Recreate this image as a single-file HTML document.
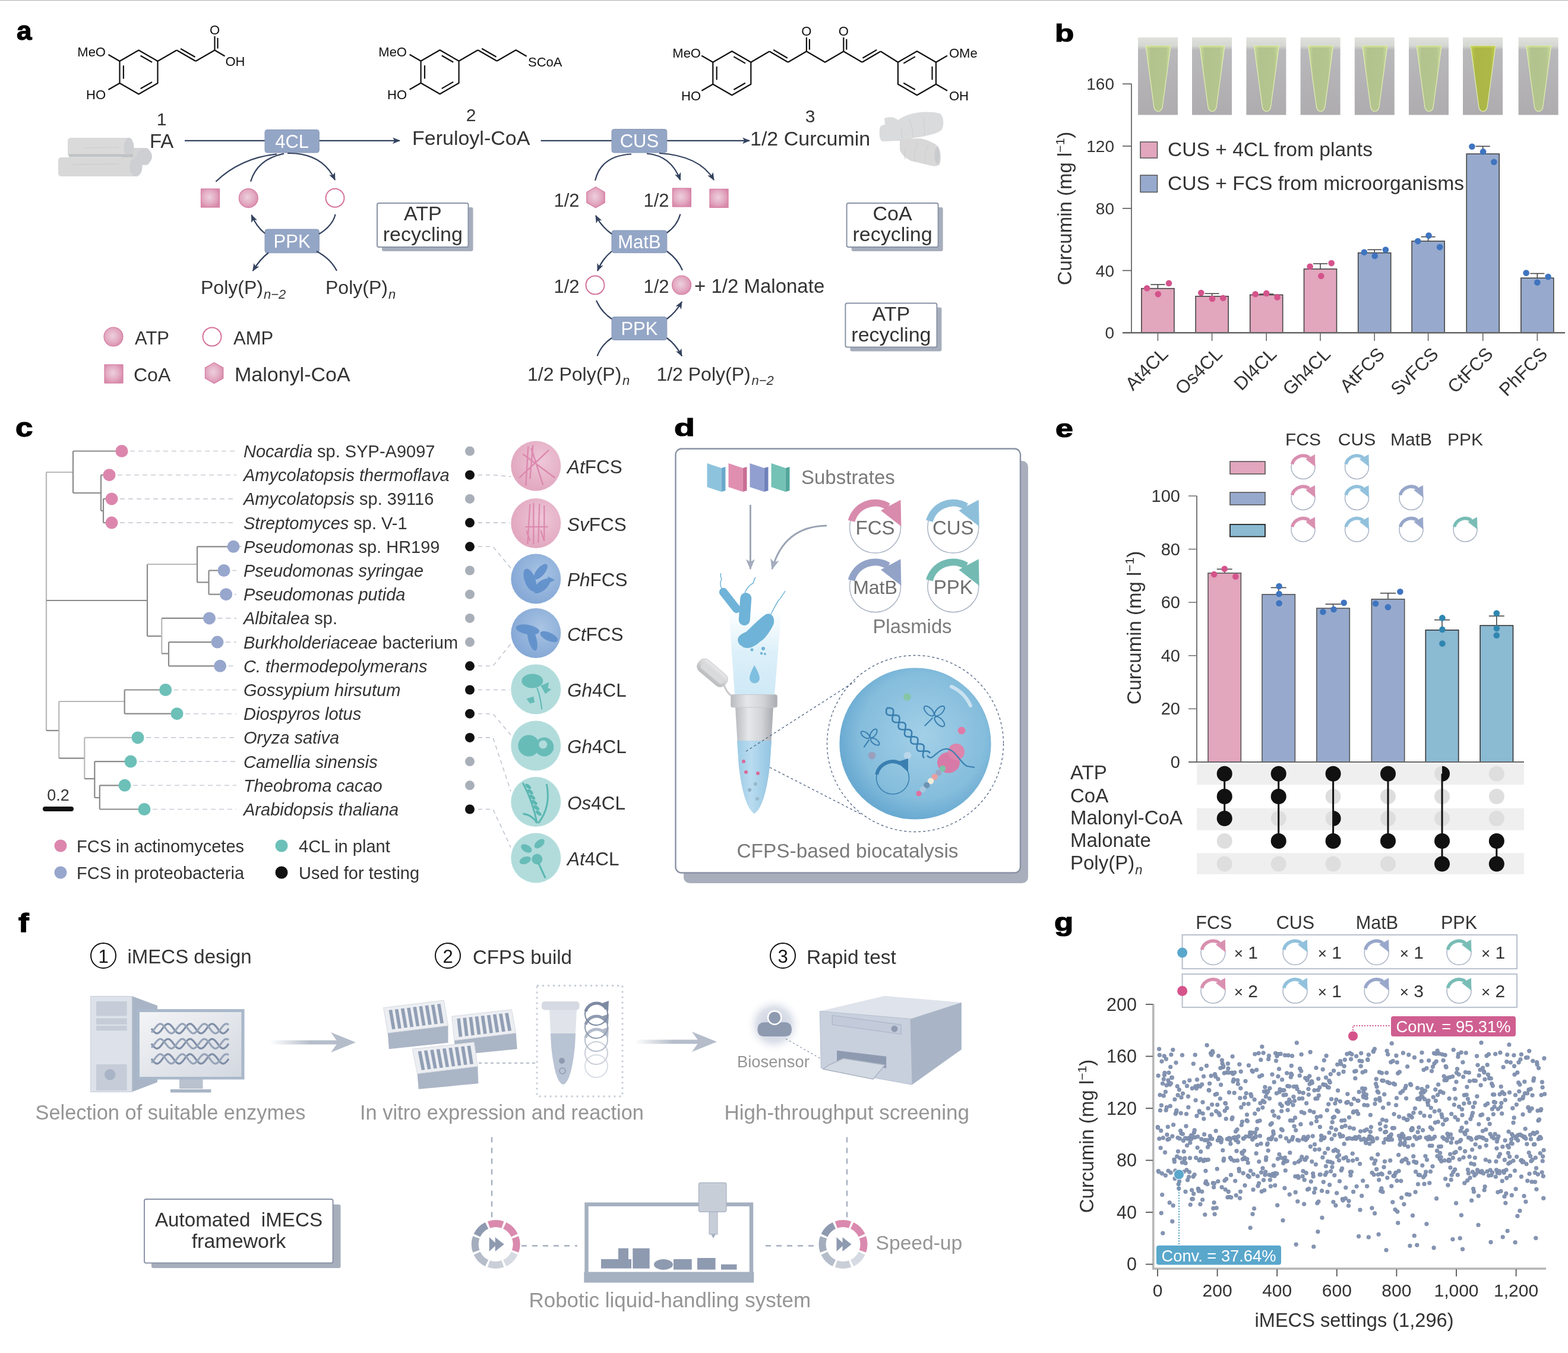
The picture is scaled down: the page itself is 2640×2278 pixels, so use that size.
<!DOCTYPE html>
<html><head><meta charset="utf-8"><title>iMECS curcumin figure</title>
<style>html,body{margin:0;padding:0;background:#fff;overflow:hidden;}svg{display:block;}
text{font-family:"Liberation Sans",Arial,sans-serif;}</style></head>
<body><svg width="2640" height="2278" viewBox="0 0 2640 2278">
<defs>
<marker id="ah" viewBox="0 0 12 10" refX="11" refY="5" markerWidth="13" markerHeight="11" orient="auto" markerUnits="userSpaceOnUse"><path d="M0,0 L12,5 L0,10 L3,5 z" fill="#33425e"/></marker>
<marker id="ahg" viewBox="0 0 12 10" refX="11" refY="5" markerWidth="18" markerHeight="16" orient="auto" markerUnits="userSpaceOnUse"><path d="M0,0 L12,5 L0,10 L3,5 z" fill="#a4acbd"/></marker>
<radialGradient id="pinkg" cx="0.45" cy="0.45" r="0.6"><stop offset="0" stop-color="#ecd0dc"/><stop offset="0.6" stop-color="#e3aac2"/><stop offset="1" stop-color="#d88aab"/></radialGradient>
<linearGradient id="tubebg" x1="0" y1="0" x2="0" y2="1"><stop offset="0" stop-color="#e0e1dc"/><stop offset="0.11" stop-color="#d5d7d2"/><stop offset="0.16" stop-color="#b9b8bb"/><stop offset="1" stop-color="#aeacae"/></linearGradient>
<linearGradient id="tubeliq" x1="0" y1="0" x2="1" y2="0"><stop offset="0" stop-color="#cadc9c"/><stop offset="0.2" stop-color="#b3c38e"/><stop offset="0.8" stop-color="#b5c58f"/><stop offset="1" stop-color="#cadc9c"/></linearGradient>
<linearGradient id="tubeliq2" x1="0" y1="0" x2="1" y2="0"><stop offset="0" stop-color="#c0cc52"/><stop offset="0.2" stop-color="#abb646"/><stop offset="0.8" stop-color="#adb848"/><stop offset="1" stop-color="#c0cc52"/></linearGradient>
<radialGradient id="cpink" cx="0.6" cy="0.4" r="0.6"><stop offset="0" stop-color="#eec7d8"/><stop offset="1" stop-color="#e2a8c0"/></radialGradient>
<radialGradient id="cblue" cx="0.6" cy="0.4" r="0.6"><stop offset="0" stop-color="#a9c4e4"/><stop offset="1" stop-color="#86a9d6"/></radialGradient>
<linearGradient id="beam" x1="0" y1="0" x2="0" y2="1"><stop offset="0" stop-color="#e4f3fa" stop-opacity="0"/><stop offset="0.5" stop-color="#dcf0f9"/><stop offset="1" stop-color="#cfe9f6"/></linearGradient>
<linearGradient id="tubebody" x1="0" y1="0" x2="1" y2="0"><stop offset="0" stop-color="#b9bbc0"/><stop offset="0.35" stop-color="#e6e7ea"/><stop offset="0.7" stop-color="#d2d3d7"/><stop offset="1" stop-color="#a9abb1"/></linearGradient>
<linearGradient id="tubeliqd" x1="0" y1="0" x2="1" y2="0"><stop offset="0" stop-color="#9ccbe6"/><stop offset="0.4" stop-color="#b9dcf0"/><stop offset="1" stop-color="#92c4e2"/></linearGradient>
<radialGradient id="cell" cx="0.55" cy="0.45" r="0.55"><stop offset="0" stop-color="#a3d0e8"/><stop offset="0.75" stop-color="#85bddc"/><stop offset="1" stop-color="#6aaad2"/></radialGradient>
<linearGradient id="capg" x1="0" y1="0" x2="0" y2="1"><stop offset="0" stop-color="#e9e9ea"/><stop offset="1" stop-color="#b9babd"/></linearGradient>
<linearGradient id="garr" x1="0" y1="0" x2="1" y2="0"><stop offset="0" stop-color="#b5bdcb" stop-opacity="0"/><stop offset="0.6" stop-color="#b5bdcb"/><stop offset="1" stop-color="#b5bdcb"/></linearGradient>
<linearGradient id="screen" x1="0" y1="0" x2="1" y2="1"><stop offset="0" stop-color="#f3f4f6"/><stop offset="1" stop-color="#d3d8e0"/></linearGradient>
<radialGradient id="glow" cx="0.5" cy="0.5" r="0.5"><stop offset="0" stop-color="#c3c9da"/><stop offset="0.6" stop-color="#dde1ea"/><stop offset="1" stop-color="#ffffff" stop-opacity="0"/></radialGradient>

</defs>
<rect width="2640" height="2278" fill="#fff"/>
<line x1="0" y1="0.5" x2="2640" y2="0.5" stroke="#bdbdbd" stroke-width="1.5"/>
<g fill="#333">
<text transform="translate(28,66.5) scale(1.04,1.0)" font-size="44" font-weight="bold" fill="#000" stroke="#000" stroke-width="1.3">a</text>
<path d="M233.5,84.5 L265.5,103.0 L265.5,140.0 L233.5,158.5 L201.5,140.0 L201.5,103.0 Z" stroke="#111" stroke-width="2.2" fill="none" stroke-linejoin="round"/>
<line x1="236.6" y1="93.7" x2="256.1" y2="104.9" stroke="#111" stroke-width="2.2"/>
<line x1="256.1" y1="138.1" x2="236.6" y2="149.3" stroke="#111" stroke-width="2.2"/>
<line x1="207.9" y1="132.7" x2="207.9" y2="110.3" stroke="#111" stroke-width="2.2"/>
<line x1="201.5" y1="103.0" x2="182.5" y2="92.0" stroke="#111" stroke-width="2.2"/>
<text x="178.0" y="95.0" font-size="22" text-anchor="end" fill="#111">MeO</text>
<line x1="201.5" y1="140.0" x2="182.5" y2="151.0" stroke="#111" stroke-width="2.2"/>
<text x="178.0" y="167.0" font-size="22" text-anchor="end" fill="#111">HO</text>
<path d="M265.5,103.0 L297.5,84.5" stroke="#111" stroke-width="2.2" fill="none" stroke-linejoin="round"/>
<line x1="297.5" y1="84.5" x2="329.5" y2="103.0" stroke="#111" stroke-width="2.2"/>
<line x1="304.1" y1="82.0" x2="328.5" y2="96.0" stroke="#111" stroke-width="2.2"/>
<path d="M329.5,103.0 L361.5,84.5" stroke="#111" stroke-width="2.2" fill="none" stroke-linejoin="round"/>
<line x1="361.5" y1="84.5" x2="361.5" y2="61.0" stroke="#111" stroke-width="2.2"/>
<line x1="366.5" y1="81.7" x2="366.5" y2="63.8" stroke="#111" stroke-width="2.2"/>
<text x="361.5" y="58.0" font-size="22" text-anchor="middle" fill="#111">O</text>
<path d="M361.5,84.5 L378.5,94.5" stroke="#111" stroke-width="2.2" fill="none" stroke-linejoin="round"/>
<text x="379.5" y="110.5" font-size="22" fill="#111">OH</text>
<path d="M740.6,84.3 L772.6,102.8 L772.6,139.8 L740.6,158.3 L708.6,139.8 L708.6,102.8 Z" stroke="#111" stroke-width="2.2" fill="none" stroke-linejoin="round"/>
<line x1="743.7" y1="93.5" x2="763.2" y2="104.7" stroke="#111" stroke-width="2.2"/>
<line x1="763.2" y1="137.9" x2="743.7" y2="149.1" stroke="#111" stroke-width="2.2"/>
<line x1="715.0" y1="132.5" x2="715.0" y2="110.1" stroke="#111" stroke-width="2.2"/>
<line x1="708.6" y1="102.8" x2="689.6" y2="91.8" stroke="#111" stroke-width="2.2"/>
<text x="685.0" y="95.0" font-size="22" text-anchor="end" fill="#111">MeO</text>
<line x1="708.6" y1="139.8" x2="689.6" y2="150.8" stroke="#111" stroke-width="2.2"/>
<text x="685.0" y="167.0" font-size="22" text-anchor="end" fill="#111">HO</text>
<path d="M772.6,102.8 L804.6,84.3" stroke="#111" stroke-width="2.2" fill="none" stroke-linejoin="round"/>
<line x1="804.6" y1="84.3" x2="836.6" y2="102.8" stroke="#111" stroke-width="2.2"/>
<line x1="811.2" y1="81.8" x2="835.6" y2="95.8" stroke="#111" stroke-width="2.2"/>
<path d="M836.6,102.8 L868.6,84.3 L886.6,94.8" stroke="#111" stroke-width="2.2" fill="none" stroke-linejoin="round"/>
<text x="889.0" y="112.0" font-size="22" fill="#111">SCoA</text>
<path d="M1232.3,86.2 L1264.3,104.7 L1264.3,141.7 L1232.3,160.2 L1200.3,141.7 L1200.3,104.7 Z" stroke="#111" stroke-width="2.2" fill="none" stroke-linejoin="round"/>
<line x1="1235.4" y1="95.4" x2="1254.9" y2="106.6" stroke="#111" stroke-width="2.2"/>
<line x1="1254.9" y1="139.8" x2="1235.4" y2="151.0" stroke="#111" stroke-width="2.2"/>
<line x1="1206.7" y1="134.4" x2="1206.7" y2="112.0" stroke="#111" stroke-width="2.2"/>
<line x1="1200.3" y1="104.7" x2="1181.3" y2="93.7" stroke="#111" stroke-width="2.2"/>
<text x="1180.0" y="97.0" font-size="22" text-anchor="end" fill="#111">MeO</text>
<line x1="1200.3" y1="141.7" x2="1181.3" y2="152.7" stroke="#111" stroke-width="2.2"/>
<text x="1180.0" y="169.0" font-size="22" text-anchor="end" fill="#111">HO</text>
<path d="M1543.9,86.2 L1575.9,104.7 L1575.9,141.7 L1543.9,160.2 L1511.9,141.7 L1511.9,104.7 Z" stroke="#111" stroke-width="2.2" fill="none" stroke-linejoin="round"/>
<line x1="1521.3" y1="106.6" x2="1540.8" y2="95.4" stroke="#111" stroke-width="2.2"/>
<line x1="1569.5" y1="112.0" x2="1569.5" y2="134.4" stroke="#111" stroke-width="2.2"/>
<line x1="1540.8" y1="151.0" x2="1521.3" y2="139.8" stroke="#111" stroke-width="2.2"/>
<path d="M1264.3,104.7 L1295.5,86.5" stroke="#111" stroke-width="2.2" fill="none" stroke-linejoin="round"/>
<line x1="1295.5" y1="86.5" x2="1326.7" y2="104.7" stroke="#111" stroke-width="2.2"/>
<line x1="1302.1" y1="83.9" x2="1325.8" y2="97.8" stroke="#111" stroke-width="2.2"/>
<path d="M1326.7,104.7 L1357.9,86.5 L1389.1,104.7 L1420.3,86.5 L1451.5,104.7" stroke="#111" stroke-width="2.2" fill="none" stroke-linejoin="round"/>
<line x1="1451.5" y1="104.7" x2="1482.7" y2="86.5" stroke="#111" stroke-width="2.2"/>
<line x1="1452.5" y1="97.8" x2="1476.2" y2="83.9" stroke="#111" stroke-width="2.2"/>
<path d="M1482.7,86.5 L1511.9,104.7" stroke="#111" stroke-width="2.2" fill="none" stroke-linejoin="round"/>
<line x1="1357.9" y1="86.5" x2="1357.9" y2="63.0" stroke="#111" stroke-width="2.2"/>
<line x1="1362.9" y1="83.7" x2="1362.9" y2="65.8" stroke="#111" stroke-width="2.2"/>
<text x="1357.9" y="60.0" font-size="22" text-anchor="middle" fill="#111">O</text>
<line x1="1420.3" y1="86.5" x2="1420.3" y2="63.0" stroke="#111" stroke-width="2.2"/>
<line x1="1425.3" y1="83.7" x2="1425.3" y2="65.8" stroke="#111" stroke-width="2.2"/>
<text x="1420.3" y="60.0" font-size="22" text-anchor="middle" fill="#111">O</text>
<line x1="1575.9" y1="104.7" x2="1594.9" y2="93.7" stroke="#111" stroke-width="2.2"/>
<text x="1598.0" y="97.0" font-size="22" fill="#111">OMe</text>
<line x1="1575.9" y1="141.7" x2="1594.9" y2="152.7" stroke="#111" stroke-width="2.2"/>
<text x="1598.0" y="169.0" font-size="22" fill="#111">OH</text>
<text x="272.0" y="211.0" font-size="30" text-anchor="middle">1</text>
<text x="793.0" y="204.0" font-size="30" text-anchor="middle">2</text>
<text x="1364.0" y="206.0" font-size="30" text-anchor="middle">3</text>
<text x="252.0" y="248.6" font-size="33">FA</text>
<text x="694.0" y="243.5" font-size="34">Feruloyl-CoA</text>
<text x="1263.0" y="245.0" font-size="34">1/2 Curcumin</text>
<g opacity="0.95">
<rect x="205.0" y="249.0" width="47.0" height="29.0" rx="6" fill="#d2d2d2"/>
<circle cx="243.0" cy="263.5" r="13.0" fill="#cbcdd0"/>
<rect x="114.0" y="232.0" width="108.0" height="32.0" rx="5" fill="#d9d9d9"/>
<ellipse cx="217" cy="248" rx="8.5" ry="16" fill="#cbcdd0"/>
<rect x="98.0" y="265.0" width="136.0" height="32.0" rx="5" fill="#d6d6d6"/>
<ellipse cx="229" cy="281" rx="10.5" ry="16" fill="#cbcdd0"/>
<rect x="116.0" y="259.5" width="108.0" height="5.0" fill="#bcc0c3"/>
<line x1="120.0" y1="277.0" x2="200.0" y2="276.0" stroke="#c8c8c8" stroke-width="1"/>
<line x1="140.0" y1="249.0" x2="200.0" y2="248.0" stroke="#cacaca" stroke-width="1"/>
</g>
<g fill="#dadbdc">
<path d="M1481,218 C1481,212 1486,210 1490,210 L1489,200 C1489,197 1505,196 1507,199 L1512,202 C1520,197 1528,193 1534,192 C1545,188 1570,187 1582,191 C1590,195 1590,215 1584,220 C1575,226 1555,230 1540,232 L1518,237 L1486,238 C1481,237 1480,226 1481,218 Z"/>
<path d="M1515,234 L1550,233 C1562,236 1574,241 1579,246 C1584,252 1585,270 1582,277 C1578,281 1570,280 1560,277 L1534,271 C1525,266 1517,260 1515,252 Z" fill="#d8d8d9"/>
</g>
<ellipse cx="1578" cy="262" rx="4.5" ry="14" fill="#cacbce"/>
<path d="M1525,248 Q1522,258 1524,268 M1546,240 Q1538,255 1540,272 M1563,244 Q1556,258 1558,276 M1530,201 Q1537,214 1537,230 M1555,197 L1557,228 M1517,215 L1519,232" stroke="#cdd0d3" stroke-width="1.2" fill="none"/>
<path d="M311,236.8 L446,236.8" stroke="#33425e" stroke-width="2.2" fill="none"/>
<path d="M537,236.8 L673,236.8" stroke="#33425e" stroke-width="2.2" fill="none" marker-end="url(#ah)"/>
<path d="M910.6,236.8 L1030,236.8" stroke="#33425e" stroke-width="2.2" fill="none"/>
<path d="M1122.8,236.8 L1262,236.8" stroke="#33425e" stroke-width="2.2" fill="none" marker-end="url(#ah)"/>
<rect x="446.0" y="218.5" width="91.3" height="38.5" rx="4" fill="#94a6c6" stroke="#8797b6" stroke-width="1"/>
<text x="491.6" y="248.9" font-size="31" text-anchor="middle" fill="#fff">4CL</text>
<rect x="1030.0" y="217.5" width="92.8" height="39.5" rx="4" fill="#94a6c6" stroke="#8797b6" stroke-width="1"/>
<text x="1076.4" y="248.4" font-size="31" text-anchor="middle" fill="#fff">CUS</text>
<rect x="338.5" y="318.0" width="31.0" height="31.0" fill="url(#pinkg)" stroke="#d47ca0" stroke-width="1.2"/>
<circle cx="418.3" cy="333.6" r="16.0" fill="url(#pinkg)" stroke="#d47ca0" stroke-width="1.2"/>
<circle cx="564.0" cy="333.3" r="15.5" fill="#fff" stroke="#d4729a" stroke-width="2"/>
<path d="M363.4,305.7 Q405,266 466,259.4" stroke="#33425e" stroke-width="2.2" fill="none"/>
<path d="M422,305.7 Q433,268 478,258.6" stroke="#33425e" stroke-width="2.2" fill="none"/>
<path d="M484,258 Q543,257 564,303" stroke="#33425e" stroke-width="2.2" fill="none" marker-end="url(#ah)"/>
<rect x="446.0" y="386.0" width="91.3" height="39.8" rx="4" fill="#94a6c6" stroke="#8797b6" stroke-width="1"/>
<text x="491.6" y="417.1" font-size="31" text-anchor="middle" fill="#fff">PPK</text>
<path d="M446,393 Q432,382 423.5,362" stroke="#33425e" stroke-width="2.2" fill="none" marker-end="url(#ah)"/>
<path d="M564.7,360.7 Q560,380 537.2,394" stroke="#33425e" stroke-width="2.2" fill="none"/>
<path d="M452,425.5 Q438,436 425.7,456" stroke="#33425e" stroke-width="2.2" fill="none" marker-end="url(#ah)"/>
<path d="M567,456 Q557,436 533,423" stroke="#33425e" stroke-width="2.2" fill="none"/>
<text x="338.0" y="495.0" font-size="32">Poly(P)</text>
<text x="443.9" y="503.0" font-size="22" font-style="italic">n−2</text>
<text x="548.0" y="495.0" font-size="32">Poly(P)</text>
<text x="653.9" y="503.0" font-size="22" font-style="italic">n</text>
<rect x="643.0" y="349.0" width="153.5" height="74.0" rx="3" fill="#a6aebc"/>
<rect x="635.0" y="342.0" width="153.5" height="74.0" rx="3" fill="#fff" stroke="#8a94a7" stroke-width="2"/>
<text x="711.8" y="371.0" font-size="34" text-anchor="middle">ATP</text>
<text x="711.8" y="406.0" font-size="34" text-anchor="middle">recycling</text>
<circle cx="191.0" cy="567.0" r="16.0" fill="url(#pinkg)" stroke="#d47ca0" stroke-width="1.2"/>
<text x="227.0" y="580.0" font-size="31">ATP</text>
<circle cx="357.0" cy="567.0" r="15.5" fill="#fff" stroke="#d4729a" stroke-width="2"/>
<text x="393.0" y="580.0" font-size="31">AMP</text>
<rect x="176.0" y="614.0" width="31.0" height="31.0" fill="url(#pinkg)" stroke="#d47ca0" stroke-width="1.2"/>
<text x="225.0" y="642.0" font-size="32">CoA</text>
<polygon points="360.6,610.5 375.8,619.2 375.8,636.8 360.6,645.5 345.4,636.8 345.4,619.2" fill="url(#pinkg)" stroke="#d47ca0" stroke-width="1.2"/>
<text x="395.0" y="642.0" font-size="34">Malonyl-CoA</text>
<text x="932.5" y="347.5" font-size="31">1/2</text>
<polygon points="1003.0,314.8 1018.2,323.6 1018.2,341.1 1003.0,349.8 987.8,341.1 987.8,323.6" fill="url(#pinkg)" stroke="#d47ca0" stroke-width="1.2"/>
<text x="1083.5" y="347.5" font-size="31">1/2</text>
<rect x="1132.4" y="317.0" width="31.0" height="31.0" fill="url(#pinkg)" stroke="#d47ca0" stroke-width="1.2"/>
<rect x="1195.0" y="318.4" width="31.0" height="31.0" fill="url(#pinkg)" stroke="#d47ca0" stroke-width="1.2"/>
<path d="M1002,304 Q1012,262 1063,259.5" stroke="#33425e" stroke-width="2.2" fill="none"/>
<path d="M1089,258.5 Q1130,262 1145.4,303" stroke="#33425e" stroke-width="2.2" fill="none" marker-end="url(#ah)"/>
<path d="M1110,258 Q1178,262 1202,303" stroke="#33425e" stroke-width="2.2" fill="none" marker-end="url(#ah)"/>
<rect x="1030.0" y="388.0" width="92.8" height="37.7" rx="4" fill="#94a6c6" stroke="#8797b6" stroke-width="1"/>
<text x="1076.4" y="418.0" font-size="31" text-anchor="middle" fill="#fff">MatB</text>
<path d="M1030,394 Q1013,382 1003,363" stroke="#33425e" stroke-width="2.2" fill="none" marker-end="url(#ah)"/>
<path d="M1145.4,360.5 Q1140,380 1122.8,392" stroke="#33425e" stroke-width="2.2" fill="none"/>
<path d="M1030,423 Q1014,436 1006,456" stroke="#33425e" stroke-width="2.2" fill="none" marker-end="url(#ah)"/>
<path d="M1149,455 Q1141,436 1122.8,423" stroke="#33425e" stroke-width="2.2" fill="none"/>
<text x="932.5" y="493.0" font-size="31">1/2</text>
<circle cx="1002.0" cy="480.0" r="15.5" fill="#fff" stroke="#d4729a" stroke-width="2"/>
<text x="1083.5" y="493.0" font-size="31">1/2</text>
<circle cx="1147.6" cy="480.0" r="16.0" fill="url(#pinkg)" stroke="#d47ca0" stroke-width="1.2"/>
<text x="1169.0" y="493.0" font-size="33">+ 1/2 Malonate</text>
<rect x="1030.0" y="533.5" width="92.8" height="39.0" rx="4" fill="#94a6c6" stroke="#8797b6" stroke-width="1"/>
<text x="1076.4" y="564.2" font-size="31" text-anchor="middle" fill="#fff">PPK</text>
<path d="M1004,506 Q1013,526 1030,537" stroke="#33425e" stroke-width="2.2" fill="none"/>
<path d="M1122.8,537 Q1138,526 1148,508" stroke="#33425e" stroke-width="2.2" fill="none" marker-end="url(#ah)"/>
<path d="M1005.5,599.5 Q1013,580 1030,569" stroke="#33425e" stroke-width="2.2" fill="none"/>
<path d="M1122.8,569 Q1138,580 1148,599.5" stroke="#33425e" stroke-width="2.2" fill="none" marker-end="url(#ah)"/>
<text x="888.0" y="640.7" font-size="32">1/2 Poly(P)</text>
<text x="1048.0" y="648.0" font-size="22" font-style="italic">n</text>
<text x="1105.4" y="640.7" font-size="32">1/2 Poly(P)</text>
<text x="1265.5" y="648.0" font-size="22" font-style="italic">n−2</text>
<rect x="1433.6" y="349.0" width="154.0" height="74.0" rx="3" fill="#a6aebc"/>
<rect x="1425.6" y="342.0" width="154.0" height="74.0" rx="3" fill="#fff" stroke="#8a94a7" stroke-width="2"/>
<text x="1502.6" y="371.0" font-size="34" text-anchor="middle">CoA</text>
<text x="1502.6" y="406.0" font-size="34" text-anchor="middle">recycling</text>
<rect x="1431.4" y="517.5" width="154.0" height="74.0" rx="3" fill="#a6aebc"/>
<rect x="1423.4" y="510.5" width="154.0" height="74.0" rx="3" fill="#fff" stroke="#8a94a7" stroke-width="2"/>
<text x="1500.4" y="539.5" font-size="34" text-anchor="middle">ATP</text>
<text x="1500.4" y="574.5" font-size="34" text-anchor="middle">recycling</text>
<text transform="translate(1776,69.5) scale(1.2,0.93)" font-size="44" font-weight="bold" fill="#000" stroke="#000" stroke-width="1.3">b</text>
<rect x="1916.0" y="63.0" width="67.0" height="130.5" fill="url(#tubebg)"/>
<path d="M1929,77 L1971,77 L1957,181 Q1955,187.5 1950,187.5 Q1945,187.5 1943,181 Z" fill="url(#tubeliq)" stroke="#e2f0b0" stroke-width="1.2"/>
<line x1="1929.0" y1="79.0" x2="1971.0" y2="79.0" stroke="#d0e090" stroke-width="1.5"/>
<rect x="2007.0" y="63.0" width="67.0" height="130.5" fill="url(#tubebg)"/>
<path d="M2020,77 L2062,77 L2048,181 Q2046,187.5 2041,187.5 Q2036,187.5 2034,181 Z" fill="url(#tubeliq)" stroke="#e2f0b0" stroke-width="1.2"/>
<line x1="2020.0" y1="79.0" x2="2062.0" y2="79.0" stroke="#d0e090" stroke-width="1.5"/>
<rect x="2098.4" y="63.0" width="67.0" height="130.5" fill="url(#tubebg)"/>
<path d="M2111.4,77 L2153.4,77 L2139.4,181 Q2137.4,187.5 2132.4,187.5 Q2127.4,187.5 2125.4,181 Z" fill="url(#tubeliq)" stroke="#e2f0b0" stroke-width="1.2"/>
<line x1="2111.4" y1="79.0" x2="2153.4" y2="79.0" stroke="#d0e090" stroke-width="1.5"/>
<rect x="2189.6" y="63.0" width="67.0" height="130.5" fill="url(#tubebg)"/>
<path d="M2202.6,77 L2244.6,77 L2230.6,181 Q2228.6,187.5 2223.6,187.5 Q2218.6,187.5 2216.6,181 Z" fill="url(#tubeliq)" stroke="#e2f0b0" stroke-width="1.2"/>
<line x1="2202.6" y1="79.0" x2="2244.6" y2="79.0" stroke="#d0e090" stroke-width="1.5"/>
<rect x="2280.8" y="63.0" width="67.0" height="130.5" fill="url(#tubebg)"/>
<path d="M2293.8,77 L2335.8,77 L2321.8,181 Q2319.8,187.5 2314.8,187.5 Q2309.8,187.5 2307.8,181 Z" fill="url(#tubeliq)" stroke="#e2f0b0" stroke-width="1.2"/>
<line x1="2293.8" y1="79.0" x2="2335.8" y2="79.0" stroke="#d0e090" stroke-width="1.5"/>
<rect x="2372.0" y="63.0" width="67.0" height="130.5" fill="url(#tubebg)"/>
<path d="M2385,77 L2427,77 L2413,181 Q2411,187.5 2406,187.5 Q2401,187.5 2399,181 Z" fill="url(#tubeliq)" stroke="#e2f0b0" stroke-width="1.2"/>
<line x1="2385.0" y1="79.0" x2="2427.0" y2="79.0" stroke="#d0e090" stroke-width="1.5"/>
<rect x="2463.0" y="63.0" width="67.0" height="130.5" fill="url(#tubebg)"/>
<path d="M2476,77 L2518,77 L2504,181 Q2502,187.5 2497,187.5 Q2492,187.5 2490,181 Z" fill="url(#tubeliq2)" stroke="#e2f0b0" stroke-width="1.2"/>
<line x1="2476.0" y1="79.0" x2="2518.0" y2="79.0" stroke="#c8d450" stroke-width="1.5"/>
<rect x="2556.6" y="63.0" width="67.0" height="130.5" fill="url(#tubebg)"/>
<path d="M2569.6,77 L2611.6,77 L2597.6,181 Q2595.6,187.5 2590.6,187.5 Q2585.6,187.5 2583.6,181 Z" fill="url(#tubeliq)" stroke="#e2f0b0" stroke-width="1.2"/>
<line x1="2569.6" y1="79.0" x2="2611.6" y2="79.0" stroke="#d0e090" stroke-width="1.5"/>
<line x1="1905.0" y1="141.0" x2="1905.0" y2="560.3" stroke="#555" stroke-width="1.6"/>
<line x1="1890.0" y1="560.3" x2="1905.0" y2="560.3" stroke="#555" stroke-width="1.6"/>
<text x="1876.0" y="570.3" font-size="28" text-anchor="end">0</text>
<line x1="1890.0" y1="455.5" x2="1905.0" y2="455.5" stroke="#555" stroke-width="1.6"/>
<text x="1876.0" y="465.5" font-size="28" text-anchor="end">40</text>
<line x1="1890.0" y1="350.8" x2="1905.0" y2="350.8" stroke="#555" stroke-width="1.6"/>
<text x="1876.0" y="360.8" font-size="28" text-anchor="end">80</text>
<line x1="1890.0" y1="246.0" x2="1905.0" y2="246.0" stroke="#555" stroke-width="1.6"/>
<text x="1876.0" y="256.0" font-size="28" text-anchor="end">120</text>
<line x1="1890.0" y1="141.3" x2="1905.0" y2="141.3" stroke="#555" stroke-width="1.6"/>
<text x="1876.0" y="151.3" font-size="28" text-anchor="end">160</text>
<rect x="1920.0" y="239.0" width="28.5" height="27.0" fill="#e2a6bd" stroke="#555" stroke-width="1.5"/>
<rect x="1920.0" y="295.0" width="28.5" height="28.5" fill="#97aacd" stroke="#555" stroke-width="1.5"/>
<text x="1966.0" y="263.0" font-size="33.6">CUS + 4CL from plants</text>
<text x="1966.0" y="320.0" font-size="33.6">CUS + FCS from microorganisms</text>
<line x1="1949.4" y1="485.7" x2="1949.4" y2="479.1" stroke="#444" stroke-width="1.6"/>
<line x1="1937.4" y1="479.1" x2="1961.4" y2="479.1" stroke="#444" stroke-width="1.6"/>
<rect x="1921.9" y="485.7" width="55.0" height="74.6" fill="#e2a6bd" stroke="#444" stroke-width="1.6"/>
<circle cx="1931.1" cy="485.2" r="5.3" fill="#d4538b"/>
<circle cx="1949.8" cy="495.2" r="5.3" fill="#d4538b"/>
<circle cx="1968.0" cy="476.9" r="5.3" fill="#d4538b"/>
<line x1="1949.4" y1="560.3" x2="1949.4" y2="574.0" stroke="#666" stroke-width="1.6"/>
<text x="0" y="0" font-size="31" text-anchor="end" transform="translate(1968.4,598.0) rotate(-45)">At4CL</text>
<line x1="2040.6" y1="498.8" x2="2040.6" y2="494.3" stroke="#444" stroke-width="1.6"/>
<line x1="2028.6" y1="494.3" x2="2052.6" y2="494.3" stroke="#444" stroke-width="1.6"/>
<rect x="2013.1" y="498.8" width="55.0" height="61.5" fill="#e2a6bd" stroke="#444" stroke-width="1.6"/>
<circle cx="2022.3" cy="493.0" r="5.3" fill="#d4538b"/>
<circle cx="2041.0" cy="503.0" r="5.3" fill="#d4538b"/>
<circle cx="2059.3" cy="501.7" r="5.3" fill="#d4538b"/>
<line x1="2040.6" y1="560.3" x2="2040.6" y2="574.0" stroke="#666" stroke-width="1.6"/>
<text x="0" y="0" font-size="31" text-anchor="end" transform="translate(2059.6,598.0) rotate(-45)">Os4CL</text>
<line x1="2132.2" y1="496.4" x2="2132.2" y2="495.1" stroke="#444" stroke-width="1.6"/>
<line x1="2120.2" y1="495.1" x2="2144.2" y2="495.1" stroke="#444" stroke-width="1.6"/>
<rect x="2104.7" y="496.4" width="55.0" height="63.9" fill="#e2a6bd" stroke="#444" stroke-width="1.6"/>
<circle cx="2113.6" cy="495.2" r="5.3" fill="#d4538b"/>
<circle cx="2132.2" cy="493.9" r="5.3" fill="#d4538b"/>
<circle cx="2150.5" cy="500.4" r="5.3" fill="#d4538b"/>
<line x1="2132.2" y1="560.3" x2="2132.2" y2="574.0" stroke="#666" stroke-width="1.6"/>
<text x="0" y="0" font-size="31" text-anchor="end" transform="translate(2151.2,598.0) rotate(-45)">Dl4CL</text>
<line x1="2223.0" y1="452.9" x2="2223.0" y2="444.0" stroke="#444" stroke-width="1.6"/>
<line x1="2211.0" y1="444.0" x2="2235.0" y2="444.0" stroke="#444" stroke-width="1.6"/>
<rect x="2195.5" y="452.9" width="55.0" height="107.4" fill="#e2a6bd" stroke="#444" stroke-width="1.6"/>
<circle cx="2205.6" cy="448.7" r="5.3" fill="#d4538b"/>
<circle cx="2224.3" cy="464.8" r="5.3" fill="#d4538b"/>
<circle cx="2241.7" cy="443.1" r="5.3" fill="#d4538b"/>
<line x1="2223.0" y1="560.3" x2="2223.0" y2="574.0" stroke="#666" stroke-width="1.6"/>
<text x="0" y="0" font-size="31" text-anchor="end" transform="translate(2242.0,598.0) rotate(-45)">Gh4CL</text>
<line x1="2314.2" y1="425.7" x2="2314.2" y2="420.4" stroke="#444" stroke-width="1.6"/>
<line x1="2302.2" y1="420.4" x2="2326.2" y2="420.4" stroke="#444" stroke-width="1.6"/>
<rect x="2286.7" y="425.7" width="55.0" height="134.6" fill="#97aacd" stroke="#444" stroke-width="1.6"/>
<circle cx="2296.9" cy="424.8" r="5.3" fill="#3f74bf"/>
<circle cx="2314.7" cy="430.9" r="5.3" fill="#3f74bf"/>
<circle cx="2332.9" cy="420.5" r="5.3" fill="#3f74bf"/>
<line x1="2314.2" y1="560.3" x2="2314.2" y2="574.0" stroke="#666" stroke-width="1.6"/>
<text x="0" y="0" font-size="31" text-anchor="end" transform="translate(2333.2,598.0) rotate(-45)">AtFCS</text>
<line x1="2404.6" y1="406.0" x2="2404.6" y2="398.7" stroke="#444" stroke-width="1.6"/>
<line x1="2392.6" y1="398.7" x2="2416.6" y2="398.7" stroke="#444" stroke-width="1.6"/>
<rect x="2377.1" y="406.0" width="55.0" height="154.3" fill="#97aacd" stroke="#444" stroke-width="1.6"/>
<circle cx="2387.2" cy="406.1" r="5.3" fill="#3f74bf"/>
<circle cx="2405.5" cy="396.6" r="5.3" fill="#3f74bf"/>
<circle cx="2424.1" cy="416.1" r="5.3" fill="#3f74bf"/>
<line x1="2404.6" y1="560.3" x2="2404.6" y2="574.0" stroke="#666" stroke-width="1.6"/>
<text x="0" y="0" font-size="31" text-anchor="end" transform="translate(2423.6,598.0) rotate(-45)">SvFCS</text>
<line x1="2496.7" y1="259.1" x2="2496.7" y2="246.3" stroke="#444" stroke-width="1.6"/>
<line x1="2484.7" y1="246.3" x2="2508.7" y2="246.3" stroke="#444" stroke-width="1.6"/>
<rect x="2469.2" y="259.1" width="55.0" height="301.2" fill="#97aacd" stroke="#444" stroke-width="1.6"/>
<circle cx="2478.4" cy="246.7" r="5.3" fill="#3f74bf"/>
<circle cx="2497.1" cy="255.4" r="5.3" fill="#3f74bf"/>
<circle cx="2515.3" cy="272.8" r="5.3" fill="#3f74bf"/>
<line x1="2496.7" y1="560.3" x2="2496.7" y2="574.0" stroke="#666" stroke-width="1.6"/>
<text x="0" y="0" font-size="31" text-anchor="end" transform="translate(2515.7,598.0) rotate(-45)">CtFCS</text>
<line x1="2588.3" y1="468.1" x2="2588.3" y2="460.5" stroke="#444" stroke-width="1.6"/>
<line x1="2576.3" y1="460.5" x2="2600.3" y2="460.5" stroke="#444" stroke-width="1.6"/>
<rect x="2560.8" y="468.1" width="55.0" height="92.2" fill="#97aacd" stroke="#444" stroke-width="1.6"/>
<circle cx="2569.6" cy="459.6" r="5.3" fill="#3f74bf"/>
<circle cx="2588.3" cy="475.6" r="5.3" fill="#3f74bf"/>
<circle cx="2606.6" cy="466.1" r="5.3" fill="#3f74bf"/>
<line x1="2588.3" y1="560.3" x2="2588.3" y2="574.0" stroke="#666" stroke-width="1.6"/>
<text x="0" y="0" font-size="31" text-anchor="end" transform="translate(2607.3,598.0) rotate(-45)">PhFCS</text>
<line x1="1890.0" y1="560.3" x2="2635.0" y2="560.3" stroke="#666" stroke-width="2.4"/>
<text x="0" y="0" font-size="33" text-anchor="middle" transform="translate(1804,351) rotate(-90)">Curcumin (mg l<tspan font-size="21" dy="-12">−1</tspan><tspan dy="12">)</tspan></text>
<text transform="translate(26,735) scale(1.2,1.0)" font-size="44" font-weight="bold" fill="#000" stroke="#000" stroke-width="1.3">c</text>
<line x1="78.0" y1="795.0" x2="78.0" y2="1230.0" stroke="#b8b8b8" stroke-width="2.2"/>
<line x1="78.0" y1="795.0" x2="123.0" y2="795.0" stroke="#b8b8b8" stroke-width="2.2"/>
<line x1="123.0" y1="759.5" x2="123.0" y2="830.0" stroke="#8a8a8a" stroke-width="2.2"/>
<line x1="123.0" y1="759.5" x2="205.0" y2="759.5" stroke="#8a8a8a" stroke-width="2.2"/>
<line x1="123.0" y1="830.0" x2="170.0" y2="830.0" stroke="#8a8a8a" stroke-width="2.2"/>
<line x1="170.0" y1="799.7" x2="170.0" y2="860.0" stroke="#8a8a8a" stroke-width="2.2"/>
<line x1="170.0" y1="799.7" x2="184.0" y2="799.7" stroke="#8a8a8a" stroke-width="2.2"/>
<line x1="170.0" y1="860.0" x2="174.0" y2="860.0" stroke="#8a8a8a" stroke-width="2.2"/>
<line x1="174.0" y1="839.9" x2="174.0" y2="880.1" stroke="#8a8a8a" stroke-width="2.2"/>
<line x1="174.0" y1="839.9" x2="188.0" y2="839.9" stroke="#8a8a8a" stroke-width="2.2"/>
<line x1="174.0" y1="880.1" x2="188.0" y2="880.1" stroke="#8a8a8a" stroke-width="2.2"/>
<line x1="78.0" y1="1011.0" x2="248.0" y2="1011.0" stroke="#8a8a8a" stroke-width="2.2"/>
<line x1="248.0" y1="950.0" x2="248.0" y2="1071.0" stroke="#8a8a8a" stroke-width="2.2"/>
<line x1="248.0" y1="950.0" x2="332.0" y2="950.0" stroke="#b8b8b8" stroke-width="2.2"/>
<line x1="332.0" y1="920.3" x2="332.0" y2="980.4" stroke="#8a8a8a" stroke-width="2.2"/>
<line x1="332.0" y1="920.3" x2="393.0" y2="920.3" stroke="#8a8a8a" stroke-width="2.2"/>
<line x1="332.0" y1="980.4" x2="351.5" y2="980.4" stroke="#8a8a8a" stroke-width="2.2"/>
<line x1="351.5" y1="960.5" x2="351.5" y2="1000.7" stroke="#8a8a8a" stroke-width="2.2"/>
<line x1="351.5" y1="960.5" x2="377.0" y2="960.5" stroke="#8a8a8a" stroke-width="2.2"/>
<line x1="351.5" y1="1000.7" x2="380.6" y2="1000.7" stroke="#8a8a8a" stroke-width="2.2"/>
<line x1="248.0" y1="1071.0" x2="272.3" y2="1071.0" stroke="#8a8a8a" stroke-width="2.2"/>
<line x1="272.3" y1="1040.9" x2="272.3" y2="1100.4" stroke="#b8b8b8" stroke-width="2.2"/>
<line x1="272.3" y1="1040.9" x2="352.5" y2="1040.9" stroke="#8a8a8a" stroke-width="2.2"/>
<line x1="272.3" y1="1100.4" x2="284.0" y2="1100.4" stroke="#8a8a8a" stroke-width="2.2"/>
<line x1="284.0" y1="1081.1" x2="284.0" y2="1121.3" stroke="#8a8a8a" stroke-width="2.2"/>
<line x1="284.0" y1="1081.1" x2="366.0" y2="1081.1" stroke="#8a8a8a" stroke-width="2.2"/>
<line x1="284.0" y1="1121.3" x2="370.6" y2="1121.3" stroke="#8a8a8a" stroke-width="2.2"/>
<line x1="78.0" y1="1230.0" x2="99.3" y2="1230.0" stroke="#8a8a8a" stroke-width="2.2"/>
<line x1="99.3" y1="1181.0" x2="99.3" y2="1276.6" stroke="#b8b8b8" stroke-width="2.2"/>
<line x1="99.3" y1="1181.0" x2="209.7" y2="1181.0" stroke="#b8b8b8" stroke-width="2.2"/>
<line x1="209.7" y1="1161.5" x2="209.7" y2="1201.7" stroke="#8a8a8a" stroke-width="2.2"/>
<line x1="209.7" y1="1161.5" x2="278.7" y2="1161.5" stroke="#8a8a8a" stroke-width="2.2"/>
<line x1="209.7" y1="1201.7" x2="298.0" y2="1201.7" stroke="#8a8a8a" stroke-width="2.2"/>
<line x1="99.3" y1="1276.6" x2="142.3" y2="1276.6" stroke="#8a8a8a" stroke-width="2.2"/>
<line x1="142.3" y1="1241.9" x2="142.3" y2="1311.1" stroke="#b8b8b8" stroke-width="2.2"/>
<line x1="142.3" y1="1241.9" x2="232.0" y2="1241.9" stroke="#b8b8b8" stroke-width="2.2"/>
<line x1="142.3" y1="1311.1" x2="159.3" y2="1311.1" stroke="#8a8a8a" stroke-width="2.2"/>
<line x1="159.3" y1="1282.1" x2="159.3" y2="1343.0" stroke="#8a8a8a" stroke-width="2.2"/>
<line x1="159.3" y1="1282.1" x2="220.0" y2="1282.1" stroke="#8a8a8a" stroke-width="2.2"/>
<line x1="159.3" y1="1343.0" x2="167.8" y2="1343.0" stroke="#8a8a8a" stroke-width="2.2"/>
<line x1="167.8" y1="1322.3" x2="167.8" y2="1362.5" stroke="#8a8a8a" stroke-width="2.2"/>
<line x1="167.8" y1="1322.3" x2="210.0" y2="1322.3" stroke="#8a8a8a" stroke-width="2.2"/>
<line x1="167.8" y1="1362.5" x2="243.0" y2="1362.5" stroke="#8a8a8a" stroke-width="2.2"/>
<line x1="219.0" y1="759.5" x2="398.0" y2="759.5" stroke="#c9ced6" stroke-width="1.6" stroke-dasharray="8 6"/>
<circle cx="205.0" cy="759.5" r="10.5" fill="#dc86ad"/>
<text x="410" y="770.0" font-size="29"><tspan font-style="italic">Nocardia</tspan> sp. SYP-A9097</text>
<circle cx="791.0" cy="759.5" r="8.0" fill="#a9afb8"/>
<line x1="198.0" y1="799.7" x2="398.0" y2="799.7" stroke="#c9ced6" stroke-width="1.6" stroke-dasharray="8 6"/>
<circle cx="184.0" cy="799.7" r="10.5" fill="#dc86ad"/>
<text x="410" y="810.2" font-size="29"><tspan font-style="italic">Amycolatopsis thermoflava</tspan></text>
<circle cx="791.0" cy="799.7" r="8.0" fill="#111"/>
<line x1="202.0" y1="839.9" x2="398.0" y2="839.9" stroke="#c9ced6" stroke-width="1.6" stroke-dasharray="8 6"/>
<circle cx="188.0" cy="839.9" r="10.5" fill="#dc86ad"/>
<text x="410" y="850.4" font-size="29"><tspan font-style="italic">Amycolatopsis</tspan> sp. 39116</text>
<circle cx="791.0" cy="839.9" r="8.0" fill="#a9afb8"/>
<line x1="202.0" y1="880.1" x2="398.0" y2="880.1" stroke="#c9ced6" stroke-width="1.6" stroke-dasharray="8 6"/>
<circle cx="188.0" cy="880.1" r="10.5" fill="#dc86ad"/>
<text x="410" y="890.6" font-size="29"><tspan font-style="italic">Streptomyces</tspan> sp. V-1</text>
<circle cx="791.0" cy="880.1" r="8.0" fill="#111"/>
<line x1="407.0" y1="920.3" x2="398.0" y2="920.3" stroke="#c9ced6" stroke-width="1.6" stroke-dasharray="8 6"/>
<circle cx="393.0" cy="920.3" r="10.5" fill="#97a6cc"/>
<text x="410" y="930.8" font-size="29"><tspan font-style="italic">Pseudomonas</tspan> sp. HR199</text>
<circle cx="791.0" cy="920.3" r="8.0" fill="#111"/>
<line x1="391.0" y1="960.5" x2="398.0" y2="960.5" stroke="#c9ced6" stroke-width="1.6" stroke-dasharray="8 6"/>
<circle cx="377.0" cy="960.5" r="10.5" fill="#97a6cc"/>
<text x="410" y="971.0" font-size="29"><tspan font-style="italic">Pseudomonas syringae</tspan></text>
<circle cx="791.0" cy="960.5" r="8.0" fill="#a9afb8"/>
<line x1="394.6" y1="1000.7" x2="398.0" y2="1000.7" stroke="#c9ced6" stroke-width="1.6" stroke-dasharray="8 6"/>
<circle cx="380.6" cy="1000.7" r="10.5" fill="#97a6cc"/>
<text x="410" y="1011.2" font-size="29"><tspan font-style="italic">Pseudomonas putida</tspan></text>
<circle cx="791.0" cy="1000.7" r="8.0" fill="#a9afb8"/>
<line x1="366.5" y1="1040.9" x2="398.0" y2="1040.9" stroke="#c9ced6" stroke-width="1.6" stroke-dasharray="8 6"/>
<circle cx="352.5" cy="1040.9" r="10.5" fill="#97a6cc"/>
<text x="410" y="1051.4" font-size="29"><tspan font-style="italic">Albitalea</tspan> sp.</text>
<circle cx="791.0" cy="1040.9" r="8.0" fill="#a9afb8"/>
<line x1="380.0" y1="1081.1" x2="398.0" y2="1081.1" stroke="#c9ced6" stroke-width="1.6" stroke-dasharray="8 6"/>
<circle cx="366.0" cy="1081.1" r="10.5" fill="#97a6cc"/>
<text x="410" y="1091.6" font-size="29"><tspan font-style="italic">Burkholderiaceae</tspan> bacterium</text>
<circle cx="791.0" cy="1081.1" r="8.0" fill="#a9afb8"/>
<line x1="384.6" y1="1121.3" x2="398.0" y2="1121.3" stroke="#c9ced6" stroke-width="1.6" stroke-dasharray="8 6"/>
<circle cx="370.6" cy="1121.3" r="10.5" fill="#97a6cc"/>
<text x="410" y="1131.8" font-size="29"><tspan font-style="italic">C. thermodepolymerans</tspan></text>
<circle cx="791.0" cy="1121.3" r="8.0" fill="#111"/>
<line x1="292.7" y1="1161.5" x2="398.0" y2="1161.5" stroke="#c9ced6" stroke-width="1.6" stroke-dasharray="8 6"/>
<circle cx="278.7" cy="1161.5" r="10.5" fill="#6cc0b8"/>
<text x="410" y="1172.0" font-size="29"><tspan font-style="italic">Gossypium hirsutum</tspan></text>
<circle cx="791.0" cy="1161.5" r="8.0" fill="#111"/>
<line x1="312.0" y1="1201.7" x2="398.0" y2="1201.7" stroke="#c9ced6" stroke-width="1.6" stroke-dasharray="8 6"/>
<circle cx="298.0" cy="1201.7" r="10.5" fill="#6cc0b8"/>
<text x="410" y="1212.2" font-size="29"><tspan font-style="italic">Diospyros lotus</tspan></text>
<circle cx="791.0" cy="1201.7" r="8.0" fill="#111"/>
<line x1="246.0" y1="1241.9" x2="398.0" y2="1241.9" stroke="#c9ced6" stroke-width="1.6" stroke-dasharray="8 6"/>
<circle cx="232.0" cy="1241.9" r="10.5" fill="#6cc0b8"/>
<text x="410" y="1252.4" font-size="29"><tspan font-style="italic">Oryza sativa</tspan></text>
<circle cx="791.0" cy="1241.9" r="8.0" fill="#111"/>
<line x1="234.0" y1="1282.1" x2="398.0" y2="1282.1" stroke="#c9ced6" stroke-width="1.6" stroke-dasharray="8 6"/>
<circle cx="220.0" cy="1282.1" r="10.5" fill="#6cc0b8"/>
<text x="410" y="1292.6" font-size="29"><tspan font-style="italic">Camellia sinensis</tspan></text>
<circle cx="791.0" cy="1282.1" r="8.0" fill="#a9afb8"/>
<line x1="224.0" y1="1322.3" x2="398.0" y2="1322.3" stroke="#c9ced6" stroke-width="1.6" stroke-dasharray="8 6"/>
<circle cx="210.0" cy="1322.3" r="10.5" fill="#6cc0b8"/>
<text x="410" y="1332.8" font-size="29"><tspan font-style="italic">Theobroma cacao</tspan></text>
<circle cx="791.0" cy="1322.3" r="8.0" fill="#a9afb8"/>
<line x1="257.0" y1="1362.5" x2="398.0" y2="1362.5" stroke="#c9ced6" stroke-width="1.6" stroke-dasharray="8 6"/>
<circle cx="243.0" cy="1362.5" r="10.5" fill="#6cc0b8"/>
<text x="410" y="1373.0" font-size="29"><tspan font-style="italic">Arabidopsis thaliana</tspan></text>
<circle cx="791.0" cy="1362.5" r="8.0" fill="#111"/>
<path d="M805,799.7 L830,799.7 L860,802.5" stroke="#c0c6d0" stroke-width="1.6" fill="none" stroke-dasharray="7 6"/>
<line x1="805.0" y1="880.1" x2="858.0" y2="880.1" stroke="#c0c6d0" stroke-width="1.6" stroke-dasharray="7 6"/>
<path d="M805,920.3 L830,920.3 L860,956.5" stroke="#c0c6d0" stroke-width="1.6" fill="none" stroke-dasharray="7 6"/>
<path d="M805,1121.3 L830,1121.3 L860,1084.0" stroke="#c0c6d0" stroke-width="1.6" fill="none" stroke-dasharray="7 6"/>
<line x1="805.0" y1="1161.5" x2="858.0" y2="1161.5" stroke="#c0c6d0" stroke-width="1.6" stroke-dasharray="7 6"/>
<path d="M805,1201.7 L830,1201.7 L860,1237.5" stroke="#c0c6d0" stroke-width="1.6" fill="none" stroke-dasharray="7 6"/>
<path d="M805,1241.9 L830,1241.9 L860,1332.0" stroke="#c0c6d0" stroke-width="1.6" fill="none" stroke-dasharray="7 6"/>
<path d="M805,1362.5 L830,1362.5 L860,1426.5" stroke="#c0c6d0" stroke-width="1.6" fill="none" stroke-dasharray="7 6"/>
<circle cx="902.3" cy="784.5" r="42.0" fill="url(#cpink)"/>
<text x="955" y="797.0" font-size="31.5"><tspan font-style="italic">At</tspan>FCS</text>
<circle cx="902.3" cy="881.0" r="42.0" fill="url(#cpink)"/>
<text x="955" y="893.5" font-size="31.5"><tspan font-style="italic">Sv</tspan>FCS</text>
<circle cx="902.3" cy="974.5" r="42.0" fill="url(#cblue)"/>
<text x="955" y="987.0" font-size="31.5"><tspan font-style="italic">Ph</tspan>FCS</text>
<circle cx="902.3" cy="1066.0" r="42.0" fill="url(#cblue)"/>
<text x="955" y="1078.5" font-size="31.5"><tspan font-style="italic">Ct</tspan>FCS</text>
<circle cx="902.3" cy="1160.4" r="42.0" fill="#b2dcdc"/>
<text x="955" y="1172.9" font-size="31.5"><tspan font-style="italic">Gh</tspan>4CL</text>
<circle cx="902.3" cy="1255.5" r="42.0" fill="#b2dcdc"/>
<text x="955" y="1268.0" font-size="31.5"><tspan font-style="italic">Gh</tspan>4CL</text>
<circle cx="902.3" cy="1350.0" r="42.0" fill="#b2dcdc"/>
<text x="955" y="1362.5" font-size="31.5"><tspan font-style="italic">Os</tspan>4CL</text>
<circle cx="902.3" cy="1444.5" r="42.0" fill="#b2dcdc"/>
<text x="955" y="1457.0" font-size="31.5"><tspan font-style="italic">At</tspan>4CL</text>
<path d="M889.3,751.5 L885.3,817.5 M897.3,749.5 L892.3,806.5 M924.3,757.5 L874.3,804.5 M880.3,764.5 L934.3,804.5 M894.3,754.5 L914.3,816.5" stroke="#dc88ae" stroke-width="2.4" fill="none"/>
<path d="M892.3,849 L888.3,916 M898.3,847 L898.3,916 M908.3,848 L906.3,914 M916.3,851 L916.3,911 M884.3,887 L922.3,887 M886.3,893 L892.3,911 M910.3,893 L916.3,911" stroke="#dc88ae" stroke-width="2.2" fill="none"/>
<g fill="#5f8fcb" opacity="0.9"><ellipse cx="892.3" cy="976.5" rx="9" ry="20" transform="rotate(-20 892.3 976.5)"/><ellipse cx="910.3" cy="962.5" rx="7" ry="16" transform="rotate(40 910.3 962.5)"/><ellipse cx="912.3" cy="986.5" rx="8" ry="17" transform="rotate(50 912.3 986.5)"/><path d="M922.3,970.5 L934.3,976.5 L922.3,982.5 z"/></g>
<g fill="#5f8fcb" opacity="0.9"><ellipse cx="888.3" cy="1060" rx="20" ry="8" transform="rotate(10 888.3 1060)"/><ellipse cx="896.3" cy="1076" rx="7" ry="20" transform="rotate(-15 896.3 1076)"/><ellipse cx="924.3" cy="1072" rx="16" ry="7" transform="rotate(25 924.3 1072)"/></g>
<g fill="#5cb7b2" opacity="0.85"><ellipse cx="896.3" cy="1146.4" rx="18" ry="12"/><path d="M910.3,1154.4 l14,-6 l-2,10 l6,2 l-10,8 z"/><path d="M886.3,1176.4 l12,-4 l2,10 l-8,2 z"/></g>
<path d="M904.3,1158.4 Q910.3,1174.4 912.3,1194.4" stroke="#5cb7b2" stroke-width="2" fill="none"/>
<g fill="#5cb7b2" opacity="0.85"><circle cx="890.3" cy="1255.5" r="18"/><circle cx="916.3" cy="1257.5" r="16"/></g><circle cx="914.3" cy="1253.5" r="7" fill="#b2dcdc"/>
<path d="M880.3,1318 Q897.3,1350 904.3,1386 M920.3,1320 Q928.3,1358 906.3,1386 M880.3,1370 Q896.3,1372 904.3,1386" stroke="#5cb7b2" stroke-width="3" fill="none"/>
<ellipse cx="889.3" cy="1324" rx="6" ry="3" fill="#5cb7b2" transform="rotate(40 889.3 1324)"/>
<ellipse cx="892.8" cy="1333" rx="6" ry="3" fill="#5cb7b2" transform="rotate(40 892.8 1333)"/>
<ellipse cx="896.3" cy="1342" rx="6" ry="3" fill="#5cb7b2" transform="rotate(40 896.3 1342)"/>
<ellipse cx="899.8" cy="1351" rx="6" ry="3" fill="#5cb7b2" transform="rotate(40 899.8 1351)"/>
<ellipse cx="903.3" cy="1360" rx="6" ry="3" fill="#5cb7b2" transform="rotate(40 903.3 1360)"/>
<ellipse cx="906.8" cy="1369" rx="6" ry="3" fill="#5cb7b2" transform="rotate(40 906.8 1369)"/>
<g fill="#5cb7b2" opacity="0.85"><ellipse cx="886.3" cy="1428.5" rx="10" ry="6" transform="rotate(30 886.3 1428.5)"/><ellipse cx="908.3" cy="1420.5" rx="10" ry="6" transform="rotate(-40 908.3 1420.5)"/><ellipse cx="884.3" cy="1448.5" rx="10" ry="6" transform="rotate(-20 884.3 1448.5)"/><circle cx="904.3" cy="1446.5" r="9"/></g>
<path d="M906.3,1452.5 L918.3,1478.5" stroke="#5cb7b2" stroke-width="3" fill="none"/>
<text x="98.0" y="1348.0" font-size="27" text-anchor="middle">0.2</text>
<line x1="76" y1="1362" x2="120" y2="1362" stroke="#111" stroke-width="8" stroke-linecap="round"/>
<circle cx="102.0" cy="1424.0" r="10.5" fill="#dc86ad"/>
<text x="129.0" y="1434.5" font-size="29">FCS in actinomycetes</text>
<circle cx="102.0" cy="1469.0" r="10.5" fill="#97a6cc"/>
<text x="129.0" y="1479.5" font-size="29">FCS in proteobacteria</text>
<circle cx="474.0" cy="1424.0" r="10.5" fill="#6cc0b8"/>
<text x="503.0" y="1434.5" font-size="29">4CL in plant</text>
<circle cx="474.0" cy="1469.0" r="10.5" fill="#111"/>
<text x="503.0" y="1479.5" font-size="29">Used for testing</text>
<text transform="translate(1135,734) scale(1.3,0.92)" font-size="44" font-weight="bold" fill="#000" stroke="#000" stroke-width="1.3">d</text>
<rect x="1151.0" y="776.0" width="580.0" height="711.0" rx="10" fill="#a8aebb"/>
<rect x="1137.5" y="755.5" width="580.5" height="714.0" rx="10" fill="#fff" stroke="#8a93a5" stroke-width="2.4"/>
<path d="M1190.5,780 L1214.5,788 L1214.5,828 L1190.5,820 z" fill="#8ec3dd"/>
<path d="M1214.5,788 L1221.5,786 L1221.5,826 L1214.5,828 z" fill="#6ba9cc"/>
<path d="M1226.5,780 L1250.5,788 L1250.5,828 L1226.5,820 z" fill="#e08fb1"/>
<path d="M1250.5,788 L1257.5,786 L1257.5,826 L1250.5,828 z" fill="#c96f96"/>
<path d="M1262.5,780 L1286.5,788 L1286.5,828 L1262.5,820 z" fill="#919fd0"/>
<path d="M1286.5,788 L1293.5,786 L1293.5,826 L1286.5,828 z" fill="#6f80bb"/>
<path d="M1298.5,780 L1322.5,788 L1322.5,828 L1298.5,820 z" fill="#74c1b6"/>
<path d="M1322.5,788 L1329.5,786 L1329.5,826 L1322.5,828 z" fill="#52a79b"/>
<text x="1349.0" y="815.0" font-size="33" fill="#7a7a7a">Substrates</text>
<path d="M1263.4,850 L1263.4,958" stroke="#9aa3b5" stroke-width="2.8" fill="none" marker-end="url(#ahg)"/>
<path d="M1392,885 Q1320,886 1300,958" stroke="#9aa3b5" stroke-width="2.8" fill="none" marker-end="url(#ahg)"/>
<circle cx="1473.5" cy="888.0" r="43.0" fill="none" stroke="#aab4c4" stroke-width="1.5"/>
<path d="M1433.6,877.3 A41.3,41.3 0 0 1 1495.4,853.0" stroke="#d88bad" stroke-width="12.0" fill="none" opacity="1.0"/>
<polygon points="1483.0,859.6 1516.5,841.6 1517.4,886.3" fill="#d88bad" opacity="1.0"/>
<text x="1473.5" y="900.0" font-size="33" text-anchor="middle" fill="#6e6e6e">FCS</text>
<circle cx="1604.8" cy="888.0" r="43.0" fill="none" stroke="#aab4c4" stroke-width="1.5"/>
<path d="M1564.9,877.3 A41.3,41.3 0 0 1 1626.7,853.0" stroke="#8dbfdb" stroke-width="12.0" fill="none" opacity="1.0"/>
<polygon points="1614.3,859.6 1647.8,841.6 1648.7,886.3" fill="#8dbfdb" opacity="1.0"/>
<text x="1604.8" y="900.0" font-size="33" text-anchor="middle" fill="#6e6e6e">CUS</text>
<circle cx="1473.5" cy="987.7" r="43.0" fill="none" stroke="#aab4c4" stroke-width="1.5"/>
<path d="M1433.6,977.0 A41.3,41.3 0 0 1 1495.4,952.7" stroke="#93a3c8" stroke-width="12.0" fill="none" opacity="1.0"/>
<polygon points="1483.0,959.3 1516.5,941.3 1517.4,986.0" fill="#93a3c8" opacity="1.0"/>
<text x="1473.5" y="999.7" font-size="32" text-anchor="middle" fill="#6e6e6e">MatB</text>
<circle cx="1604.8" cy="987.7" r="43.0" fill="none" stroke="#aab4c4" stroke-width="1.5"/>
<path d="M1564.9,977.0 A41.3,41.3 0 0 1 1626.7,952.7" stroke="#73bab3" stroke-width="12.0" fill="none" opacity="1.0"/>
<polygon points="1614.3,959.3 1647.8,941.3 1648.7,986.0" fill="#73bab3" opacity="1.0"/>
<text x="1604.8" y="999.7" font-size="33" text-anchor="middle" fill="#6e6e6e">PPK</text>
<text x="1536.0" y="1066.0" font-size="32.8" text-anchor="middle" fill="#7a7a7a">Plasmids</text>
<path d="M1227,1025 L1316,1025 L1304,1170 L1237,1170 z" fill="url(#beam)"/>
<g fill="#6fb3d8">
<rect x="1204" y="1004" width="50" height="14" rx="7" transform="rotate(52 1229 1011)"/>
<rect x="1245" y="998" width="19" height="55" rx="9.5" transform="rotate(4 1254.5 1025.5)"/>
<path d="M1245,1085 C1238,1075 1245,1068 1256,1064 C1266,1055 1280,1040 1290,1034 C1300,1030 1306,1042 1302,1052 C1296,1064 1288,1076 1280,1080 C1272,1088 1262,1093 1252,1090 Z"/>
<circle cx="1266" cy="1094" r="2.5"/><circle cx="1285" cy="1092" r="3"/><circle cx="1288" cy="1101" r="2"/><circle cx="1282" cy="1100" r="2.2"/>
<path d="M1270,1120 Q1262,1135 1262,1142 A8.5,8.5 0 0 0 1279,1142 Q1279,1135 1270,1120 Z" fill="#7fbfe0"/>
</g>
<path d="M1217,993 Q1210,985 1215,975 Q1212,970 1214,965 M1254,998 Q1260,985 1268,982 Q1270,975 1272,972 M1298,1034 Q1305,1020 1310,1012 Q1318,1002 1322,995" stroke="#6fb3d8" stroke-width="1.5" fill="none"/>
<g transform="rotate(40 1198 1133)"><rect x="1170" y="1120" width="58" height="24" rx="10" fill="url(#capg)" stroke="#c5c6c9" stroke-width="1"/><rect x="1176" y="1128" width="48" height="10" rx="5" fill="#d9dadc"/></g>
<path d="M1218,1150 Q1222,1165 1232,1172" stroke="#c9cacd" stroke-width="3" fill="none"/>
<path d="M1238,1190 L1302,1190 L1296,1290 Q1288,1358 1270,1370 Q1252,1358 1244,1290 Z" fill="url(#tubebody)"/>
<path d="M1241,1247 L1299,1247 L1296,1290 Q1288,1358 1270,1370 Q1252,1358 1244,1290 Z" fill="url(#tubeliqd)"/>
<rect x="1230.6" y="1169.5" width="78" height="21.5" rx="3" fill="url(#tubebody)" stroke="#c6c7ca" stroke-width="1"/>
<circle cx="1252.0" cy="1282.0" r="3.0" fill="#d96b9a"/>
<circle cx="1276.0" cy="1302.0" r="3.0" fill="#d96b9a"/>
<circle cx="1256.0" cy="1300.0" r="3.0" fill="#d96b9a"/>
<circle cx="1272.0" cy="1320.0" r="3.0" fill="#9ab8c8"/>
<circle cx="1262.0" cy="1330.0" r="3.0" fill="#8fb0c8"/>
<circle cx="1275.0" cy="1345.0" r="3.0" fill="#9ab8c8"/>
<line x1="1256.0" y1="1265.0" x2="1440.0" y2="1147.0" stroke="#5a6c8a" stroke-width="1.4" stroke-dasharray="4 4"/>
<line x1="1296.0" y1="1292.0" x2="1452.0" y2="1372.0" stroke="#5a6c8a" stroke-width="1.4" stroke-dasharray="4 4"/>
<circle cx="1541.0" cy="1252.0" r="148.5" fill="none" stroke="#5a6c8a" stroke-width="1.4" stroke-dasharray="4 4"/>
<circle cx="1541.0" cy="1252.0" r="127.6" fill="url(#cell)"/>
<path d="M1602,1156 Q1624,1166 1634,1188" stroke="#c9e2f0" stroke-width="6" fill="none" stroke-linecap="round"/>
<circle cx="1527.3" cy="1173.3" r="6.3" fill="#86c6a6"/>
<circle cx="1619.0" cy="1230.0" r="6.3" fill="#e07aa6"/>
<circle cx="1468.0" cy="1272.0" r="6.3" fill="#9aa0bd"/>
<circle cx="1528.0" cy="1272.0" r="6.3" fill="#b9d6ea"/>
<g transform="translate(1573,1206) rotate(0) scale(1.25)" fill="none" stroke="#3a7fb0" stroke-width="1.60">
<ellipse cx="0" cy="-10" rx="4.2" ry="8.5" transform="rotate(-45)"/>
<ellipse cx="0" cy="-10" rx="4.2" ry="8.5" transform="rotate(45)"/>
<ellipse cx="0" cy="-10" rx="4.2" ry="8.5" transform="rotate(135)"/>
<path d="M-2,2 L-13,13"/>
</g>
<g transform="translate(1465,1243) rotate(-10) scale(1.0)" fill="none" stroke="#3a7fb0" stroke-width="2.00">
<ellipse cx="0" cy="-10" rx="4.2" ry="8.5" transform="rotate(-45)"/>
<ellipse cx="0" cy="-10" rx="4.2" ry="8.5" transform="rotate(45)"/>
<ellipse cx="0" cy="-10" rx="4.2" ry="8.5" transform="rotate(135)"/>
<path d="M-2,2 L-13,13"/>
</g>
<path d="M1493.0,1192.0 L1492.5,1194.8 L1492.1,1197.4 L1492.1,1199.6 L1492.7,1201.5 L1493.8,1202.8 L1495.5,1203.7 L1497.7,1204.1 L1500.2,1204.2 L1503.0,1204.1 L1505.9,1204.0 L1508.5,1204.1 L1510.8,1204.4 L1512.6,1205.2 L1513.8,1206.5 L1514.4,1208.2 L1514.5,1210.5 L1514.2,1213.0 L1513.7,1215.7 L1513.2,1218.5 L1512.8,1221.1 L1512.7,1223.5 L1513.1,1225.4 L1514.1,1226.9 L1515.7,1227.8 L1517.8,1228.3 L1520.4,1228.5 L1523.1,1228.4 L1526.0,1228.3 L1528.7,1228.3 L1531.0,1228.6 L1532.9,1229.3 L1534.2,1230.5 L1534.9,1232.1 L1535.1,1234.3 L1534.9,1236.8 L1534.4,1239.5 L1533.9,1242.3 L1533.4,1244.9 L1533.3,1247.3 L1533.6,1249.3 L1534.5,1250.9 L1536.0,1251.9 L1538.0,1252.5 L1540.5,1252.7 L1543.2,1252.7 L1546.1,1252.5 L1548.8,1252.5 L1551.2,1252.8 L1553.2,1253.4 L1554.6,1254.5 L1555.5,1256.0 L1555.7,1258.1 L1555.6,1260.5 L1555.1,1263.2 L1554.6,1266.0 L1554.1,1268.7 L1553.9,1271.2 L1554.1,1273.2 L1554.9,1274.9 L1556.3,1276.0" stroke="#3a7fb0" stroke-width="2.6" fill="none"/>
<path d="M1493.0,1192.0 L1495.8,1191.9 L1498.4,1192.0 L1500.7,1192.4 L1502.4,1193.2 L1503.6,1194.5 L1504.1,1196.3 L1504.2,1198.5 L1503.9,1201.1 L1503.4,1203.9 L1502.8,1206.6 L1502.4,1209.2 L1502.4,1211.6 L1502.9,1213.4 L1504.0,1214.8 L1505.6,1215.8 L1507.7,1216.2 L1510.3,1216.3 L1513.1,1216.3 L1515.9,1216.2 L1518.6,1216.2 L1520.9,1216.5 L1522.7,1217.3 L1524.0,1218.5 L1524.7,1220.2 L1524.8,1222.4 L1524.6,1224.9 L1524.1,1227.6 L1523.5,1230.4 L1523.1,1233.0 L1523.0,1235.4 L1523.4,1237.4 L1524.3,1238.9 L1525.9,1239.9 L1527.9,1240.4 L1530.4,1240.6 L1533.2,1240.5 L1536.0,1240.4 L1538.7,1240.4 L1541.1,1240.7 L1543.0,1241.3 L1544.4,1242.5 L1545.2,1244.1 L1545.4,1246.2 L1545.3,1248.6 L1544.8,1251.3 L1544.2,1254.1 L1543.7,1256.8 L1543.6,1259.2 L1543.9,1261.3 L1544.7,1262.9 L1546.1,1264.0 L1548.1,1264.6 L1550.5,1264.8 L1553.3,1264.8 L1556.1,1264.7 L1558.9,1264.6 L1561.3,1264.8 L1563.3,1265.4 L1564.8,1266.5 L1565.7,1268.0" stroke="#3a7fb0" stroke-width="2.6" fill="none"/>
<ellipse cx="1597" cy="1284" rx="19" ry="17.5" fill="#d87aa7"/>
<circle cx="1610.0" cy="1266.0" r="14.0" fill="#dc85ad"/>
<path d="M1561,1272 C1570,1284 1576,1262 1592,1261 C1608,1260 1616,1284 1628,1290 L1641,1292" stroke="#3a7fb0" stroke-width="2.2" fill="none"/>
<circle cx="1587.0" cy="1294.0" r="5.2" fill="#7cc4a8"/>
<circle cx="1580.3" cy="1301.0" r="5.2" fill="#9aa8c8"/>
<circle cx="1573.7" cy="1308.0" r="5.2" fill="#e8a0a0"/>
<circle cx="1567.0" cy="1315.0" r="5.2" fill="#f1ebd9"/>
<circle cx="1560.3" cy="1322.0" r="5.2" fill="#6f93b3"/>
<circle cx="1553.7" cy="1329.0" r="5.2" fill="#a9c8e0"/>
<circle cx="1547.0" cy="1336.0" r="4.5" fill="#e070a0"/>
<circle cx="1503.0" cy="1309.5" r="27.5" fill="none" stroke="#3a7fb0" stroke-width="1.6"/>
<path d="M1476,1304 A27.5,27.5 0 0 1 1517,1286" stroke="#3a7fb0" stroke-width="6" fill="none"/>
<polygon points="1510,1283 1529,1277 1529,1300" fill="#3a7fb0"/>
<text x="1427.0" y="1444.0" font-size="33.4" text-anchor="middle" fill="#7a7a7a">CFPS-based biocatalysis</text>
<text transform="translate(1777,736) scale(1.22,0.95)" font-size="44" font-weight="bold" fill="#000" stroke="#000" stroke-width="1.3">e</text>
<text x="2194.0" y="750.3" font-size="30" text-anchor="middle">FCS</text>
<text x="2284.5" y="750.3" font-size="30" text-anchor="middle">CUS</text>
<text x="2376.0" y="750.3" font-size="30" text-anchor="middle">MatB</text>
<text x="2467.0" y="750.3" font-size="30" text-anchor="middle">PPK</text>
<rect x="2071.0" y="777.0" width="59.0" height="21.0" fill="#e2a6bd" stroke="#555" stroke-width="1.6"/>
<rect x="2071.0" y="829.0" width="59.0" height="21.0" fill="#97aacd" stroke="#555" stroke-width="1.6"/>
<rect x="2071.0" y="883.0" width="59.0" height="20.5" fill="#8bbad3" stroke="#222" stroke-width="1.8"/>
<circle cx="2194.0" cy="786.5" r="20.0" fill="none" stroke="#aab4c4" stroke-width="1.5"/>
<path d="M2175.5,781.5 A19.2,19.2 0 0 1 2204.2,770.2" stroke="#d88bad" stroke-width="5.6" fill="none" opacity="0.95"/>
<polygon points="2198.4,773.3 2214.0,764.9 2214.4,785.7" fill="#d88bad" opacity="0.95"/>
<circle cx="2284.5" cy="786.5" r="20.0" fill="none" stroke="#aab4c4" stroke-width="1.5"/>
<path d="M2266.0,781.5 A19.2,19.2 0 0 1 2294.7,770.2" stroke="#8dbfdb" stroke-width="5.6" fill="none" opacity="0.95"/>
<polygon points="2288.9,773.3 2304.5,764.9 2304.9,785.7" fill="#8dbfdb" opacity="0.95"/>
<circle cx="2194.0" cy="838.5" r="20.0" fill="none" stroke="#aab4c4" stroke-width="1.5"/>
<path d="M2175.5,833.5 A19.2,19.2 0 0 1 2204.2,822.2" stroke="#d88bad" stroke-width="5.6" fill="none" opacity="0.95"/>
<polygon points="2198.4,825.3 2214.0,816.9 2214.4,837.7" fill="#d88bad" opacity="0.95"/>
<circle cx="2284.5" cy="838.5" r="20.0" fill="none" stroke="#aab4c4" stroke-width="1.5"/>
<path d="M2266.0,833.5 A19.2,19.2 0 0 1 2294.7,822.2" stroke="#8dbfdb" stroke-width="5.6" fill="none" opacity="0.95"/>
<polygon points="2288.9,825.3 2304.5,816.9 2304.9,837.7" fill="#8dbfdb" opacity="0.95"/>
<circle cx="2376.0" cy="838.5" r="20.0" fill="none" stroke="#aab4c4" stroke-width="1.5"/>
<path d="M2357.5,833.5 A19.2,19.2 0 0 1 2386.2,822.2" stroke="#93a3c8" stroke-width="5.6" fill="none" opacity="0.95"/>
<polygon points="2380.4,825.3 2396.0,816.9 2396.4,837.7" fill="#93a3c8" opacity="0.95"/>
<circle cx="2194.0" cy="892.0" r="20.0" fill="none" stroke="#aab4c4" stroke-width="1.5"/>
<path d="M2175.5,887.0 A19.2,19.2 0 0 1 2204.2,875.7" stroke="#d88bad" stroke-width="5.6" fill="none" opacity="0.95"/>
<polygon points="2198.4,878.8 2214.0,870.4 2214.4,891.2" fill="#d88bad" opacity="0.95"/>
<circle cx="2284.5" cy="892.0" r="20.0" fill="none" stroke="#aab4c4" stroke-width="1.5"/>
<path d="M2266.0,887.0 A19.2,19.2 0 0 1 2294.7,875.7" stroke="#8dbfdb" stroke-width="5.6" fill="none" opacity="0.95"/>
<polygon points="2288.9,878.8 2304.5,870.4 2304.9,891.2" fill="#8dbfdb" opacity="0.95"/>
<circle cx="2376.0" cy="892.0" r="20.0" fill="none" stroke="#aab4c4" stroke-width="1.5"/>
<path d="M2357.5,887.0 A19.2,19.2 0 0 1 2386.2,875.7" stroke="#93a3c8" stroke-width="5.6" fill="none" opacity="0.95"/>
<polygon points="2380.4,878.8 2396.0,870.4 2396.4,891.2" fill="#93a3c8" opacity="0.95"/>
<circle cx="2467.0" cy="892.0" r="20.0" fill="none" stroke="#aab4c4" stroke-width="1.5"/>
<path d="M2448.5,887.0 A19.2,19.2 0 0 1 2477.2,875.7" stroke="#73bab3" stroke-width="5.6" fill="none" opacity="0.95"/>
<polygon points="2471.4,878.8 2487.0,870.4 2487.4,891.2" fill="#73bab3" opacity="0.95"/>
<line x1="2015.0" y1="835.0" x2="2015.0" y2="1283.0" stroke="#555" stroke-width="1.6"/>
<line x1="2001.0" y1="1283.0" x2="2015.0" y2="1283.0" stroke="#777" stroke-width="1.6"/>
<text x="1987.0" y="1293.0" font-size="29" text-anchor="end">0</text>
<line x1="2001.0" y1="1193.4" x2="2015.0" y2="1193.4" stroke="#777" stroke-width="1.6"/>
<text x="1987.0" y="1203.4" font-size="29" text-anchor="end">20</text>
<line x1="2001.0" y1="1103.8" x2="2015.0" y2="1103.8" stroke="#777" stroke-width="1.6"/>
<text x="1987.0" y="1113.8" font-size="29" text-anchor="end">40</text>
<line x1="2001.0" y1="1014.2" x2="2015.0" y2="1014.2" stroke="#777" stroke-width="1.6"/>
<text x="1987.0" y="1024.2" font-size="29" text-anchor="end">60</text>
<line x1="2001.0" y1="924.6" x2="2015.0" y2="924.6" stroke="#777" stroke-width="1.6"/>
<text x="1987.0" y="934.6" font-size="29" text-anchor="end">80</text>
<line x1="2001.0" y1="835.0" x2="2015.0" y2="835.0" stroke="#777" stroke-width="1.6"/>
<text x="1987.0" y="845.0" font-size="29" text-anchor="end">100</text>
<text x="0" y="0" font-size="33" text-anchor="middle" transform="translate(1921,1057) rotate(-90)">Curcumin (mg l<tspan font-size="21" dy="-12">−1</tspan><tspan dy="12">)</tspan></text>
<rect x="2015.0" y="1286.4" width="551.0" height="34.8" fill="#efefef"/>
<rect x="2015.0" y="1360.7" width="551.0" height="37.1" fill="#efefef"/>
<rect x="2015.0" y="1436.3" width="551.0" height="35.7" fill="#efefef"/>
<line x1="2061.7" y1="964.9" x2="2061.7" y2="958.3" stroke="#444" stroke-width="1.6"/>
<line x1="2048.7" y1="958.3" x2="2074.7" y2="958.3" stroke="#444" stroke-width="1.6"/>
<rect x="2034.0" y="964.9" width="55.4" height="318.1" fill="#e2a6bd" stroke="#555" stroke-width="1.6"/>
<circle cx="2044.1" cy="967.1" r="5.3" fill="#d4538b"/>
<circle cx="2061.7" cy="957.8" r="5.3" fill="#d4538b"/>
<circle cx="2080.3" cy="970.8" r="5.3" fill="#d4538b"/>
<line x1="2152.7" y1="1000.8" x2="2152.7" y2="989.4" stroke="#444" stroke-width="1.6"/>
<line x1="2139.7" y1="989.4" x2="2165.7" y2="989.4" stroke="#444" stroke-width="1.6"/>
<rect x="2125.0" y="1000.8" width="55.4" height="282.2" fill="#97aacd" stroke="#555" stroke-width="1.6"/>
<circle cx="2153.6" cy="987.1" r="5.3" fill="#3f74bf"/>
<circle cx="2153.6" cy="1000.0" r="5.3" fill="#3f74bf"/>
<circle cx="2153.6" cy="1015.8" r="5.3" fill="#3f74bf"/>
<line x1="2244.6" y1="1024.1" x2="2244.6" y2="1017.2" stroke="#444" stroke-width="1.6"/>
<line x1="2231.6" y1="1017.2" x2="2257.6" y2="1017.2" stroke="#444" stroke-width="1.6"/>
<rect x="2216.9" y="1024.1" width="55.4" height="258.9" fill="#97aacd" stroke="#555" stroke-width="1.6"/>
<circle cx="2227.4" cy="1030.2" r="5.3" fill="#3f74bf"/>
<circle cx="2245.5" cy="1026.0" r="5.3" fill="#3f74bf"/>
<circle cx="2262.7" cy="1014.9" r="5.3" fill="#3f74bf"/>
<line x1="2337.0" y1="1008.8" x2="2337.0" y2="998.7" stroke="#444" stroke-width="1.6"/>
<line x1="2324.0" y1="998.7" x2="2350.0" y2="998.7" stroke="#444" stroke-width="1.6"/>
<rect x="2309.3" y="1008.8" width="55.4" height="274.2" fill="#97aacd" stroke="#555" stroke-width="1.6"/>
<circle cx="2316.0" cy="1016.3" r="5.3" fill="#3f74bf"/>
<circle cx="2336.9" cy="1022.3" r="5.3" fill="#3f74bf"/>
<circle cx="2357.4" cy="996.3" r="5.3" fill="#3f74bf"/>
<line x1="2428.0" y1="1060.8" x2="2428.0" y2="1043.7" stroke="#444" stroke-width="1.6"/>
<line x1="2415.0" y1="1043.7" x2="2441.0" y2="1043.7" stroke="#444" stroke-width="1.6"/>
<rect x="2400.3" y="1060.8" width="55.4" height="222.2" fill="#8bbad3" stroke="#333" stroke-width="1.6"/>
<circle cx="2428.4" cy="1040.4" r="5.3" fill="#2f86b0"/>
<circle cx="2428.4" cy="1059.9" r="5.3" fill="#2f86b0"/>
<circle cx="2428.4" cy="1083.6" r="5.3" fill="#2f86b0"/>
<line x1="2519.8" y1="1053.2" x2="2519.8" y2="1037.2" stroke="#444" stroke-width="1.6"/>
<line x1="2506.8" y1="1037.2" x2="2532.8" y2="1037.2" stroke="#444" stroke-width="1.6"/>
<rect x="2492.1" y="1053.2" width="55.4" height="229.8" fill="#8bbad3" stroke="#333" stroke-width="1.6"/>
<circle cx="2519.8" cy="1032.5" r="5.3" fill="#2f86b0"/>
<circle cx="2519.8" cy="1058.1" r="5.3" fill="#2f86b0"/>
<circle cx="2519.8" cy="1069.7" r="5.3" fill="#2f86b0"/>
<line x1="2001.0" y1="1283.0" x2="2566.0" y2="1283.0" stroke="#666" stroke-width="2.2"/>
<text x="1802.0" y="1312.2" font-size="33">ATP</text>
<text x="1802.0" y="1350.5" font-size="33">CoA</text>
<text x="1802.0" y="1387.5" font-size="33">Malonyl-CoA</text>
<text x="1802.0" y="1425.5" font-size="33">Malonate</text>
<text x="1802.0" y="1464.0" font-size="33">Poly(P)</text>
<text x="1911.2" y="1471.5" font-size="22" font-style="italic">n</text>
<circle cx="2061.7" cy="1302.7" r="13.0" fill="#dedede"/>
<circle cx="2061.7" cy="1341.0" r="13.0" fill="#dedede"/>
<circle cx="2061.7" cy="1378.0" r="13.0" fill="#dedede"/>
<circle cx="2061.7" cy="1416.0" r="13.0" fill="#dedede"/>
<circle cx="2061.7" cy="1454.5" r="13.0" fill="#dedede"/>
<line x1="2061.7" y1="1302.7" x2="2061.7" y2="1378.0" stroke="#111" stroke-width="3"/>
<circle cx="2061.7" cy="1302.7" r="13.0" fill="#111"/>
<circle cx="2061.7" cy="1341.0" r="13.0" fill="#111"/>
<circle cx="2061.7" cy="1378.0" r="13.0" fill="#111"/>
<circle cx="2152.7" cy="1302.7" r="13.0" fill="#dedede"/>
<circle cx="2152.7" cy="1341.0" r="13.0" fill="#dedede"/>
<circle cx="2152.7" cy="1378.0" r="13.0" fill="#dedede"/>
<circle cx="2152.7" cy="1416.0" r="13.0" fill="#dedede"/>
<circle cx="2152.7" cy="1454.5" r="13.0" fill="#dedede"/>
<line x1="2152.7" y1="1302.7" x2="2152.7" y2="1416.0" stroke="#111" stroke-width="3"/>
<circle cx="2152.7" cy="1302.7" r="13.0" fill="#111"/>
<circle cx="2152.7" cy="1341.0" r="13.0" fill="#111"/>
<circle cx="2152.7" cy="1416.0" r="13.0" fill="#111"/>
<circle cx="2244.6" cy="1302.7" r="13.0" fill="#dedede"/>
<circle cx="2244.6" cy="1341.0" r="13.0" fill="#dedede"/>
<circle cx="2244.6" cy="1378.0" r="13.0" fill="#dedede"/>
<circle cx="2244.6" cy="1416.0" r="13.0" fill="#dedede"/>
<circle cx="2244.6" cy="1454.5" r="13.0" fill="#dedede"/>
<line x1="2244.6" y1="1302.7" x2="2244.6" y2="1416.0" stroke="#111" stroke-width="3"/>
<circle cx="2244.6" cy="1302.7" r="13.0" fill="#111"/>
<path d="M2244.6,1365.0 A13,13 0 0 1 2244.6,1391.0 Z" fill="#111"/>
<circle cx="2244.6" cy="1416.0" r="13.0" fill="#111"/>
<circle cx="2337.0" cy="1302.7" r="13.0" fill="#dedede"/>
<circle cx="2337.0" cy="1341.0" r="13.0" fill="#dedede"/>
<circle cx="2337.0" cy="1378.0" r="13.0" fill="#dedede"/>
<circle cx="2337.0" cy="1416.0" r="13.0" fill="#dedede"/>
<circle cx="2337.0" cy="1454.5" r="13.0" fill="#dedede"/>
<line x1="2337.0" y1="1302.7" x2="2337.0" y2="1416.0" stroke="#111" stroke-width="3"/>
<circle cx="2337.0" cy="1302.7" r="13.0" fill="#111"/>
<circle cx="2337.0" cy="1416.0" r="13.0" fill="#111"/>
<circle cx="2428.0" cy="1302.7" r="13.0" fill="#dedede"/>
<circle cx="2428.0" cy="1341.0" r="13.0" fill="#dedede"/>
<circle cx="2428.0" cy="1378.0" r="13.0" fill="#dedede"/>
<circle cx="2428.0" cy="1416.0" r="13.0" fill="#dedede"/>
<circle cx="2428.0" cy="1454.5" r="13.0" fill="#dedede"/>
<line x1="2428.0" y1="1302.7" x2="2428.0" y2="1454.5" stroke="#111" stroke-width="3"/>
<path d="M2428.0,1289.7 A13,13 0 0 1 2428.0,1315.7 Z" fill="#111"/>
<circle cx="2428.0" cy="1416.0" r="13.0" fill="#111"/>
<circle cx="2428.0" cy="1454.5" r="13.0" fill="#111"/>
<circle cx="2519.8" cy="1302.7" r="13.0" fill="#dedede"/>
<circle cx="2519.8" cy="1341.0" r="13.0" fill="#dedede"/>
<circle cx="2519.8" cy="1378.0" r="13.0" fill="#dedede"/>
<circle cx="2519.8" cy="1416.0" r="13.0" fill="#dedede"/>
<circle cx="2519.8" cy="1454.5" r="13.0" fill="#dedede"/>
<line x1="2519.8" y1="1416.0" x2="2519.8" y2="1454.5" stroke="#111" stroke-width="3"/>
<circle cx="2519.8" cy="1416.0" r="13.0" fill="#111"/>
<circle cx="2519.8" cy="1454.5" r="13.0" fill="#111"/>
<text transform="translate(31,1569) scale(1.2,1.0)" font-size="44" font-weight="bold" fill="#000" stroke="#000" stroke-width="1.3">f</text>
<circle cx="174.0" cy="1609.0" r="21.0" fill="none" stroke="#111" stroke-width="2"/>
<text x="174.0" y="1620.5" font-size="31" text-anchor="middle" fill="#111">1</text>
<text x="214.5" y="1622.0" font-size="33">iMECS design</text>
<circle cx="754.0" cy="1609.0" r="21.0" fill="none" stroke="#111" stroke-width="2"/>
<text x="754.0" y="1620.5" font-size="31" text-anchor="middle" fill="#111">2</text>
<text x="796.0" y="1623.0" font-size="33">CFPS build</text>
<circle cx="1318.0" cy="1609.0" r="21.0" fill="none" stroke="#111" stroke-width="2"/>
<text x="1318.0" y="1620.5" font-size="31" text-anchor="middle" fill="#111">3</text>
<text x="1358.0" y="1623.0" font-size="33.5">Rapid test</text>
<polygon points="222,1677 265,1693 265,1822 222,1838.5" fill="#a9b5c6"/>
<rect x="152.7" y="1677.4" width="69.5" height="161.0" fill="#dde2ea" stroke="#c5ccd8" stroke-width="1"/>
<rect x="162.0" y="1686.0" width="51.7" height="24.5" fill="#c6cdd8"/>
<rect x="162.0" y="1714.4" width="51.7" height="10.5" fill="#c6cdd8"/>
<rect x="162.0" y="1727.0" width="51.7" height="8.3" fill="#c6cdd8"/>
<rect x="162.0" y="1792.0" width="51.7" height="44.0" fill="#c6cdd8"/>
<circle cx="185.2" cy="1809.4" r="9.3" fill="#a9b5c6"/>
<rect x="302.0" y="1816.0" width="39.5" height="17.0" fill="#b9c2ce"/>
<rect x="287.0" y="1834.0" width="68.4" height="5.5" fill="#a9b5c6"/>
<rect x="230.0" y="1699.0" width="181.5" height="118.5" fill="#a9b8ca"/>
<rect x="235.0" y="1704.0" width="171.4" height="109.0" fill="url(#screen)"/>
<path d="M255.0,1731.8 L256.1,1733.3 L257.2,1734.7 L258.2,1736.0 L259.3,1737.2 L260.4,1738.1 L261.5,1738.9 L262.6,1739.5 L263.7,1739.8 L264.8,1739.8 L265.8,1739.5 L266.9,1739.0 L268.0,1738.3 L269.1,1737.3 L270.2,1736.2 L271.2,1734.9 L272.3,1733.5 L273.4,1732.0 L274.5,1730.5 L275.6,1729.1 L276.7,1727.8 L277.8,1726.6 L278.8,1725.6 L279.9,1724.8 L281.0,1724.2 L282.1,1723.9 L283.2,1723.8 L284.2,1724.0 L285.3,1724.5 L286.4,1725.2 L287.5,1726.1 L288.6,1727.3 L289.7,1728.5 L290.8,1729.9 L291.8,1731.4 L292.9,1732.8 L294.0,1734.3 L295.1,1735.6 L296.2,1736.8 L297.2,1737.9 L298.3,1738.7 L299.4,1739.3 L300.5,1739.7 L301.6,1739.8 L302.7,1739.6 L303.8,1739.2 L304.8,1738.5 L305.9,1737.6 L307.0,1736.5 L308.1,1735.2 L309.2,1733.9 L310.2,1732.4 L311.3,1731.0 L312.4,1729.5 L313.5,1728.2 L314.6,1726.9 L315.7,1725.9 L316.8,1725.0 L317.8,1724.3 L318.9,1723.9 L320.0,1723.8 L321.1,1723.9 L322.2,1724.3 L323.2,1725.0 L324.3,1725.9 L325.4,1726.9 L326.5,1728.2 L327.6,1729.5 L328.7,1731.0 L329.8,1732.4 L330.8,1733.9 L331.9,1735.2 L333.0,1736.5 L334.1,1737.6 L335.2,1738.5 L336.2,1739.2 L337.3,1739.6 L338.4,1739.8 L339.5,1739.7 L340.6,1739.3 L341.7,1738.7 L342.8,1737.9 L343.8,1736.8 L344.9,1735.6 L346.0,1734.3 L347.1,1732.8 L348.2,1731.4 L349.2,1729.9 L350.3,1728.5 L351.4,1727.3 L352.5,1726.1 L353.6,1725.2 L354.7,1724.5 L355.8,1724.0 L356.8,1723.8 L357.9,1723.9 L359.0,1724.2 L360.1,1724.8 L361.2,1725.6 L362.2,1726.6 L363.3,1727.8 L364.4,1729.1 L365.5,1730.5 L366.6,1732.0 L367.7,1733.5 L368.8,1734.9 L369.8,1736.2 L370.9,1737.3 L372.0,1738.3 L373.1,1739.0 L374.2,1739.5 L375.2,1739.8 L376.3,1739.8 L377.4,1739.5 L378.5,1738.9 L379.6,1738.1 L380.7,1737.2 L381.8,1736.0 L382.8,1734.7 L383.9,1733.3 L385.0,1731.8" stroke="#7f8ea7" stroke-width="3.2" fill="none"/>
<path d="M255.0,1738.3 L256.1,1737.3 L257.2,1736.2 L258.2,1734.9 L259.3,1733.5 L260.4,1732.0 L261.5,1730.5 L262.6,1729.1 L263.7,1727.8 L264.8,1726.6 L265.8,1725.6 L266.9,1724.8 L268.0,1724.2 L269.1,1723.9 L270.2,1723.8 L271.2,1724.0 L272.3,1724.5 L273.4,1725.2 L274.5,1726.1 L275.6,1727.3 L276.7,1728.6 L277.8,1729.9 L278.8,1731.4 L279.9,1732.9 L281.0,1734.3 L282.1,1735.6 L283.2,1736.8 L284.2,1737.9 L285.3,1738.7 L286.4,1739.3 L287.5,1739.7 L288.6,1739.8 L289.7,1739.6 L290.8,1739.2 L291.8,1738.5 L292.9,1737.6 L294.0,1736.5 L295.1,1735.2 L296.2,1733.9 L297.2,1732.4 L298.3,1731.0 L299.4,1729.5 L300.5,1728.2 L301.6,1726.9 L302.7,1725.9 L303.8,1725.0 L304.8,1724.3 L305.9,1723.9 L307.0,1723.8 L308.1,1723.9 L309.2,1724.3 L310.2,1725.0 L311.3,1725.9 L312.4,1726.9 L313.5,1728.2 L314.6,1729.5 L315.7,1731.0 L316.8,1732.4 L317.8,1733.9 L318.9,1735.3 L320.0,1736.5 L321.1,1737.6 L322.2,1738.5 L323.2,1739.2 L324.3,1739.6 L325.4,1739.8 L326.5,1739.7 L327.6,1739.3 L328.7,1738.7 L329.8,1737.9 L330.8,1736.8 L331.9,1735.6 L333.0,1734.3 L334.1,1732.8 L335.2,1731.4 L336.2,1729.9 L337.3,1728.5 L338.4,1727.3 L339.5,1726.1 L340.6,1725.2 L341.7,1724.5 L342.8,1724.0 L343.8,1723.8 L344.9,1723.9 L346.0,1724.2 L347.1,1724.8 L348.2,1725.6 L349.2,1726.6 L350.3,1727.8 L351.4,1729.1 L352.5,1730.6 L353.6,1732.0 L354.7,1733.5 L355.8,1734.9 L356.8,1736.2 L357.9,1737.3 L359.0,1738.3 L360.1,1739.0 L361.2,1739.5 L362.2,1739.8 L363.3,1739.8 L364.4,1739.5 L365.5,1738.9 L366.6,1738.1 L367.7,1737.1 L368.8,1736.0 L369.8,1734.7 L370.9,1733.3 L372.0,1731.8 L373.1,1730.3 L374.2,1728.9 L375.2,1727.6 L376.3,1726.4 L377.4,1725.4 L378.5,1724.7 L379.6,1724.1 L380.7,1723.8 L381.8,1723.8 L382.8,1724.1 L383.9,1724.6 L385.0,1725.3" stroke="#96a3b8" stroke-width="3.2" fill="none"/>
<path d="M255.0,1757.3 L256.1,1758.8 L257.2,1760.2 L258.2,1761.5 L259.3,1762.7 L260.4,1763.6 L261.5,1764.4 L262.6,1765.0 L263.7,1765.3 L264.8,1765.3 L265.8,1765.0 L266.9,1764.5 L268.0,1763.8 L269.1,1762.8 L270.2,1761.7 L271.2,1760.4 L272.3,1759.0 L273.4,1757.5 L274.5,1756.0 L275.6,1754.6 L276.7,1753.3 L277.8,1752.1 L278.8,1751.1 L279.9,1750.3 L281.0,1749.7 L282.1,1749.4 L283.2,1749.3 L284.2,1749.5 L285.3,1750.0 L286.4,1750.7 L287.5,1751.6 L288.6,1752.8 L289.7,1754.0 L290.8,1755.4 L291.8,1756.9 L292.9,1758.3 L294.0,1759.8 L295.1,1761.1 L296.2,1762.3 L297.2,1763.4 L298.3,1764.2 L299.4,1764.8 L300.5,1765.2 L301.6,1765.3 L302.7,1765.1 L303.8,1764.7 L304.8,1764.0 L305.9,1763.1 L307.0,1762.0 L308.1,1760.7 L309.2,1759.4 L310.2,1757.9 L311.3,1756.5 L312.4,1755.0 L313.5,1753.7 L314.6,1752.4 L315.7,1751.4 L316.8,1750.5 L317.8,1749.8 L318.9,1749.4 L320.0,1749.3 L321.1,1749.4 L322.2,1749.8 L323.2,1750.5 L324.3,1751.4 L325.4,1752.4 L326.5,1753.7 L327.6,1755.0 L328.7,1756.5 L329.8,1757.9 L330.8,1759.4 L331.9,1760.7 L333.0,1762.0 L334.1,1763.1 L335.2,1764.0 L336.2,1764.7 L337.3,1765.1 L338.4,1765.3 L339.5,1765.2 L340.6,1764.8 L341.7,1764.2 L342.8,1763.4 L343.8,1762.3 L344.9,1761.1 L346.0,1759.8 L347.1,1758.3 L348.2,1756.9 L349.2,1755.4 L350.3,1754.0 L351.4,1752.8 L352.5,1751.6 L353.6,1750.7 L354.7,1750.0 L355.8,1749.5 L356.8,1749.3 L357.9,1749.4 L359.0,1749.7 L360.1,1750.3 L361.2,1751.1 L362.2,1752.1 L363.3,1753.3 L364.4,1754.6 L365.5,1756.0 L366.6,1757.5 L367.7,1759.0 L368.8,1760.4 L369.8,1761.7 L370.9,1762.8 L372.0,1763.8 L373.1,1764.5 L374.2,1765.0 L375.2,1765.3 L376.3,1765.3 L377.4,1765.0 L378.5,1764.4 L379.6,1763.6 L380.7,1762.7 L381.8,1761.5 L382.8,1760.2 L383.9,1758.8 L385.0,1757.3" stroke="#7f8ea7" stroke-width="3.2" fill="none"/>
<path d="M255.0,1763.8 L256.1,1762.8 L257.2,1761.7 L258.2,1760.4 L259.3,1759.0 L260.4,1757.5 L261.5,1756.0 L262.6,1754.6 L263.7,1753.3 L264.8,1752.1 L265.8,1751.1 L266.9,1750.3 L268.0,1749.7 L269.1,1749.4 L270.2,1749.3 L271.2,1749.5 L272.3,1750.0 L273.4,1750.7 L274.5,1751.6 L275.6,1752.8 L276.7,1754.1 L277.8,1755.4 L278.8,1756.9 L279.9,1758.4 L281.0,1759.8 L282.1,1761.1 L283.2,1762.3 L284.2,1763.4 L285.3,1764.2 L286.4,1764.8 L287.5,1765.2 L288.6,1765.3 L289.7,1765.1 L290.8,1764.7 L291.8,1764.0 L292.9,1763.1 L294.0,1762.0 L295.1,1760.7 L296.2,1759.4 L297.2,1757.9 L298.3,1756.5 L299.4,1755.0 L300.5,1753.7 L301.6,1752.4 L302.7,1751.4 L303.8,1750.5 L304.8,1749.8 L305.9,1749.4 L307.0,1749.3 L308.1,1749.4 L309.2,1749.8 L310.2,1750.5 L311.3,1751.4 L312.4,1752.4 L313.5,1753.7 L314.6,1755.0 L315.7,1756.5 L316.8,1757.9 L317.8,1759.4 L318.9,1760.8 L320.0,1762.0 L321.1,1763.1 L322.2,1764.0 L323.2,1764.7 L324.3,1765.1 L325.4,1765.3 L326.5,1765.2 L327.6,1764.8 L328.7,1764.2 L329.8,1763.4 L330.8,1762.3 L331.9,1761.1 L333.0,1759.8 L334.1,1758.3 L335.2,1756.9 L336.2,1755.4 L337.3,1754.0 L338.4,1752.8 L339.5,1751.6 L340.6,1750.7 L341.7,1750.0 L342.8,1749.5 L343.8,1749.3 L344.9,1749.4 L346.0,1749.7 L347.1,1750.3 L348.2,1751.1 L349.2,1752.1 L350.3,1753.3 L351.4,1754.6 L352.5,1756.1 L353.6,1757.5 L354.7,1759.0 L355.8,1760.4 L356.8,1761.7 L357.9,1762.8 L359.0,1763.8 L360.1,1764.5 L361.2,1765.0 L362.2,1765.3 L363.3,1765.3 L364.4,1765.0 L365.5,1764.4 L366.6,1763.6 L367.7,1762.6 L368.8,1761.5 L369.8,1760.2 L370.9,1758.8 L372.0,1757.3 L373.1,1755.8 L374.2,1754.4 L375.2,1753.1 L376.3,1751.9 L377.4,1750.9 L378.5,1750.2 L379.6,1749.6 L380.7,1749.3 L381.8,1749.3 L382.8,1749.6 L383.9,1750.1 L385.0,1750.8" stroke="#96a3b8" stroke-width="3.2" fill="none"/>
<path d="M255.0,1782.8 L256.1,1784.3 L257.2,1785.7 L258.2,1787.0 L259.3,1788.2 L260.4,1789.1 L261.5,1789.9 L262.6,1790.5 L263.7,1790.8 L264.8,1790.8 L265.8,1790.5 L266.9,1790.0 L268.0,1789.3 L269.1,1788.3 L270.2,1787.2 L271.2,1785.9 L272.3,1784.5 L273.4,1783.0 L274.5,1781.5 L275.6,1780.1 L276.7,1778.8 L277.8,1777.6 L278.8,1776.6 L279.9,1775.8 L281.0,1775.2 L282.1,1774.9 L283.2,1774.8 L284.2,1775.0 L285.3,1775.5 L286.4,1776.2 L287.5,1777.1 L288.6,1778.3 L289.7,1779.5 L290.8,1780.9 L291.8,1782.4 L292.9,1783.8 L294.0,1785.3 L295.1,1786.6 L296.2,1787.8 L297.2,1788.9 L298.3,1789.7 L299.4,1790.3 L300.5,1790.7 L301.6,1790.8 L302.7,1790.6 L303.8,1790.2 L304.8,1789.5 L305.9,1788.6 L307.0,1787.5 L308.1,1786.2 L309.2,1784.9 L310.2,1783.4 L311.3,1782.0 L312.4,1780.5 L313.5,1779.2 L314.6,1777.9 L315.7,1776.9 L316.8,1776.0 L317.8,1775.3 L318.9,1774.9 L320.0,1774.8 L321.1,1774.9 L322.2,1775.3 L323.2,1776.0 L324.3,1776.9 L325.4,1777.9 L326.5,1779.2 L327.6,1780.5 L328.7,1782.0 L329.8,1783.4 L330.8,1784.9 L331.9,1786.2 L333.0,1787.5 L334.1,1788.6 L335.2,1789.5 L336.2,1790.2 L337.3,1790.6 L338.4,1790.8 L339.5,1790.7 L340.6,1790.3 L341.7,1789.7 L342.8,1788.9 L343.8,1787.8 L344.9,1786.6 L346.0,1785.3 L347.1,1783.8 L348.2,1782.4 L349.2,1780.9 L350.3,1779.5 L351.4,1778.3 L352.5,1777.1 L353.6,1776.2 L354.7,1775.5 L355.8,1775.0 L356.8,1774.8 L357.9,1774.9 L359.0,1775.2 L360.1,1775.8 L361.2,1776.6 L362.2,1777.6 L363.3,1778.8 L364.4,1780.1 L365.5,1781.5 L366.6,1783.0 L367.7,1784.5 L368.8,1785.9 L369.8,1787.2 L370.9,1788.3 L372.0,1789.3 L373.1,1790.0 L374.2,1790.5 L375.2,1790.8 L376.3,1790.8 L377.4,1790.5 L378.5,1789.9 L379.6,1789.1 L380.7,1788.2 L381.8,1787.0 L382.8,1785.7 L383.9,1784.3 L385.0,1782.8" stroke="#7f8ea7" stroke-width="3.2" fill="none"/>
<path d="M255.0,1789.3 L256.1,1788.3 L257.2,1787.2 L258.2,1785.9 L259.3,1784.5 L260.4,1783.0 L261.5,1781.5 L262.6,1780.1 L263.7,1778.8 L264.8,1777.6 L265.8,1776.6 L266.9,1775.8 L268.0,1775.2 L269.1,1774.9 L270.2,1774.8 L271.2,1775.0 L272.3,1775.5 L273.4,1776.2 L274.5,1777.1 L275.6,1778.3 L276.7,1779.6 L277.8,1780.9 L278.8,1782.4 L279.9,1783.9 L281.0,1785.3 L282.1,1786.6 L283.2,1787.8 L284.2,1788.9 L285.3,1789.7 L286.4,1790.3 L287.5,1790.7 L288.6,1790.8 L289.7,1790.6 L290.8,1790.2 L291.8,1789.5 L292.9,1788.6 L294.0,1787.5 L295.1,1786.2 L296.2,1784.9 L297.2,1783.4 L298.3,1782.0 L299.4,1780.5 L300.5,1779.2 L301.6,1777.9 L302.7,1776.9 L303.8,1776.0 L304.8,1775.3 L305.9,1774.9 L307.0,1774.8 L308.1,1774.9 L309.2,1775.3 L310.2,1776.0 L311.3,1776.9 L312.4,1777.9 L313.5,1779.2 L314.6,1780.5 L315.7,1782.0 L316.8,1783.4 L317.8,1784.9 L318.9,1786.3 L320.0,1787.5 L321.1,1788.6 L322.2,1789.5 L323.2,1790.2 L324.3,1790.6 L325.4,1790.8 L326.5,1790.7 L327.6,1790.3 L328.7,1789.7 L329.8,1788.9 L330.8,1787.8 L331.9,1786.6 L333.0,1785.3 L334.1,1783.8 L335.2,1782.4 L336.2,1780.9 L337.3,1779.5 L338.4,1778.3 L339.5,1777.1 L340.6,1776.2 L341.7,1775.5 L342.8,1775.0 L343.8,1774.8 L344.9,1774.9 L346.0,1775.2 L347.1,1775.8 L348.2,1776.6 L349.2,1777.6 L350.3,1778.8 L351.4,1780.1 L352.5,1781.6 L353.6,1783.0 L354.7,1784.5 L355.8,1785.9 L356.8,1787.2 L357.9,1788.3 L359.0,1789.3 L360.1,1790.0 L361.2,1790.5 L362.2,1790.8 L363.3,1790.8 L364.4,1790.5 L365.5,1789.9 L366.6,1789.1 L367.7,1788.1 L368.8,1787.0 L369.8,1785.7 L370.9,1784.3 L372.0,1782.8 L373.1,1781.3 L374.2,1779.9 L375.2,1778.6 L376.3,1777.4 L377.4,1776.4 L378.5,1775.7 L379.6,1775.1 L380.7,1774.8 L381.8,1774.8 L382.8,1775.1 L383.9,1775.6 L385.0,1776.3" stroke="#96a3b8" stroke-width="3.2" fill="none"/>
<rect x="454.0" y="1751.5" width="115.0" height="7.0" fill="url(#garr)"/>
<path d="M557,1738 L599,1755 L557,1772 L569,1755 z" fill="#b5bdcb"/>
<polygon points="652.8,1739.2 754.5,1726.8 754.5,1755.8 654.9,1766.2" fill="#aab5c6"/>
<polygon points="645.6,1696.7 747.3,1684.2 754.5,1726.8 652.8,1739.2" fill="#eceef2" stroke="#d5d9e1" stroke-width="1"/>
<polygon points="654.6,1700.8 660.2,1700.1 665.7,1732.4 660.1,1733.1" fill="#919fb5"/>
<polygon points="664.8,1699.6 670.4,1698.9 675.8,1731.2 670.2,1731.9" fill="#919fb5"/>
<polygon points="674.9,1698.3 680.5,1697.6 686.0,1729.9 680.4,1730.6" fill="#919fb5"/>
<polygon points="685.1,1697.1 690.7,1696.4 696.2,1728.7 690.6,1729.4" fill="#919fb5"/>
<polygon points="695.3,1695.8 700.9,1695.1 706.3,1727.5 700.8,1728.1" fill="#919fb5"/>
<polygon points="705.5,1694.6 711.0,1693.9 716.5,1726.2 710.9,1726.9" fill="#919fb5"/>
<polygon points="715.6,1693.3 721.2,1692.6 726.7,1725.0 721.1,1725.7" fill="#919fb5"/>
<polygon points="725.8,1692.1 731.4,1691.4 736.9,1723.7 731.3,1724.4" fill="#919fb5"/>
<polygon points="736.0,1690.8 741.6,1690.1 747.0,1722.5 741.4,1723.2" fill="#919fb5"/>
<polygon points="764.9,1751.7 868.7,1739.2 870.7,1766.2 767.0,1776.6" fill="#aab5c6"/>
<polygon points="760.7,1711.2 861.4,1699.8 868.7,1739.2 764.9,1751.7" fill="#eceef2" stroke="#d5d9e1" stroke-width="1"/>
<polygon points="769.3,1715.1 774.8,1714.5 778.4,1745.2 772.7,1745.9" fill="#919fb5"/>
<polygon points="779.4,1714.0 785.0,1713.3 788.7,1743.9 783.0,1744.6" fill="#919fb5"/>
<polygon points="789.5,1712.8 795.1,1712.2 799.0,1742.7 793.4,1743.4" fill="#919fb5"/>
<polygon points="799.6,1711.7 805.2,1711.0 809.4,1741.5 803.7,1742.1" fill="#919fb5"/>
<polygon points="809.7,1710.5 815.3,1709.9 819.7,1740.2 814.0,1740.9" fill="#919fb5"/>
<polygon points="819.8,1709.4 825.4,1708.7 830.1,1739.0 824.4,1739.7" fill="#919fb5"/>
<polygon points="829.9,1708.2 835.5,1707.6 840.4,1737.7 834.7,1738.4" fill="#919fb5"/>
<polygon points="840.0,1707.1 845.6,1706.4 850.8,1736.5 845.1,1737.2" fill="#919fb5"/>
<polygon points="850.1,1705.9 855.7,1705.3 861.1,1735.3 855.4,1736.0" fill="#919fb5"/>
<polygon points="702.6,1807.7 804.3,1795.3 805.4,1824.3 704.7,1833.7" fill="#aab5c6"/>
<polygon points="694.3,1766.2 798.1,1754.8 804.3,1795.3 702.6,1807.7" fill="#eceef2" stroke="#d5d9e1" stroke-width="1"/>
<polygon points="703.6,1770.3 709.3,1769.6 715.4,1801.1 709.8,1801.7" fill="#919fb5"/>
<polygon points="713.9,1769.1 719.6,1768.5 725.6,1799.8 720.0,1800.5" fill="#919fb5"/>
<polygon points="724.3,1768.0 730.0,1767.3 735.8,1798.6 730.2,1799.3" fill="#919fb5"/>
<polygon points="734.6,1766.8 740.3,1766.2 746.0,1797.4 740.3,1798.1" fill="#919fb5"/>
<polygon points="745.0,1765.7 750.7,1765.0 756.1,1796.2 750.5,1796.8" fill="#919fb5"/>
<polygon points="755.4,1764.5 761.0,1763.9 766.3,1794.9 760.7,1795.6" fill="#919fb5"/>
<polygon points="765.7,1763.3 771.4,1762.7 776.5,1793.7 770.9,1794.4" fill="#919fb5"/>
<polygon points="776.1,1762.2 781.8,1761.6 786.7,1792.5 781.1,1793.1" fill="#919fb5"/>
<polygon points="786.4,1761.0 792.1,1760.4 796.9,1791.2 791.3,1791.9" fill="#919fb5"/>
<line x1="806.0" y1="1789.7" x2="904.0" y2="1789.7" stroke="#9aa3b5" stroke-width="1.6" stroke-dasharray="5 5"/>
<rect x="904.0" y="1659.5" width="144.0" height="186.5" fill="none" stroke="#c8cdd8" stroke-width="3" stroke-dasharray="3 6"/>
<path d="M925,1700 L971,1700 L968,1760 Q962,1822 948,1826 Q934,1822 928,1760 Z" fill="#e0e4ea"/>
<path d="M927,1740 L969,1740 L968,1760 Q962,1822 948,1826 Q934,1822 928,1760 Z" fill="#b8c3d4"/>
<rect x="912.0" y="1686.0" width="63.5" height="14.5" rx="5" fill="#d5dae2"/>
<circle cx="946.0" cy="1786.0" r="5.0" fill="#8e9ab0"/>
<circle cx="947.0" cy="1803.0" r="5.0" fill="none" stroke="#8e9ab0" stroke-width="1.5"/>
<circle cx="1004.0" cy="1795.0" r="19.0" fill="none" stroke="#d8dce4" stroke-width="2"/>
<circle cx="1004.0" cy="1773.0" r="19.0" fill="none" stroke="#c9ced8" stroke-width="2"/>
<circle cx="1004.0" cy="1751.0" r="19.0" fill="none" stroke="#b4bccb" stroke-width="2"/>
<path d="M986,1747 A19,19 0 0 1 1021,1743" stroke="#b4bccb" stroke-width="5" fill="none"/>
<path d="M1014,1733 L1025,1729 L1024,1747 z" fill="#b4bccb"/>
<circle cx="1004.0" cy="1729.0" r="19.0" fill="none" stroke="#8f9bb0" stroke-width="2"/>
<path d="M986,1725 A19,19 0 0 1 1021,1721" stroke="#8f9bb0" stroke-width="5" fill="none"/>
<path d="M1014,1711 L1025,1707 L1024,1725 z" fill="#8f9bb0"/>
<circle cx="1004.0" cy="1707.0" r="19.0" fill="none" stroke="#7d8aa2" stroke-width="2"/>
<path d="M986,1703 A19,19 0 0 1 1021,1699" stroke="#7d8aa2" stroke-width="5" fill="none"/>
<path d="M1014,1689 L1025,1685 L1024,1703 z" fill="#7d8aa2"/>
<rect x="1069.0" y="1750.5" width="108.0" height="7.0" fill="url(#garr)"/>
<path d="M1165,1737 L1207,1754 L1165,1771 L1177,1754 z" fill="#b5bdcb"/>
<circle cx="1303.2" cy="1725.3" r="48.0" fill="url(#glow)"/>
<rect x="1275.5" y="1721.3" width="57.4" height="23.8" rx="10" fill="#8e9ab0"/>
<circle cx="1304.2" cy="1713.4" r="12.5" fill="#fff"/>
<circle cx="1304.2" cy="1713.4" r="10.0" fill="#8e9ab0"/>
<text x="1241.0" y="1796.5" font-size="27.4" fill="#959595">Biosensor</text>
<line x1="1323.0" y1="1749.0" x2="1384.0" y2="1783.7" stroke="#9aa3b5" stroke-width="1.5" stroke-dasharray="3 4"/>
<polygon points="1380.4,1702.5 1489.2,1676.8 1618.8,1687.7 1532.8,1715.4" fill="#dfe3eb"/>
<polygon points="1380.4,1702.5 1532.8,1715.4 1535.7,1826.2 1382.4,1798.5" fill="#c8d0de" stroke="#b4bfcf" stroke-width="1"/>
<polygon points="1532.8,1715.4 1618.8,1687.7 1618.8,1766.9 1535.7,1826.2" fill="#a9b5c6"/>
<polygon points="1401.2,1709.5 1517,1725.3 1517,1741.1 1401.2,1725.3" fill="#c3cbda" stroke="#aab6c8" stroke-width="1.2"/>
<circle cx="1506.0" cy="1732.2" r="5.5" fill="#8e9ab0"/>
<polygon points="1409,1768.8 1492.2,1778.7 1492.2,1798.5 1409,1786.6" fill="#8e9ab0"/>
<polygon points="1396,1793 1420,1782 1490,1793 1470,1817 1386,1800" fill="#d3d9e2" stroke="#aab4c4" stroke-width="1.5"/>
<text x="59.5" y="1885.0" font-size="34.4" fill="#959595">Selection of suitable enzymes</text>
<text x="606.0" y="1885.0" font-size="34.4" fill="#959595">In vitro expression and reaction</text>
<text x="1219.5" y="1885.0" font-size="35" fill="#959595">High-throughput screening</text>
<rect x="255.0" y="2028.0" width="318.5" height="107.0" rx="3" fill="#a6aebc"/>
<rect x="243.0" y="2019.0" width="317.6" height="107.5" rx="3" fill="#fff" stroke="#8a94a7" stroke-width="2"/>
<text x="402.0" y="2064.5" font-size="33.2" text-anchor="middle" style="white-space:pre">Automated  iMECS</text>
<text x="402.0" y="2101.0" font-size="34" text-anchor="middle">framework</text>
<line x1="828.0" y1="1914.6" x2="828.0" y2="2054.0" stroke="#a5aebf" stroke-width="2.4" stroke-dasharray="9 9"/>
<line x1="1426.0" y1="1914.6" x2="1426.0" y2="2054.0" stroke="#a5aebf" stroke-width="2.4" stroke-dasharray="9 9"/>
<line x1="878.0" y1="2097.5" x2="972.0" y2="2097.5" stroke="#a5aebf" stroke-width="2.4" stroke-dasharray="9 9"/>
<line x1="1289.0" y1="2097.5" x2="1379.0" y2="2097.5" stroke="#a5aebf" stroke-width="2.4" stroke-dasharray="9 9"/>
<path d="M821.0,2056.4 A41,41 0 0 1 848.4,2056.4 L844.4,2067.7 A29,29 0 0 0 825.0,2067.7 Z" fill="#da8aae"/>
<path d="M852.4,2058.0 A41,41 0 0 1 871.7,2077.3 L860.9,2082.5 A29,29 0 0 0 847.2,2068.8 Z" fill="#da8aae"/>
<path d="M873.3,2081.3 A41,41 0 0 1 873.3,2108.7 L862.0,2104.7 A29,29 0 0 0 862.0,2085.3 Z" fill="#da8aae"/>
<path d="M871.7,2112.7 A41,41 0 0 1 852.4,2132.0 L847.2,2121.2 A29,29 0 0 0 860.9,2107.5 Z" fill="#d6dae2"/>
<path d="M848.4,2133.6 A41,41 0 0 1 821.0,2133.6 L825.0,2122.3 A29,29 0 0 0 844.4,2122.3 Z" fill="#c9ced7"/>
<path d="M817.0,2132.0 A41,41 0 0 1 797.7,2112.7 L808.5,2107.5 A29,29 0 0 0 822.2,2121.2 Z" fill="#b5bdca"/>
<path d="M796.1,2108.7 A41,41 0 0 1 796.1,2081.3 L807.4,2085.3 A29,29 0 0 0 807.4,2104.7 Z" fill="#a4adbd"/>
<path d="M797.7,2077.3 A41,41 0 0 1 817.0,2058.0 L822.2,2068.8 A29,29 0 0 0 808.5,2082.5 Z" fill="#8e9ab0"/>
<path d="M823.7,2083 L836.7,2095 L823.7,2107 z M833.7,2083 L848.7,2095 L833.7,2107 z" fill="#8e9ab0"/>
<path d="M1405.8,2056.4 A41,41 0 0 1 1433.2,2056.4 L1429.2,2067.7 A29,29 0 0 0 1409.8,2067.7 Z" fill="#da8aae"/>
<path d="M1437.2,2058.0 A41,41 0 0 1 1456.5,2077.3 L1445.7,2082.5 A29,29 0 0 0 1432.0,2068.8 Z" fill="#da8aae"/>
<path d="M1458.1,2081.3 A41,41 0 0 1 1458.1,2108.7 L1446.8,2104.7 A29,29 0 0 0 1446.8,2085.3 Z" fill="#da8aae"/>
<path d="M1456.5,2112.7 A41,41 0 0 1 1437.2,2132.0 L1432.0,2121.2 A29,29 0 0 0 1445.7,2107.5 Z" fill="#d6dae2"/>
<path d="M1433.2,2133.6 A41,41 0 0 1 1405.8,2133.6 L1409.8,2122.3 A29,29 0 0 0 1429.2,2122.3 Z" fill="#c9ced7"/>
<path d="M1401.8,2132.0 A41,41 0 0 1 1382.5,2112.7 L1393.3,2107.5 A29,29 0 0 0 1407.0,2121.2 Z" fill="#b5bdca"/>
<path d="M1380.9,2108.7 A41,41 0 0 1 1380.9,2081.3 L1392.2,2085.3 A29,29 0 0 0 1392.2,2104.7 Z" fill="#a4adbd"/>
<path d="M1382.5,2077.3 A41,41 0 0 1 1401.8,2058.0 L1407.0,2068.8 A29,29 0 0 0 1393.3,2082.5 Z" fill="#8e9ab0"/>
<path d="M1408.5,2083 L1421.5,2095 L1408.5,2107 z M1418.5,2083 L1433.5,2095 L1418.5,2107 z" fill="#8e9ab0"/>
<text x="1474.6" y="2104.0" font-size="33.6" fill="#959595">Speed-up</text>
<rect x="987.5" y="2027.8" width="277.5" height="127.0" fill="none" stroke="#a5b0c0" stroke-width="6.5"/>
<rect x="983.3" y="2141.5" width="286.0" height="18.0" fill="#a5b0c0"/>
<rect x="1194.0" y="2036.0" width="14.0" height="42.0" fill="#c8ced8" stroke="#a5b0c0" stroke-width="1"/>
<path d="M1197,2078 L1205,2078 L1201,2085 z" fill="#a5b0c0"/>
<rect x="1176.5" y="1991.3" width="46.5" height="49.0" rx="3" fill="#c8ced8" stroke="#a5b0c0" stroke-width="1.2"/>
<rect x="1012.0" y="2120.0" width="51.0" height="15.6" fill="#8e9ab0"/>
<rect x="1041.0" y="2101.7" width="17.0" height="19.0" fill="#8e9ab0"/>
<rect x="1065.3" y="2101.7" width="28.4" height="34.0" fill="#8e9ab0"/>
<ellipse cx="1117" cy="2129" rx="16" ry="9" fill="#8e9ab0"/>
<rect x="1134.0" y="2120.0" width="30.7" height="17.6" fill="#8e9ab0"/>
<rect x="1174.0" y="2118.0" width="30.6" height="19.6" fill="#8e9ab0"/>
<rect x="1214.0" y="2128.8" width="26.5" height="8.8" fill="#8e9ab0"/>
<text x="890.4" y="2200.8" font-size="35" fill="#959595">Robotic liquid-handling system</text>
<text transform="translate(1775,1567) scale(1.2,0.95)" font-size="44" font-weight="bold" fill="#000" stroke="#000" stroke-width="1.3">g</text>
<text x="2043.8" y="1564.0" font-size="30.5" text-anchor="middle">FCS</text>
<text x="2181.0" y="1564.0" font-size="30.5" text-anchor="middle">CUS</text>
<text x="2318.4" y="1564.0" font-size="30.5" text-anchor="middle">MatB</text>
<text x="2456.5" y="1564.0" font-size="30.5" text-anchor="middle">PPK</text>
<rect x="1990.6" y="1574.0" width="563.4" height="57.0" fill="#fff" stroke="#bcc4d0" stroke-width="2.2"/>
<rect x="1990.6" y="1640.0" width="563.4" height="56.0" fill="#fff" stroke="#bcc4d0" stroke-width="2.2"/>
<circle cx="1990.6" cy="1604.0" r="8.5" fill="#5aa7cc"/>
<circle cx="1990.6" cy="1668.6" r="8.5" fill="#d4538b"/>
<circle cx="2042.4" cy="1604.0" r="20.5" fill="none" stroke="#aab4c4" stroke-width="1.5"/>
<path d="M2023.4,1598.9 A19.7,19.7 0 0 1 2052.8,1587.3" stroke="#d88bad" stroke-width="5.7" fill="none" opacity="0.95"/>
<polygon points="2046.9,1590.5 2062.9,1581.9 2063.3,1603.2" fill="#d88bad" opacity="0.95"/>
<text x="2077.7" y="1614.3" font-size="30"><tspan font-size="26">×</tspan> 1</text>
<circle cx="2180.5" cy="1604.0" r="20.5" fill="none" stroke="#aab4c4" stroke-width="1.5"/>
<path d="M2161.5,1598.9 A19.7,19.7 0 0 1 2190.9,1587.3" stroke="#8dbfdb" stroke-width="5.7" fill="none" opacity="0.95"/>
<polygon points="2185.0,1590.5 2201.0,1581.9 2201.4,1603.2" fill="#8dbfdb" opacity="0.95"/>
<text x="2218.7" y="1614.3" font-size="30"><tspan font-size="26">×</tspan> 1</text>
<circle cx="2317.7" cy="1604.0" r="20.5" fill="none" stroke="#aab4c4" stroke-width="1.5"/>
<path d="M2298.7,1598.9 A19.7,19.7 0 0 1 2328.1,1587.3" stroke="#93a3c8" stroke-width="5.7" fill="none" opacity="0.95"/>
<polygon points="2322.2,1590.5 2338.2,1581.9 2338.6,1603.2" fill="#93a3c8" opacity="0.95"/>
<text x="2356.7" y="1614.3" font-size="30"><tspan font-size="26">×</tspan> 1</text>
<circle cx="2456.5" cy="1604.0" r="20.5" fill="none" stroke="#aab4c4" stroke-width="1.5"/>
<path d="M2437.5,1598.9 A19.7,19.7 0 0 1 2466.9,1587.3" stroke="#73bab3" stroke-width="5.7" fill="none" opacity="0.95"/>
<polygon points="2461.0,1590.5 2477.0,1581.9 2477.4,1603.2" fill="#73bab3" opacity="0.95"/>
<text x="2493.9" y="1614.3" font-size="30"><tspan font-size="26">×</tspan> 1</text>
<circle cx="2042.4" cy="1668.6" r="20.5" fill="none" stroke="#aab4c4" stroke-width="1.5"/>
<path d="M2023.4,1663.5 A19.7,19.7 0 0 1 2052.8,1651.9" stroke="#d88bad" stroke-width="5.7" fill="none" opacity="0.95"/>
<polygon points="2046.9,1655.1 2062.9,1646.5 2063.3,1667.8" fill="#d88bad" opacity="0.95"/>
<text x="2077.7" y="1679.3" font-size="30"><tspan font-size="26">×</tspan> 2</text>
<circle cx="2180.5" cy="1668.6" r="20.5" fill="none" stroke="#aab4c4" stroke-width="1.5"/>
<path d="M2161.5,1663.5 A19.7,19.7 0 0 1 2190.9,1651.9" stroke="#8dbfdb" stroke-width="5.7" fill="none" opacity="0.95"/>
<polygon points="2185.0,1655.1 2201.0,1646.5 2201.4,1667.8" fill="#8dbfdb" opacity="0.95"/>
<text x="2218.7" y="1679.3" font-size="30"><tspan font-size="26">×</tspan> 1</text>
<circle cx="2317.7" cy="1668.6" r="20.5" fill="none" stroke="#aab4c4" stroke-width="1.5"/>
<path d="M2298.7,1663.5 A19.7,19.7 0 0 1 2328.1,1651.9" stroke="#93a3c8" stroke-width="5.7" fill="none" opacity="0.95"/>
<polygon points="2322.2,1655.1 2338.2,1646.5 2338.6,1667.8" fill="#93a3c8" opacity="0.95"/>
<text x="2356.7" y="1679.3" font-size="30"><tspan font-size="26">×</tspan> 3</text>
<circle cx="2456.5" cy="1668.6" r="20.5" fill="none" stroke="#aab4c4" stroke-width="1.5"/>
<path d="M2437.5,1663.5 A19.7,19.7 0 0 1 2466.9,1651.9" stroke="#73bab3" stroke-width="5.7" fill="none" opacity="0.95"/>
<polygon points="2461.0,1655.1 2477.0,1646.5 2477.4,1667.8" fill="#73bab3" opacity="0.95"/>
<text x="2493.9" y="1679.3" font-size="30"><tspan font-size="26">×</tspan> 2</text>
<line x1="1941.8" y1="1690.0" x2="1941.8" y2="2136.0" stroke="#b5b5b5" stroke-width="3.5"/>
<line x1="1929.0" y1="2128.6" x2="1941.0" y2="2128.6" stroke="#555" stroke-width="1.8"/>
<text x="1914.0" y="2139.1" font-size="30.5" text-anchor="end">0</text>
<line x1="1929.0" y1="2041.1" x2="1941.0" y2="2041.1" stroke="#555" stroke-width="1.8"/>
<text x="1914.0" y="2051.6" font-size="30.5" text-anchor="end">40</text>
<line x1="1929.0" y1="1953.6" x2="1941.0" y2="1953.6" stroke="#555" stroke-width="1.8"/>
<text x="1914.0" y="1964.1" font-size="30.5" text-anchor="end">80</text>
<line x1="1929.0" y1="1866.0" x2="1941.0" y2="1866.0" stroke="#555" stroke-width="1.8"/>
<text x="1914.0" y="1876.5" font-size="30.5" text-anchor="end">120</text>
<line x1="1929.0" y1="1778.5" x2="1941.0" y2="1778.5" stroke="#555" stroke-width="1.8"/>
<text x="1914.0" y="1789.0" font-size="30.5" text-anchor="end">160</text>
<line x1="1929.0" y1="1691.0" x2="1941.0" y2="1691.0" stroke="#555" stroke-width="1.8"/>
<text x="1914.0" y="1701.5" font-size="30.5" text-anchor="end">200</text>
<line x1="1940.0" y1="2136.0" x2="2603.0" y2="2136.0" stroke="#b5b5b5" stroke-width="3.5"/>
<line x1="1949.0" y1="2137.0" x2="1949.0" y2="2149.0" stroke="#555" stroke-width="1.8"/>
<text x="1949.0" y="2182.5" font-size="30" text-anchor="middle">0</text>
<line x1="2049.6" y1="2137.0" x2="2049.6" y2="2149.0" stroke="#555" stroke-width="1.8"/>
<text x="2049.6" y="2182.5" font-size="30" text-anchor="middle">200</text>
<line x1="2150.2" y1="2137.0" x2="2150.2" y2="2149.0" stroke="#555" stroke-width="1.8"/>
<text x="2150.2" y="2182.5" font-size="30" text-anchor="middle">400</text>
<line x1="2250.8" y1="2137.0" x2="2250.8" y2="2149.0" stroke="#555" stroke-width="1.8"/>
<text x="2250.8" y="2182.5" font-size="30" text-anchor="middle">600</text>
<line x1="2351.4" y1="2137.0" x2="2351.4" y2="2149.0" stroke="#555" stroke-width="1.8"/>
<text x="2351.4" y="2182.5" font-size="30" text-anchor="middle">800</text>
<line x1="2452.0" y1="2137.0" x2="2452.0" y2="2149.0" stroke="#555" stroke-width="1.8"/>
<text x="2452.0" y="2182.5" font-size="30" text-anchor="middle">1,000</text>
<line x1="2552.6" y1="2137.0" x2="2552.6" y2="2149.0" stroke="#555" stroke-width="1.8"/>
<text x="2552.6" y="2182.5" font-size="30" text-anchor="middle">1,200</text>
<text x="2280.0" y="2233.5" font-size="32.6" text-anchor="middle">iMECS settings (1,296)</text>
<text x="0" y="0" font-size="33" text-anchor="middle" transform="translate(1841,1913) rotate(-90)">Curcumin (mg l<tspan font-size="21" dy="-12">−1</tspan><tspan dy="12">)</tspan></text>
<g fill="#8595b4" stroke="#6d7d9b" stroke-width="0.6">
<circle cx="1949.3" cy="1897.6" r="3.3"/>
<circle cx="1949.6" cy="1898.7" r="3.3"/>
<circle cx="1950.1" cy="1811.1" r="3.3"/>
<circle cx="1950.3" cy="1971.7" r="3.3"/>
<circle cx="1951.1" cy="1973.0" r="3.3"/>
<circle cx="1951.6" cy="1766.2" r="3.3"/>
<circle cx="1951.8" cy="1917.2" r="3.3"/>
<circle cx="1952.3" cy="1776.4" r="3.3"/>
<circle cx="1953.0" cy="1843.5" r="3.3"/>
<circle cx="1953.5" cy="1869.5" r="3.3"/>
<circle cx="1954.1" cy="1932.8" r="3.3"/>
<circle cx="1954.8" cy="1903.7" r="3.3"/>
<circle cx="1955.2" cy="2042.4" r="3.3"/>
<circle cx="1955.4" cy="1861.0" r="3.3"/>
<circle cx="1956.0" cy="1787.0" r="3.3"/>
<circle cx="1956.5" cy="1975.8" r="3.3"/>
<circle cx="1956.7" cy="2011.6" r="3.3"/>
<circle cx="1957.5" cy="1824.2" r="3.3"/>
<circle cx="1957.8" cy="2076.3" r="3.3"/>
<circle cx="1958.3" cy="1915.9" r="3.3"/>
<circle cx="1959.2" cy="1844.9" r="3.3"/>
<circle cx="1959.3" cy="1816.9" r="3.3"/>
<circle cx="1960.2" cy="1778.0" r="3.3"/>
<circle cx="1960.5" cy="1810.0" r="3.3"/>
<circle cx="1960.9" cy="1806.3" r="3.3"/>
<circle cx="1961.5" cy="1940.3" r="3.3"/>
<circle cx="1962.4" cy="1838.3" r="3.3"/>
<circle cx="1962.4" cy="1979.1" r="3.3"/>
<circle cx="1963.2" cy="1869.2" r="3.3"/>
<circle cx="1963.4" cy="1783.1" r="3.3"/>
<circle cx="1964.0" cy="1827.3" r="3.3"/>
<circle cx="1964.3" cy="1864.4" r="3.3"/>
<circle cx="1964.9" cy="1910.4" r="3.3"/>
<circle cx="1965.9" cy="1918.7" r="3.3"/>
<circle cx="1966.3" cy="1897.2" r="3.3"/>
<circle cx="1966.9" cy="1818.9" r="3.3"/>
<circle cx="1967.0" cy="1971.3" r="3.3"/>
<circle cx="1967.9" cy="1806.1" r="3.3"/>
<circle cx="1968.3" cy="1823.4" r="3.3"/>
<circle cx="1968.3" cy="1917.6" r="3.3"/>
<circle cx="1969.2" cy="2024.9" r="3.3"/>
<circle cx="1969.7" cy="1826.1" r="3.3"/>
<circle cx="1970.3" cy="1862.2" r="3.3"/>
<circle cx="1970.7" cy="1796.4" r="3.3"/>
<circle cx="1971.2" cy="1974.3" r="3.3"/>
<circle cx="1971.5" cy="1824.1" r="3.3"/>
<circle cx="1971.9" cy="1775.7" r="3.3"/>
<circle cx="1972.7" cy="1814.2" r="3.3"/>
<circle cx="1973.4" cy="1814.4" r="3.3"/>
<circle cx="1973.8" cy="2056.4" r="3.3"/>
<circle cx="1973.9" cy="1913.1" r="3.3"/>
<circle cx="1974.8" cy="1767.6" r="3.3"/>
<circle cx="1975.2" cy="2029.7" r="3.3"/>
<circle cx="1975.6" cy="1893.8" r="3.3"/>
<circle cx="1976.2" cy="2101.0" r="3.3"/>
<circle cx="1976.9" cy="1952.4" r="3.3"/>
<circle cx="1977.4" cy="1956.0" r="3.3"/>
<circle cx="1977.9" cy="1851.0" r="3.3"/>
<circle cx="1978.1" cy="1984.4" r="3.3"/>
<circle cx="1978.8" cy="1971.0" r="3.3"/>
<circle cx="1979.2" cy="1875.2" r="3.3"/>
<circle cx="1980.0" cy="1789.2" r="3.3"/>
<circle cx="1980.3" cy="1980.6" r="3.3"/>
<circle cx="1980.7" cy="1871.8" r="3.3"/>
<circle cx="1980.9" cy="1869.6" r="3.3"/>
<circle cx="1981.7" cy="1947.1" r="3.3"/>
<circle cx="1982.2" cy="1828.9" r="3.3"/>
<circle cx="1983.0" cy="1915.6" r="3.3"/>
<circle cx="1983.1" cy="1843.9" r="3.3"/>
<circle cx="1983.5" cy="1938.6" r="3.3"/>
<circle cx="1984.2" cy="1993.8" r="3.3"/>
<circle cx="1984.8" cy="2001.1" r="3.3"/>
<circle cx="1985.4" cy="1834.7" r="3.3"/>
<circle cx="1985.6" cy="1989.0" r="3.3"/>
<circle cx="1986.2" cy="1917.0" r="3.3"/>
<circle cx="1986.9" cy="1972.8" r="3.3"/>
<circle cx="1987.0" cy="1949.9" r="3.3"/>
<circle cx="1987.6" cy="1903.8" r="3.3"/>
<circle cx="1988.2" cy="1874.2" r="3.3"/>
<circle cx="1989.0" cy="1847.7" r="3.3"/>
<circle cx="1989.0" cy="1908.2" r="3.3"/>
<circle cx="1989.5" cy="1976.7" r="3.3"/>
<circle cx="1990.4" cy="1957.3" r="3.3"/>
<circle cx="1990.5" cy="1776.5" r="3.3"/>
<circle cx="1991.4" cy="1909.3" r="3.3"/>
<circle cx="1991.5" cy="1841.1" r="3.3"/>
<circle cx="1992.4" cy="1920.4" r="3.3"/>
<circle cx="1993.0" cy="1973.0" r="3.3"/>
<circle cx="1993.2" cy="1938.7" r="3.3"/>
<circle cx="1993.8" cy="1822.0" r="3.3"/>
<circle cx="1994.2" cy="1951.9" r="3.3"/>
<circle cx="1994.8" cy="1950.1" r="3.3"/>
<circle cx="1995.5" cy="1916.2" r="3.3"/>
<circle cx="1996.0" cy="2006.4" r="3.3"/>
<circle cx="1996.1" cy="1958.4" r="3.3"/>
<circle cx="1997.0" cy="1896.1" r="3.3"/>
<circle cx="1997.5" cy="1875.5" r="3.3"/>
<circle cx="1997.9" cy="1969.9" r="3.3"/>
<circle cx="1998.5" cy="1828.4" r="3.3"/>
<circle cx="1998.6" cy="1928.5" r="3.3"/>
<circle cx="1999.6" cy="1986.8" r="3.3"/>
<circle cx="2000.0" cy="1917.5" r="3.3"/>
<circle cx="2000.5" cy="1846.1" r="3.3"/>
<circle cx="2000.8" cy="1864.2" r="3.3"/>
<circle cx="2001.0" cy="1916.0" r="3.3"/>
<circle cx="2001.6" cy="1981.5" r="3.3"/>
<circle cx="2002.5" cy="1973.2" r="3.3"/>
<circle cx="2002.8" cy="1819.0" r="3.3"/>
<circle cx="2003.5" cy="1949.7" r="3.3"/>
<circle cx="2003.8" cy="1924.0" r="3.3"/>
<circle cx="2004.2" cy="2028.3" r="3.3"/>
<circle cx="2004.9" cy="1917.6" r="3.3"/>
<circle cx="2005.5" cy="1911.6" r="3.3"/>
<circle cx="2006.0" cy="1917.5" r="3.3"/>
<circle cx="2006.6" cy="2003.7" r="3.3"/>
<circle cx="2006.9" cy="2018.7" r="3.3"/>
<circle cx="2007.3" cy="1832.4" r="3.3"/>
<circle cx="2007.6" cy="1913.6" r="3.3"/>
<circle cx="2008.3" cy="2018.8" r="3.3"/>
<circle cx="2009.0" cy="1981.1" r="3.3"/>
<circle cx="2009.3" cy="1791.0" r="3.3"/>
<circle cx="2009.7" cy="2009.9" r="3.3"/>
<circle cx="2010.3" cy="1907.0" r="3.3"/>
<circle cx="2011.1" cy="1977.8" r="3.3"/>
<circle cx="2011.2" cy="1902.9" r="3.3"/>
<circle cx="2012.0" cy="1914.9" r="3.3"/>
<circle cx="2012.2" cy="1776.1" r="3.3"/>
<circle cx="2012.8" cy="1829.1" r="3.3"/>
<circle cx="2013.1" cy="1852.5" r="3.3"/>
<circle cx="2013.7" cy="1949.4" r="3.3"/>
<circle cx="2014.4" cy="1832.6" r="3.3"/>
<circle cx="2014.9" cy="1878.9" r="3.3"/>
<circle cx="2015.5" cy="1817.8" r="3.3"/>
<circle cx="2016.1" cy="1932.2" r="3.3"/>
<circle cx="2016.6" cy="1913.8" r="3.3"/>
<circle cx="2017.1" cy="1828.0" r="3.3"/>
<circle cx="2017.3" cy="2001.3" r="3.3"/>
<circle cx="2018.2" cy="2003.5" r="3.3"/>
<circle cx="2018.3" cy="2005.3" r="3.3"/>
<circle cx="2019.1" cy="1953.7" r="3.3"/>
<circle cx="2019.2" cy="1870.6" r="3.3"/>
<circle cx="2019.6" cy="1872.9" r="3.3"/>
<circle cx="2020.7" cy="1829.2" r="3.3"/>
<circle cx="2020.9" cy="2027.6" r="3.3"/>
<circle cx="2021.4" cy="1951.4" r="3.3"/>
<circle cx="2021.7" cy="1938.9" r="3.3"/>
<circle cx="2022.5" cy="1799.7" r="3.3"/>
<circle cx="2022.8" cy="1917.9" r="3.3"/>
<circle cx="2023.7" cy="1825.8" r="3.3"/>
<circle cx="2023.7" cy="2006.2" r="3.3"/>
<circle cx="2024.6" cy="2020.0" r="3.3"/>
<circle cx="2025.0" cy="1855.8" r="3.3"/>
<circle cx="2025.2" cy="1874.8" r="3.3"/>
<circle cx="2026.2" cy="1954.7" r="3.3"/>
<circle cx="2026.6" cy="1812.3" r="3.3"/>
<circle cx="2026.8" cy="1883.7" r="3.3"/>
<circle cx="2027.6" cy="1909.9" r="3.3"/>
<circle cx="2028.2" cy="1952.6" r="3.3"/>
<circle cx="2028.5" cy="1919.8" r="3.3"/>
<circle cx="2028.8" cy="2045.1" r="3.3"/>
<circle cx="2029.6" cy="1992.0" r="3.3"/>
<circle cx="2029.9" cy="1971.4" r="3.3"/>
<circle cx="2030.6" cy="1989.0" r="3.3"/>
<circle cx="2031.1" cy="1953.1" r="3.3"/>
<circle cx="2031.5" cy="1794.4" r="3.3"/>
<circle cx="2032.1" cy="1759.8" r="3.3"/>
<circle cx="2032.3" cy="1919.5" r="3.3"/>
<circle cx="2032.9" cy="1993.7" r="3.3"/>
<circle cx="2033.5" cy="1931.4" r="3.3"/>
<circle cx="2034.1" cy="1866.0" r="3.3"/>
<circle cx="2034.2" cy="1952.6" r="3.3"/>
<circle cx="2035.2" cy="1924.9" r="3.3"/>
<circle cx="2035.2" cy="1835.4" r="3.3"/>
<circle cx="2035.8" cy="1835.9" r="3.3"/>
<circle cx="2036.6" cy="1824.3" r="3.3"/>
<circle cx="2037.3" cy="1912.5" r="3.3"/>
<circle cx="2037.3" cy="1926.7" r="3.3"/>
<circle cx="2038.2" cy="1917.2" r="3.3"/>
<circle cx="2038.5" cy="1773.4" r="3.3"/>
<circle cx="2039.1" cy="1811.4" r="3.3"/>
<circle cx="2039.8" cy="1776.1" r="3.3"/>
<circle cx="2040.1" cy="1876.4" r="3.3"/>
<circle cx="2040.6" cy="1859.8" r="3.3"/>
<circle cx="2040.9" cy="1917.4" r="3.3"/>
<circle cx="2041.4" cy="1769.8" r="3.3"/>
<circle cx="2042.0" cy="1772.0" r="3.3"/>
<circle cx="2042.3" cy="1991.9" r="3.3"/>
<circle cx="2042.8" cy="2034.4" r="3.3"/>
<circle cx="2043.6" cy="1998.9" r="3.3"/>
<circle cx="2044.1" cy="2024.8" r="3.3"/>
<circle cx="2044.6" cy="1992.4" r="3.3"/>
<circle cx="2045.1" cy="2044.2" r="3.3"/>
<circle cx="2045.5" cy="1808.6" r="3.3"/>
<circle cx="2046.1" cy="1843.0" r="3.3"/>
<circle cx="2046.7" cy="1812.6" r="3.3"/>
<circle cx="2047.1" cy="1904.1" r="3.3"/>
<circle cx="2047.6" cy="1870.9" r="3.3"/>
<circle cx="2048.2" cy="2033.8" r="3.3"/>
<circle cx="2048.8" cy="1841.7" r="3.3"/>
<circle cx="2049.2" cy="1968.1" r="3.3"/>
<circle cx="2049.7" cy="1860.1" r="3.3"/>
<circle cx="2050.3" cy="1920.0" r="3.3"/>
<circle cx="2050.9" cy="1816.8" r="3.3"/>
<circle cx="2050.8" cy="1989.0" r="3.3"/>
<circle cx="2051.5" cy="1777.9" r="3.3"/>
<circle cx="2051.9" cy="1874.3" r="3.3"/>
<circle cx="2052.7" cy="1915.2" r="3.3"/>
<circle cx="2053.2" cy="1915.8" r="3.3"/>
<circle cx="2053.5" cy="1877.4" r="3.3"/>
<circle cx="2054.3" cy="1849.7" r="3.3"/>
<circle cx="2054.8" cy="1798.3" r="3.3"/>
<circle cx="2055.1" cy="1916.1" r="3.3"/>
<circle cx="2055.6" cy="1826.4" r="3.3"/>
<circle cx="2056.0" cy="1923.1" r="3.3"/>
<circle cx="2056.8" cy="1918.5" r="3.3"/>
<circle cx="2057.1" cy="1998.9" r="3.3"/>
<circle cx="2057.4" cy="1785.1" r="3.3"/>
<circle cx="2058.1" cy="1790.5" r="3.3"/>
<circle cx="2058.8" cy="1936.7" r="3.3"/>
<circle cx="2059.3" cy="1796.7" r="3.3"/>
<circle cx="2059.8" cy="1795.1" r="3.3"/>
<circle cx="2060.1" cy="1954.1" r="3.3"/>
<circle cx="2060.6" cy="1950.9" r="3.3"/>
<circle cx="2061.2" cy="1806.8" r="3.3"/>
<circle cx="2061.9" cy="1987.7" r="3.3"/>
<circle cx="2062.1" cy="1870.3" r="3.3"/>
<circle cx="2062.9" cy="1857.3" r="3.3"/>
<circle cx="2063.1" cy="2002.8" r="3.3"/>
<circle cx="2063.6" cy="1858.1" r="3.3"/>
<circle cx="2064.2" cy="1883.7" r="3.3"/>
<circle cx="2064.7" cy="1985.1" r="3.3"/>
<circle cx="2065.4" cy="1805.7" r="3.3"/>
<circle cx="2065.7" cy="1865.6" r="3.3"/>
<circle cx="2066.2" cy="1917.8" r="3.3"/>
<circle cx="2066.9" cy="2015.9" r="3.3"/>
<circle cx="2067.4" cy="1790.8" r="3.3"/>
<circle cx="2067.9" cy="1799.0" r="3.3"/>
<circle cx="2068.3" cy="2006.4" r="3.3"/>
<circle cx="2068.8" cy="1806.0" r="3.3"/>
<circle cx="2069.4" cy="1839.3" r="3.3"/>
<circle cx="2069.6" cy="1916.1" r="3.3"/>
<circle cx="2070.2" cy="2015.4" r="3.3"/>
<circle cx="2070.9" cy="1919.4" r="3.3"/>
<circle cx="2071.4" cy="1949.3" r="3.3"/>
<circle cx="2071.9" cy="1925.8" r="3.3"/>
<circle cx="2072.5" cy="1978.2" r="3.3"/>
<circle cx="2072.8" cy="2016.1" r="3.3"/>
<circle cx="2073.2" cy="1951.9" r="3.3"/>
<circle cx="2074.0" cy="1806.1" r="3.3"/>
<circle cx="2074.1" cy="1884.3" r="3.3"/>
<circle cx="2075.0" cy="1881.5" r="3.3"/>
<circle cx="2075.1" cy="1778.7" r="3.3"/>
<circle cx="2075.9" cy="1808.1" r="3.3"/>
<circle cx="2076.2" cy="1820.9" r="3.3"/>
<circle cx="2076.5" cy="1915.7" r="3.3"/>
<circle cx="2077.1" cy="1817.5" r="3.3"/>
<circle cx="2077.8" cy="1954.3" r="3.3"/>
<circle cx="2078.1" cy="1840.1" r="3.3"/>
<circle cx="2078.7" cy="1805.7" r="3.3"/>
<circle cx="2079.1" cy="1914.9" r="3.3"/>
<circle cx="2079.7" cy="1988.3" r="3.3"/>
<circle cx="2080.6" cy="1919.6" r="3.3"/>
<circle cx="2080.5" cy="1905.0" r="3.3"/>
<circle cx="2081.2" cy="2012.6" r="3.3"/>
<circle cx="2082.1" cy="1918.8" r="3.3"/>
<circle cx="2082.0" cy="1937.9" r="3.3"/>
<circle cx="2083.0" cy="1901.7" r="3.3"/>
<circle cx="2083.4" cy="1953.9" r="3.3"/>
<circle cx="2083.7" cy="1818.8" r="3.3"/>
<circle cx="2084.3" cy="1825.1" r="3.3"/>
<circle cx="2084.7" cy="1923.1" r="3.3"/>
<circle cx="2085.0" cy="1913.3" r="3.3"/>
<circle cx="2086.0" cy="1968.1" r="3.3"/>
<circle cx="2086.4" cy="1971.8" r="3.3"/>
<circle cx="2086.8" cy="1792.0" r="3.3"/>
<circle cx="2087.5" cy="2017.3" r="3.3"/>
<circle cx="2087.8" cy="1848.8" r="3.3"/>
<circle cx="2088.5" cy="2006.3" r="3.3"/>
<circle cx="2088.8" cy="1832.3" r="3.3"/>
<circle cx="2089.2" cy="1804.1" r="3.3"/>
<circle cx="2089.7" cy="1864.4" r="3.3"/>
<circle cx="2090.3" cy="1894.2" r="3.3"/>
<circle cx="2090.8" cy="1940.5" r="3.3"/>
<circle cx="2091.5" cy="1888.6" r="3.3"/>
<circle cx="2091.8" cy="1942.4" r="3.3"/>
<circle cx="2092.2" cy="1951.7" r="3.3"/>
<circle cx="2093.2" cy="1916.8" r="3.3"/>
<circle cx="2093.2" cy="1975.2" r="3.3"/>
<circle cx="2093.9" cy="1917.1" r="3.3"/>
<circle cx="2094.3" cy="1858.7" r="3.3"/>
<circle cx="2094.7" cy="1937.6" r="3.3"/>
<circle cx="2095.3" cy="1949.0" r="3.3"/>
<circle cx="2096.0" cy="1995.9" r="3.3"/>
<circle cx="2096.1" cy="1847.9" r="3.3"/>
<circle cx="2097.0" cy="1820.2" r="3.3"/>
<circle cx="2097.6" cy="1951.5" r="3.3"/>
<circle cx="2097.6" cy="1913.6" r="3.3"/>
<circle cx="2098.2" cy="1840.7" r="3.3"/>
<circle cx="2099.1" cy="1886.3" r="3.3"/>
<circle cx="2099.5" cy="1876.7" r="3.3"/>
<circle cx="2099.8" cy="1951.5" r="3.3"/>
<circle cx="2100.3" cy="1887.6" r="3.3"/>
<circle cx="2101.2" cy="1957.8" r="3.3"/>
<circle cx="2101.1" cy="1979.3" r="3.3"/>
<circle cx="2102.0" cy="1858.6" r="3.3"/>
<circle cx="2102.4" cy="1793.8" r="3.3"/>
<circle cx="2103.1" cy="1981.5" r="3.3"/>
<circle cx="2103.7" cy="1913.5" r="3.3"/>
<circle cx="2103.8" cy="1912.0" r="3.3"/>
<circle cx="2104.6" cy="1906.7" r="3.3"/>
<circle cx="2105.1" cy="2067.2" r="3.3"/>
<circle cx="2105.5" cy="1971.3" r="3.3"/>
<circle cx="2105.8" cy="1842.3" r="3.3"/>
<circle cx="2106.6" cy="1909.4" r="3.3"/>
<circle cx="2106.9" cy="1845.7" r="3.3"/>
<circle cx="2107.7" cy="1907.1" r="3.3"/>
<circle cx="2108.0" cy="1802.5" r="3.3"/>
<circle cx="2108.7" cy="1918.6" r="3.3"/>
<circle cx="2109.0" cy="2044.1" r="3.3"/>
<circle cx="2109.3" cy="1804.2" r="3.3"/>
<circle cx="2110.0" cy="2003.0" r="3.3"/>
<circle cx="2110.3" cy="1977.0" r="3.3"/>
<circle cx="2110.8" cy="1915.7" r="3.3"/>
<circle cx="2111.6" cy="2034.8" r="3.3"/>
<circle cx="2112.1" cy="1851.4" r="3.3"/>
<circle cx="2112.7" cy="1875.0" r="3.3"/>
<circle cx="2112.8" cy="1774.8" r="3.3"/>
<circle cx="2113.4" cy="1906.7" r="3.3"/>
<circle cx="2113.8" cy="1914.7" r="3.3"/>
<circle cx="2114.4" cy="1913.1" r="3.3"/>
<circle cx="2115.1" cy="1941.9" r="3.3"/>
<circle cx="2115.6" cy="1801.3" r="3.3"/>
<circle cx="2116.1" cy="1900.8" r="3.3"/>
<circle cx="2116.7" cy="1927.7" r="3.3"/>
<circle cx="2117.2" cy="1888.0" r="3.3"/>
<circle cx="2117.5" cy="1980.2" r="3.3"/>
<circle cx="2118.0" cy="1996.8" r="3.3"/>
<circle cx="2118.4" cy="1868.1" r="3.3"/>
<circle cx="2119.1" cy="1773.2" r="3.3"/>
<circle cx="2119.6" cy="1992.2" r="3.3"/>
<circle cx="2119.8" cy="1955.7" r="3.3"/>
<circle cx="2120.5" cy="1812.5" r="3.3"/>
<circle cx="2121.1" cy="1886.8" r="3.3"/>
<circle cx="2121.4" cy="1912.5" r="3.3"/>
<circle cx="2121.9" cy="1857.4" r="3.3"/>
<circle cx="2122.8" cy="1784.4" r="3.3"/>
<circle cx="2123.0" cy="1925.6" r="3.3"/>
<circle cx="2123.6" cy="1973.9" r="3.3"/>
<circle cx="2124.2" cy="2006.1" r="3.3"/>
<circle cx="2124.8" cy="1810.5" r="3.3"/>
<circle cx="2124.9" cy="1762.2" r="3.3"/>
<circle cx="2125.8" cy="1864.7" r="3.3"/>
<circle cx="2126.0" cy="1966.9" r="3.3"/>
<circle cx="2126.3" cy="1853.2" r="3.3"/>
<circle cx="2127.1" cy="1772.8" r="3.3"/>
<circle cx="2127.5" cy="1986.9" r="3.3"/>
<circle cx="2128.3" cy="1837.7" r="3.3"/>
<circle cx="2128.8" cy="2004.0" r="3.3"/>
<circle cx="2128.9" cy="1855.7" r="3.3"/>
<circle cx="2129.9" cy="1978.1" r="3.3"/>
<circle cx="2129.9" cy="1830.3" r="3.3"/>
<circle cx="2130.7" cy="1973.1" r="3.3"/>
<circle cx="2131.3" cy="1846.3" r="3.3"/>
<circle cx="2131.4" cy="1952.9" r="3.3"/>
<circle cx="2131.8" cy="1948.7" r="3.3"/>
<circle cx="2132.7" cy="1837.4" r="3.3"/>
<circle cx="2132.9" cy="1840.2" r="3.3"/>
<circle cx="2133.5" cy="1927.1" r="3.3"/>
<circle cx="2134.2" cy="1925.2" r="3.3"/>
<circle cx="2134.9" cy="1837.6" r="3.3"/>
<circle cx="2135.2" cy="1937.2" r="3.3"/>
<circle cx="2135.6" cy="1783.2" r="3.3"/>
<circle cx="2136.1" cy="1917.6" r="3.3"/>
<circle cx="2136.5" cy="1777.6" r="3.3"/>
<circle cx="2136.9" cy="1978.0" r="3.3"/>
<circle cx="2137.5" cy="1849.5" r="3.3"/>
<circle cx="2137.9" cy="1832.2" r="3.3"/>
<circle cx="2138.4" cy="1986.6" r="3.3"/>
<circle cx="2139.1" cy="1893.4" r="3.3"/>
<circle cx="2139.4" cy="1997.3" r="3.3"/>
<circle cx="2140.2" cy="1918.1" r="3.3"/>
<circle cx="2140.7" cy="1979.4" r="3.3"/>
<circle cx="2141.3" cy="1891.3" r="3.3"/>
<circle cx="2141.8" cy="1914.6" r="3.3"/>
<circle cx="2142.0" cy="1809.0" r="3.3"/>
<circle cx="2142.8" cy="1871.0" r="3.3"/>
<circle cx="2143.0" cy="1976.4" r="3.3"/>
<circle cx="2143.7" cy="1905.0" r="3.3"/>
<circle cx="2144.2" cy="1909.0" r="3.3"/>
<circle cx="2144.5" cy="1962.3" r="3.3"/>
<circle cx="2145.2" cy="1821.9" r="3.3"/>
<circle cx="2145.5" cy="1878.3" r="3.3"/>
<circle cx="2145.9" cy="1980.1" r="3.3"/>
<circle cx="2146.7" cy="1995.8" r="3.3"/>
<circle cx="2147.1" cy="1975.2" r="3.3"/>
<circle cx="2147.6" cy="1773.3" r="3.3"/>
<circle cx="2148.2" cy="1918.7" r="3.3"/>
<circle cx="2148.5" cy="1786.0" r="3.3"/>
<circle cx="2149.3" cy="1840.7" r="3.3"/>
<circle cx="2149.9" cy="1976.1" r="3.3"/>
<circle cx="2150.0" cy="1778.1" r="3.3"/>
<circle cx="2150.7" cy="2029.2" r="3.3"/>
<circle cx="2151.5" cy="1951.1" r="3.3"/>
<circle cx="2151.9" cy="1812.3" r="3.3"/>
<circle cx="2152.0" cy="1774.8" r="3.3"/>
<circle cx="2152.7" cy="1881.4" r="3.3"/>
<circle cx="2153.5" cy="1799.8" r="3.3"/>
<circle cx="2153.9" cy="1943.5" r="3.3"/>
<circle cx="2154.3" cy="1838.6" r="3.3"/>
<circle cx="2155.0" cy="1834.1" r="3.3"/>
<circle cx="2155.5" cy="1858.7" r="3.3"/>
<circle cx="2155.8" cy="1913.3" r="3.3"/>
<circle cx="2156.1" cy="1774.4" r="3.3"/>
<circle cx="2157.0" cy="1949.3" r="3.3"/>
<circle cx="2157.4" cy="1901.2" r="3.3"/>
<circle cx="2157.6" cy="1870.8" r="3.3"/>
<circle cx="2158.3" cy="1862.0" r="3.3"/>
<circle cx="2158.6" cy="1817.8" r="3.3"/>
<circle cx="2159.2" cy="1903.0" r="3.3"/>
<circle cx="2160.0" cy="2054.7" r="3.3"/>
<circle cx="2160.0" cy="1835.8" r="3.3"/>
<circle cx="2160.7" cy="1958.4" r="3.3"/>
<circle cx="2161.1" cy="1843.8" r="3.3"/>
<circle cx="2162.0" cy="1835.6" r="3.3"/>
<circle cx="2162.1" cy="1954.1" r="3.3"/>
<circle cx="2162.9" cy="2000.4" r="3.3"/>
<circle cx="2163.5" cy="1949.0" r="3.3"/>
<circle cx="2163.5" cy="1776.7" r="3.3"/>
<circle cx="2164.2" cy="1970.8" r="3.3"/>
<circle cx="2164.7" cy="1955.2" r="3.3"/>
<circle cx="2165.1" cy="1843.3" r="3.3"/>
<circle cx="2165.5" cy="1916.5" r="3.3"/>
<circle cx="2166.3" cy="1856.8" r="3.3"/>
<circle cx="2166.7" cy="1806.8" r="3.3"/>
<circle cx="2167.1" cy="1954.9" r="3.3"/>
<circle cx="2167.7" cy="1828.6" r="3.3"/>
<circle cx="2168.1" cy="1869.0" r="3.3"/>
<circle cx="2168.6" cy="1858.5" r="3.3"/>
<circle cx="2169.0" cy="1776.9" r="3.3"/>
<circle cx="2170.1" cy="1921.5" r="3.3"/>
<circle cx="2170.6" cy="1851.4" r="3.3"/>
<circle cx="2170.9" cy="1829.1" r="3.3"/>
<circle cx="2171.2" cy="2011.1" r="3.3"/>
<circle cx="2171.8" cy="1940.8" r="3.3"/>
<circle cx="2172.3" cy="1886.6" r="3.3"/>
<circle cx="2172.7" cy="1855.2" r="3.3"/>
<circle cx="2173.3" cy="1813.5" r="3.3"/>
<circle cx="2173.7" cy="1807.7" r="3.3"/>
<circle cx="2174.3" cy="1794.4" r="3.3"/>
<circle cx="2175.0" cy="1809.5" r="3.3"/>
<circle cx="2175.5" cy="1918.6" r="3.3"/>
<circle cx="2175.6" cy="1777.8" r="3.3"/>
<circle cx="2176.4" cy="1886.7" r="3.3"/>
<circle cx="2176.8" cy="1914.5" r="3.3"/>
<circle cx="2177.1" cy="1860.5" r="3.3"/>
<circle cx="2177.9" cy="1846.5" r="3.3"/>
<circle cx="2178.2" cy="1829.5" r="3.3"/>
<circle cx="2179.1" cy="1896.3" r="3.3"/>
<circle cx="2179.6" cy="1853.4" r="3.3"/>
<circle cx="2179.8" cy="1958.2" r="3.3"/>
<circle cx="2180.6" cy="1881.9" r="3.3"/>
<circle cx="2180.8" cy="1980.7" r="3.3"/>
<circle cx="2181.2" cy="2007.4" r="3.3"/>
<circle cx="2181.8" cy="1903.0" r="3.3"/>
<circle cx="2182.2" cy="2095.2" r="3.3"/>
<circle cx="2182.7" cy="1829.3" r="3.3"/>
<circle cx="2183.3" cy="1755.7" r="3.3"/>
<circle cx="2184.0" cy="1833.4" r="3.3"/>
<circle cx="2184.6" cy="1919.2" r="3.3"/>
<circle cx="2184.8" cy="2022.8" r="3.3"/>
<circle cx="2185.3" cy="1980.2" r="3.3"/>
<circle cx="2186.2" cy="1956.0" r="3.3"/>
<circle cx="2186.2" cy="1983.0" r="3.3"/>
<circle cx="2186.8" cy="1920.3" r="3.3"/>
<circle cx="2187.4" cy="1849.7" r="3.3"/>
<circle cx="2187.8" cy="1838.7" r="3.3"/>
<circle cx="2188.2" cy="1811.0" r="3.3"/>
<circle cx="2188.7" cy="1799.2" r="3.3"/>
<circle cx="2189.2" cy="1953.2" r="3.3"/>
<circle cx="2189.9" cy="1892.9" r="3.3"/>
<circle cx="2190.7" cy="1803.3" r="3.3"/>
<circle cx="2191.1" cy="1775.3" r="3.3"/>
<circle cx="2191.3" cy="1872.3" r="3.3"/>
<circle cx="2191.8" cy="1947.8" r="3.3"/>
<circle cx="2192.7" cy="1849.4" r="3.3"/>
<circle cx="2193.1" cy="1980.4" r="3.3"/>
<circle cx="2193.7" cy="1917.7" r="3.3"/>
<circle cx="2194.1" cy="1971.8" r="3.3"/>
<circle cx="2194.2" cy="1840.1" r="3.3"/>
<circle cx="2195.2" cy="1914.3" r="3.3"/>
<circle cx="2195.6" cy="2027.2" r="3.3"/>
<circle cx="2195.9" cy="1874.1" r="3.3"/>
<circle cx="2196.2" cy="1986.6" r="3.3"/>
<circle cx="2196.9" cy="1952.5" r="3.3"/>
<circle cx="2197.8" cy="1952.6" r="3.3"/>
<circle cx="2197.7" cy="1815.1" r="3.3"/>
<circle cx="2198.4" cy="1919.3" r="3.3"/>
<circle cx="2199.2" cy="1974.9" r="3.3"/>
<circle cx="2199.6" cy="1857.5" r="3.3"/>
<circle cx="2200.1" cy="1948.8" r="3.3"/>
<circle cx="2200.7" cy="1916.7" r="3.3"/>
<circle cx="2200.8" cy="1818.4" r="3.3"/>
<circle cx="2201.5" cy="2002.8" r="3.3"/>
<circle cx="2201.7" cy="1815.2" r="3.3"/>
<circle cx="2202.4" cy="1913.7" r="3.3"/>
<circle cx="2202.9" cy="1833.6" r="3.3"/>
<circle cx="2203.3" cy="1843.0" r="3.3"/>
<circle cx="2203.8" cy="2001.5" r="3.3"/>
<circle cx="2204.8" cy="1811.7" r="3.3"/>
<circle cx="2205.0" cy="1825.2" r="3.3"/>
<circle cx="2205.5" cy="1870.3" r="3.3"/>
<circle cx="2206.1" cy="1771.4" r="3.3"/>
<circle cx="2206.4" cy="1930.4" r="3.3"/>
<circle cx="2207.3" cy="1989.3" r="3.3"/>
<circle cx="2207.7" cy="1891.6" r="3.3"/>
<circle cx="2207.8" cy="1821.7" r="3.3"/>
<circle cx="2208.5" cy="1820.6" r="3.3"/>
<circle cx="2208.8" cy="1955.7" r="3.3"/>
<circle cx="2209.3" cy="1823.2" r="3.3"/>
<circle cx="2210.2" cy="1912.9" r="3.3"/>
<circle cx="2210.7" cy="1975.9" r="3.3"/>
<circle cx="2211.2" cy="1980.7" r="3.3"/>
<circle cx="2211.8" cy="2099.0" r="3.3"/>
<circle cx="2211.9" cy="1872.5" r="3.3"/>
<circle cx="2212.6" cy="2007.7" r="3.3"/>
<circle cx="2213.0" cy="1835.7" r="3.3"/>
<circle cx="2213.5" cy="1926.7" r="3.3"/>
<circle cx="2213.9" cy="1935.6" r="3.3"/>
<circle cx="2214.3" cy="2001.2" r="3.3"/>
<circle cx="2214.9" cy="1849.8" r="3.3"/>
<circle cx="2215.4" cy="1960.5" r="3.3"/>
<circle cx="2216.0" cy="1797.9" r="3.3"/>
<circle cx="2216.6" cy="1887.7" r="3.3"/>
<circle cx="2217.1" cy="1880.9" r="3.3"/>
<circle cx="2217.8" cy="2025.7" r="3.3"/>
<circle cx="2217.9" cy="1849.5" r="3.3"/>
<circle cx="2218.9" cy="2073.8" r="3.3"/>
<circle cx="2219.2" cy="1835.2" r="3.3"/>
<circle cx="2219.7" cy="1816.3" r="3.3"/>
<circle cx="2219.9" cy="2023.1" r="3.3"/>
<circle cx="2220.4" cy="1844.4" r="3.3"/>
<circle cx="2221.2" cy="1935.2" r="3.3"/>
<circle cx="2221.9" cy="1830.7" r="3.3"/>
<circle cx="2222.2" cy="1977.7" r="3.3"/>
<circle cx="2222.4" cy="1897.4" r="3.3"/>
<circle cx="2223.2" cy="1977.6" r="3.3"/>
<circle cx="2223.5" cy="1879.5" r="3.3"/>
<circle cx="2224.2" cy="1919.5" r="3.3"/>
<circle cx="2224.6" cy="1912.1" r="3.3"/>
<circle cx="2225.2" cy="1915.5" r="3.3"/>
<circle cx="2225.6" cy="2004.9" r="3.3"/>
<circle cx="2226.0" cy="2050.2" r="3.3"/>
<circle cx="2226.9" cy="1948.7" r="3.3"/>
<circle cx="2227.2" cy="1800.6" r="3.3"/>
<circle cx="2227.8" cy="1825.8" r="3.3"/>
<circle cx="2228.3" cy="1990.1" r="3.3"/>
<circle cx="2229.0" cy="1916.6" r="3.3"/>
<circle cx="2229.3" cy="1785.2" r="3.3"/>
<circle cx="2229.6" cy="1826.5" r="3.3"/>
<circle cx="2230.0" cy="1915.0" r="3.3"/>
<circle cx="2230.7" cy="1941.2" r="3.3"/>
<circle cx="2231.2" cy="1978.0" r="3.3"/>
<circle cx="2231.9" cy="1826.7" r="3.3"/>
<circle cx="2232.4" cy="1963.5" r="3.3"/>
<circle cx="2232.5" cy="1814.3" r="3.3"/>
<circle cx="2233.1" cy="1777.6" r="3.3"/>
<circle cx="2233.5" cy="1974.1" r="3.3"/>
<circle cx="2234.3" cy="1869.3" r="3.3"/>
<circle cx="2235.0" cy="2006.7" r="3.3"/>
<circle cx="2235.4" cy="1830.4" r="3.3"/>
<circle cx="2235.5" cy="1955.6" r="3.3"/>
<circle cx="2235.9" cy="1934.1" r="3.3"/>
<circle cx="2236.8" cy="1859.1" r="3.3"/>
<circle cx="2237.3" cy="1831.0" r="3.3"/>
<circle cx="2237.8" cy="1819.5" r="3.3"/>
<circle cx="2238.0" cy="1907.0" r="3.3"/>
<circle cx="2238.6" cy="1994.9" r="3.3"/>
<circle cx="2239.3" cy="1822.4" r="3.3"/>
<circle cx="2239.7" cy="1956.2" r="3.3"/>
<circle cx="2240.2" cy="1808.5" r="3.3"/>
<circle cx="2240.7" cy="1972.0" r="3.3"/>
<circle cx="2241.5" cy="1898.7" r="3.3"/>
<circle cx="2241.6" cy="1850.6" r="3.3"/>
<circle cx="2242.1" cy="1917.7" r="3.3"/>
<circle cx="2242.9" cy="1965.0" r="3.3"/>
<circle cx="2243.2" cy="1889.4" r="3.3"/>
<circle cx="2243.5" cy="1957.8" r="3.3"/>
<circle cx="2244.2" cy="1881.8" r="3.3"/>
<circle cx="2244.9" cy="2023.7" r="3.3"/>
<circle cx="2245.2" cy="1937.8" r="3.3"/>
<circle cx="2245.6" cy="1802.7" r="3.3"/>
<circle cx="2246.5" cy="1880.4" r="3.3"/>
<circle cx="2246.8" cy="1978.8" r="3.3"/>
<circle cx="2247.0" cy="1911.1" r="3.3"/>
<circle cx="2247.9" cy="1857.8" r="3.3"/>
<circle cx="2248.5" cy="1935.8" r="3.3"/>
<circle cx="2248.9" cy="2029.6" r="3.3"/>
<circle cx="2249.3" cy="1901.9" r="3.3"/>
<circle cx="2249.9" cy="1851.4" r="3.3"/>
<circle cx="2250.6" cy="2008.8" r="3.3"/>
<circle cx="2250.9" cy="1869.8" r="3.3"/>
<circle cx="2251.6" cy="1947.6" r="3.3"/>
<circle cx="2251.7" cy="1792.3" r="3.3"/>
<circle cx="2252.6" cy="1938.3" r="3.3"/>
<circle cx="2252.6" cy="1836.1" r="3.3"/>
<circle cx="2253.1" cy="1871.7" r="3.3"/>
<circle cx="2253.9" cy="1808.1" r="3.3"/>
<circle cx="2254.5" cy="1953.7" r="3.3"/>
<circle cx="2254.6" cy="1944.8" r="3.3"/>
<circle cx="2255.5" cy="1909.5" r="3.3"/>
<circle cx="2255.5" cy="1988.7" r="3.3"/>
<circle cx="2256.4" cy="1854.3" r="3.3"/>
<circle cx="2256.7" cy="1786.6" r="3.3"/>
<circle cx="2257.1" cy="1913.6" r="3.3"/>
<circle cx="2257.7" cy="1791.4" r="3.3"/>
<circle cx="2258.2" cy="1970.6" r="3.3"/>
<circle cx="2258.7" cy="1886.7" r="3.3"/>
<circle cx="2259.3" cy="1897.6" r="3.3"/>
<circle cx="2259.6" cy="1967.3" r="3.3"/>
<circle cx="2260.3" cy="2018.7" r="3.3"/>
<circle cx="2261.1" cy="1912.7" r="3.3"/>
<circle cx="2261.1" cy="2021.1" r="3.3"/>
<circle cx="2262.0" cy="1804.4" r="3.3"/>
<circle cx="2262.1" cy="1950.3" r="3.3"/>
<circle cx="2263.2" cy="1795.1" r="3.3"/>
<circle cx="2263.1" cy="1925.9" r="3.3"/>
<circle cx="2263.7" cy="1886.2" r="3.3"/>
<circle cx="2264.3" cy="1784.3" r="3.3"/>
<circle cx="2265.1" cy="1895.5" r="3.3"/>
<circle cx="2265.4" cy="2017.7" r="3.3"/>
<circle cx="2265.8" cy="1999.6" r="3.3"/>
<circle cx="2266.2" cy="1948.6" r="3.3"/>
<circle cx="2266.9" cy="1856.6" r="3.3"/>
<circle cx="2267.4" cy="1856.6" r="3.3"/>
<circle cx="2267.9" cy="1774.6" r="3.3"/>
<circle cx="2268.3" cy="1917.3" r="3.3"/>
<circle cx="2268.8" cy="1842.0" r="3.3"/>
<circle cx="2269.2" cy="1855.4" r="3.3"/>
<circle cx="2269.9" cy="1954.2" r="3.3"/>
<circle cx="2270.5" cy="2030.0" r="3.3"/>
<circle cx="2271.0" cy="2022.1" r="3.3"/>
<circle cx="2271.5" cy="1881.3" r="3.3"/>
<circle cx="2271.8" cy="1916.3" r="3.3"/>
<circle cx="2272.6" cy="1898.5" r="3.3"/>
<circle cx="2272.8" cy="1773.0" r="3.3"/>
<circle cx="2273.4" cy="1973.2" r="3.3"/>
<circle cx="2274.0" cy="1979.0" r="3.3"/>
<circle cx="2274.6" cy="1783.2" r="3.3"/>
<circle cx="2275.1" cy="1859.1" r="3.3"/>
<circle cx="2275.5" cy="1973.0" r="3.3"/>
<circle cx="2276.0" cy="1775.1" r="3.3"/>
<circle cx="2276.7" cy="1917.3" r="3.3"/>
<circle cx="2277.2" cy="1942.2" r="3.3"/>
<circle cx="2277.6" cy="1954.0" r="3.3"/>
<circle cx="2278.3" cy="1873.0" r="3.3"/>
<circle cx="2278.6" cy="2006.6" r="3.3"/>
<circle cx="2278.9" cy="1871.5" r="3.3"/>
<circle cx="2279.2" cy="1900.2" r="3.3"/>
<circle cx="2279.7" cy="1850.0" r="3.3"/>
<circle cx="2280.6" cy="1804.0" r="3.3"/>
<circle cx="2280.7" cy="1916.5" r="3.3"/>
<circle cx="2281.8" cy="1815.5" r="3.3"/>
<circle cx="2281.9" cy="1914.5" r="3.3"/>
<circle cx="2282.7" cy="1917.4" r="3.3"/>
<circle cx="2283.0" cy="1803.2" r="3.3"/>
<circle cx="2283.6" cy="1778.3" r="3.3"/>
<circle cx="2284.1" cy="1997.5" r="3.3"/>
<circle cx="2284.3" cy="1870.9" r="3.3"/>
<circle cx="2284.8" cy="1951.6" r="3.3"/>
<circle cx="2285.3" cy="1915.5" r="3.3"/>
<circle cx="2286.0" cy="1853.1" r="3.3"/>
<circle cx="2286.7" cy="1875.4" r="3.3"/>
<circle cx="2287.0" cy="1853.3" r="3.3"/>
<circle cx="2287.6" cy="2081.6" r="3.3"/>
<circle cx="2288.2" cy="1838.4" r="3.3"/>
<circle cx="2288.4" cy="1913.7" r="3.3"/>
<circle cx="2289.0" cy="1786.0" r="3.3"/>
<circle cx="2289.6" cy="1959.6" r="3.3"/>
<circle cx="2290.0" cy="2037.1" r="3.3"/>
<circle cx="2290.7" cy="1904.7" r="3.3"/>
<circle cx="2291.2" cy="1795.0" r="3.3"/>
<circle cx="2291.7" cy="1773.2" r="3.3"/>
<circle cx="2291.8" cy="1919.0" r="3.3"/>
<circle cx="2292.7" cy="2013.4" r="3.3"/>
<circle cx="2292.9" cy="1786.7" r="3.3"/>
<circle cx="2293.6" cy="1832.5" r="3.3"/>
<circle cx="2294.1" cy="1805.5" r="3.3"/>
<circle cx="2294.7" cy="1988.0" r="3.3"/>
<circle cx="2295.2" cy="1845.2" r="3.3"/>
<circle cx="2295.7" cy="1847.3" r="3.3"/>
<circle cx="2295.8" cy="1838.7" r="3.3"/>
<circle cx="2296.4" cy="1917.2" r="3.3"/>
<circle cx="2296.9" cy="1860.5" r="3.3"/>
<circle cx="2297.5" cy="1903.8" r="3.3"/>
<circle cx="2298.3" cy="1833.0" r="3.3"/>
<circle cx="2298.8" cy="1803.5" r="3.3"/>
<circle cx="2299.1" cy="1921.2" r="3.3"/>
<circle cx="2299.8" cy="1924.5" r="3.3"/>
<circle cx="2300.4" cy="1843.0" r="3.3"/>
<circle cx="2300.4" cy="1848.8" r="3.3"/>
<circle cx="2301.2" cy="1901.7" r="3.3"/>
<circle cx="2301.6" cy="1997.2" r="3.3"/>
<circle cx="2302.4" cy="1861.0" r="3.3"/>
<circle cx="2302.7" cy="1783.9" r="3.3"/>
<circle cx="2302.9" cy="1784.6" r="3.3"/>
<circle cx="2303.4" cy="1917.7" r="3.3"/>
<circle cx="2304.3" cy="2083.0" r="3.3"/>
<circle cx="2304.3" cy="1775.9" r="3.3"/>
<circle cx="2305.4" cy="1917.4" r="3.3"/>
<circle cx="2305.8" cy="1925.8" r="3.3"/>
<circle cx="2305.9" cy="1913.0" r="3.3"/>
<circle cx="2306.5" cy="1914.6" r="3.3"/>
<circle cx="2307.3" cy="1905.5" r="3.3"/>
<circle cx="2307.4" cy="1877.3" r="3.3"/>
<circle cx="2308.4" cy="1897.6" r="3.3"/>
<circle cx="2308.5" cy="1914.7" r="3.3"/>
<circle cx="2309.4" cy="1950.5" r="3.3"/>
<circle cx="2309.9" cy="2034.0" r="3.3"/>
<circle cx="2310.1" cy="1974.5" r="3.3"/>
<circle cx="2310.8" cy="1916.6" r="3.3"/>
<circle cx="2310.9" cy="1921.8" r="3.3"/>
<circle cx="2311.9" cy="1921.0" r="3.3"/>
<circle cx="2312.4" cy="1769.8" r="3.3"/>
<circle cx="2312.4" cy="1770.7" r="3.3"/>
<circle cx="2313.2" cy="1977.8" r="3.3"/>
<circle cx="2313.9" cy="1959.0" r="3.3"/>
<circle cx="2314.4" cy="1766.1" r="3.3"/>
<circle cx="2314.6" cy="2042.9" r="3.3"/>
<circle cx="2314.9" cy="1858.5" r="3.3"/>
<circle cx="2315.7" cy="1954.1" r="3.3"/>
<circle cx="2316.2" cy="1851.3" r="3.3"/>
<circle cx="2316.5" cy="1824.9" r="3.3"/>
<circle cx="2317.2" cy="1816.7" r="3.3"/>
<circle cx="2317.6" cy="1968.5" r="3.3"/>
<circle cx="2318.1" cy="1829.8" r="3.3"/>
<circle cx="2318.5" cy="1916.6" r="3.3"/>
<circle cx="2319.1" cy="1837.6" r="3.3"/>
<circle cx="2319.8" cy="1943.7" r="3.3"/>
<circle cx="2320.4" cy="1977.5" r="3.3"/>
<circle cx="2320.7" cy="1839.4" r="3.3"/>
<circle cx="2321.1" cy="2078.3" r="3.3"/>
<circle cx="2321.7" cy="1986.6" r="3.3"/>
<circle cx="2322.4" cy="1805.0" r="3.3"/>
<circle cx="2322.7" cy="1848.7" r="3.3"/>
<circle cx="2323.4" cy="1853.1" r="3.3"/>
<circle cx="2323.4" cy="1891.9" r="3.3"/>
<circle cx="2324.0" cy="1901.5" r="3.3"/>
<circle cx="2324.6" cy="2005.1" r="3.3"/>
<circle cx="2325.5" cy="1976.0" r="3.3"/>
<circle cx="2326.0" cy="2000.8" r="3.3"/>
<circle cx="2326.5" cy="1806.6" r="3.3"/>
<circle cx="2326.9" cy="1819.3" r="3.3"/>
<circle cx="2327.2" cy="1977.3" r="3.3"/>
<circle cx="2327.6" cy="1885.3" r="3.3"/>
<circle cx="2328.1" cy="2006.7" r="3.3"/>
<circle cx="2328.6" cy="1865.0" r="3.3"/>
<circle cx="2329.3" cy="1819.6" r="3.3"/>
<circle cx="2329.8" cy="1923.8" r="3.3"/>
<circle cx="2330.0" cy="1965.1" r="3.3"/>
<circle cx="2330.7" cy="1842.5" r="3.3"/>
<circle cx="2331.5" cy="1955.5" r="3.3"/>
<circle cx="2331.7" cy="1906.3" r="3.3"/>
<circle cx="2332.6" cy="1917.9" r="3.3"/>
<circle cx="2333.0" cy="1896.6" r="3.3"/>
<circle cx="2333.6" cy="1905.6" r="3.3"/>
<circle cx="2334.0" cy="2104.8" r="3.3"/>
<circle cx="2334.1" cy="1886.8" r="3.3"/>
<circle cx="2334.6" cy="1806.2" r="3.3"/>
<circle cx="2335.1" cy="1769.3" r="3.3"/>
<circle cx="2335.8" cy="1983.1" r="3.3"/>
<circle cx="2336.2" cy="1821.9" r="3.3"/>
<circle cx="2336.7" cy="1775.2" r="3.3"/>
<circle cx="2337.4" cy="1918.7" r="3.3"/>
<circle cx="2338.0" cy="1858.2" r="3.3"/>
<circle cx="2338.3" cy="1913.8" r="3.3"/>
<circle cx="2339.1" cy="1919.0" r="3.3"/>
<circle cx="2339.5" cy="1823.7" r="3.3"/>
<circle cx="2339.6" cy="1974.3" r="3.3"/>
<circle cx="2340.1" cy="1913.8" r="3.3"/>
<circle cx="2340.7" cy="1953.9" r="3.3"/>
<circle cx="2341.2" cy="1912.3" r="3.3"/>
<circle cx="2341.8" cy="1788.4" r="3.3"/>
<circle cx="2342.3" cy="1910.1" r="3.3"/>
<circle cx="2342.8" cy="1997.0" r="3.3"/>
<circle cx="2343.2" cy="1756.7" r="3.3"/>
<circle cx="2343.6" cy="1918.7" r="3.3"/>
<circle cx="2344.4" cy="1899.3" r="3.3"/>
<circle cx="2344.8" cy="2024.0" r="3.3"/>
<circle cx="2345.2" cy="1786.4" r="3.3"/>
<circle cx="2346.0" cy="1979.8" r="3.3"/>
<circle cx="2346.4" cy="1824.4" r="3.3"/>
<circle cx="2347.1" cy="1875.8" r="3.3"/>
<circle cx="2347.3" cy="1899.2" r="3.3"/>
<circle cx="2347.7" cy="1980.2" r="3.3"/>
<circle cx="2348.6" cy="1825.9" r="3.3"/>
<circle cx="2349.0" cy="2036.5" r="3.3"/>
<circle cx="2349.5" cy="1975.5" r="3.3"/>
<circle cx="2350.1" cy="1974.4" r="3.3"/>
<circle cx="2350.6" cy="1860.7" r="3.3"/>
<circle cx="2350.9" cy="1777.3" r="3.3"/>
<circle cx="2351.5" cy="1848.7" r="3.3"/>
<circle cx="2352.0" cy="1987.9" r="3.3"/>
<circle cx="2352.2" cy="1788.7" r="3.3"/>
<circle cx="2352.8" cy="2040.0" r="3.3"/>
<circle cx="2353.6" cy="1807.1" r="3.3"/>
<circle cx="2353.7" cy="2059.0" r="3.3"/>
<circle cx="2354.6" cy="1944.5" r="3.3"/>
<circle cx="2355.1" cy="1971.6" r="3.3"/>
<circle cx="2355.4" cy="1912.3" r="3.3"/>
<circle cx="2355.6" cy="1880.2" r="3.3"/>
<circle cx="2356.3" cy="1804.9" r="3.3"/>
<circle cx="2357.0" cy="1927.4" r="3.3"/>
<circle cx="2357.3" cy="1917.9" r="3.3"/>
<circle cx="2358.0" cy="1840.1" r="3.3"/>
<circle cx="2358.3" cy="1924.1" r="3.3"/>
<circle cx="2358.8" cy="1988.3" r="3.3"/>
<circle cx="2359.7" cy="2016.6" r="3.3"/>
<circle cx="2360.0" cy="1955.5" r="3.3"/>
<circle cx="2360.7" cy="1909.0" r="3.3"/>
<circle cx="2360.9" cy="1914.2" r="3.3"/>
<circle cx="2361.5" cy="1953.6" r="3.3"/>
<circle cx="2361.7" cy="1837.0" r="3.3"/>
<circle cx="2362.4" cy="1772.9" r="3.3"/>
<circle cx="2362.9" cy="1912.2" r="3.3"/>
<circle cx="2363.5" cy="1882.8" r="3.3"/>
<circle cx="2363.9" cy="2027.5" r="3.3"/>
<circle cx="2364.5" cy="1927.6" r="3.3"/>
<circle cx="2365.2" cy="1924.1" r="3.3"/>
<circle cx="2365.8" cy="1832.3" r="3.3"/>
<circle cx="2365.8" cy="1917.7" r="3.3"/>
<circle cx="2366.5" cy="1951.0" r="3.3"/>
<circle cx="2367.1" cy="1828.4" r="3.3"/>
<circle cx="2367.6" cy="1849.3" r="3.3"/>
<circle cx="2368.0" cy="1952.6" r="3.3"/>
<circle cx="2368.5" cy="1885.6" r="3.3"/>
<circle cx="2368.7" cy="2010.7" r="3.3"/>
<circle cx="2369.6" cy="1795.7" r="3.3"/>
<circle cx="2370.0" cy="1885.1" r="3.3"/>
<circle cx="2370.6" cy="1916.5" r="3.3"/>
<circle cx="2370.7" cy="1930.5" r="3.3"/>
<circle cx="2371.3" cy="1958.4" r="3.3"/>
<circle cx="2371.8" cy="1775.9" r="3.3"/>
<circle cx="2372.3" cy="1877.7" r="3.3"/>
<circle cx="2373.0" cy="2011.5" r="3.3"/>
<circle cx="2373.4" cy="1916.3" r="3.3"/>
<circle cx="2373.9" cy="2097.5" r="3.3"/>
<circle cx="2374.5" cy="1825.2" r="3.3"/>
<circle cx="2375.3" cy="1879.2" r="3.3"/>
<circle cx="2375.7" cy="1826.8" r="3.3"/>
<circle cx="2376.0" cy="1901.8" r="3.3"/>
<circle cx="2376.6" cy="1902.9" r="3.3"/>
<circle cx="2377.2" cy="1881.3" r="3.3"/>
<circle cx="2377.8" cy="1899.4" r="3.3"/>
<circle cx="2378.3" cy="1901.6" r="3.3"/>
<circle cx="2378.5" cy="2046.6" r="3.3"/>
<circle cx="2378.9" cy="1928.0" r="3.3"/>
<circle cx="2379.7" cy="1946.9" r="3.3"/>
<circle cx="2379.9" cy="1873.6" r="3.3"/>
<circle cx="2380.6" cy="1955.7" r="3.3"/>
<circle cx="2381.2" cy="2080.6" r="3.3"/>
<circle cx="2381.4" cy="1780.4" r="3.3"/>
<circle cx="2381.9" cy="1913.7" r="3.3"/>
<circle cx="2382.4" cy="1866.2" r="3.3"/>
<circle cx="2383.1" cy="2007.0" r="3.3"/>
<circle cx="2383.6" cy="1972.7" r="3.3"/>
<circle cx="2384.3" cy="1957.7" r="3.3"/>
<circle cx="2384.7" cy="1956.8" r="3.3"/>
<circle cx="2385.1" cy="1917.5" r="3.3"/>
<circle cx="2385.8" cy="2096.3" r="3.3"/>
<circle cx="2386.4" cy="1850.1" r="3.3"/>
<circle cx="2386.6" cy="1831.8" r="3.3"/>
<circle cx="2387.2" cy="1906.1" r="3.3"/>
<circle cx="2387.5" cy="1993.7" r="3.3"/>
<circle cx="2388.2" cy="1978.0" r="3.3"/>
<circle cx="2388.9" cy="1898.2" r="3.3"/>
<circle cx="2389.4" cy="1915.5" r="3.3"/>
<circle cx="2389.4" cy="1849.4" r="3.3"/>
<circle cx="2390.2" cy="1850.9" r="3.3"/>
<circle cx="2390.5" cy="1978.5" r="3.3"/>
<circle cx="2390.9" cy="1914.7" r="3.3"/>
<circle cx="2391.4" cy="1873.5" r="3.3"/>
<circle cx="2392.4" cy="1846.9" r="3.3"/>
<circle cx="2392.4" cy="1840.3" r="3.3"/>
<circle cx="2393.3" cy="1786.5" r="3.3"/>
<circle cx="2393.8" cy="1833.5" r="3.3"/>
<circle cx="2394.0" cy="1772.3" r="3.3"/>
<circle cx="2394.8" cy="1962.2" r="3.3"/>
<circle cx="2395.0" cy="1846.8" r="3.3"/>
<circle cx="2395.6" cy="1902.9" r="3.3"/>
<circle cx="2396.5" cy="1982.0" r="3.3"/>
<circle cx="2396.7" cy="1839.3" r="3.3"/>
<circle cx="2397.1" cy="1801.2" r="3.3"/>
<circle cx="2397.9" cy="1878.5" r="3.3"/>
<circle cx="2398.0" cy="1993.4" r="3.3"/>
<circle cx="2398.5" cy="1850.6" r="3.3"/>
<circle cx="2399.4" cy="1978.5" r="3.3"/>
<circle cx="2399.5" cy="1836.2" r="3.3"/>
<circle cx="2399.9" cy="1946.5" r="3.3"/>
<circle cx="2400.7" cy="1973.1" r="3.3"/>
<circle cx="2401.1" cy="1915.6" r="3.3"/>
<circle cx="2401.9" cy="2060.8" r="3.3"/>
<circle cx="2401.9" cy="1798.6" r="3.3"/>
<circle cx="2402.5" cy="1952.7" r="3.3"/>
<circle cx="2403.3" cy="1829.6" r="3.3"/>
<circle cx="2403.6" cy="1855.8" r="3.3"/>
<circle cx="2404.1" cy="1918.2" r="3.3"/>
<circle cx="2404.4" cy="1860.3" r="3.3"/>
<circle cx="2405.1" cy="1853.1" r="3.3"/>
<circle cx="2405.7" cy="1785.6" r="3.3"/>
<circle cx="2406.1" cy="1914.1" r="3.3"/>
<circle cx="2406.8" cy="1991.8" r="3.3"/>
<circle cx="2407.2" cy="1929.0" r="3.3"/>
<circle cx="2407.7" cy="1879.4" r="3.3"/>
<circle cx="2408.3" cy="1898.2" r="3.3"/>
<circle cx="2408.5" cy="1972.5" r="3.3"/>
<circle cx="2409.4" cy="1865.3" r="3.3"/>
<circle cx="2409.6" cy="1917.7" r="3.3"/>
<circle cx="2410.5" cy="1803.3" r="3.3"/>
<circle cx="2410.9" cy="1929.0" r="3.3"/>
<circle cx="2411.3" cy="1901.1" r="3.3"/>
<circle cx="2412.0" cy="1963.7" r="3.3"/>
<circle cx="2412.5" cy="1796.1" r="3.3"/>
<circle cx="2412.8" cy="1916.7" r="3.3"/>
<circle cx="2413.3" cy="1847.2" r="3.3"/>
<circle cx="2414.1" cy="2100.9" r="3.3"/>
<circle cx="2414.4" cy="1773.2" r="3.3"/>
<circle cx="2415.0" cy="1790.6" r="3.3"/>
<circle cx="2415.3" cy="1871.2" r="3.3"/>
<circle cx="2415.6" cy="1913.9" r="3.3"/>
<circle cx="2416.4" cy="1890.1" r="3.3"/>
<circle cx="2416.8" cy="1834.4" r="3.3"/>
<circle cx="2417.4" cy="1853.4" r="3.3"/>
<circle cx="2417.6" cy="1774.3" r="3.3"/>
<circle cx="2418.2" cy="1787.1" r="3.3"/>
<circle cx="2418.6" cy="2017.9" r="3.3"/>
<circle cx="2419.5" cy="1937.5" r="3.3"/>
<circle cx="2420.0" cy="1946.6" r="3.3"/>
<circle cx="2420.1" cy="1769.1" r="3.3"/>
<circle cx="2420.6" cy="1843.5" r="3.3"/>
<circle cx="2421.2" cy="1888.8" r="3.3"/>
<circle cx="2421.6" cy="1826.0" r="3.3"/>
<circle cx="2422.6" cy="1930.5" r="3.3"/>
<circle cx="2422.9" cy="1773.9" r="3.3"/>
<circle cx="2423.2" cy="1869.9" r="3.3"/>
<circle cx="2424.1" cy="1951.3" r="3.3"/>
<circle cx="2424.6" cy="1838.1" r="3.3"/>
<circle cx="2424.6" cy="1941.3" r="3.3"/>
<circle cx="2425.5" cy="1837.8" r="3.3"/>
<circle cx="2426.1" cy="1948.4" r="3.3"/>
<circle cx="2426.3" cy="1930.3" r="3.3"/>
<circle cx="2426.8" cy="1955.2" r="3.3"/>
<circle cx="2427.1" cy="1876.3" r="3.3"/>
<circle cx="2428.1" cy="1775.2" r="3.3"/>
<circle cx="2428.1" cy="1880.7" r="3.3"/>
<circle cx="2428.9" cy="1914.7" r="3.3"/>
<circle cx="2429.4" cy="1893.0" r="3.3"/>
<circle cx="2430.0" cy="1840.0" r="3.3"/>
<circle cx="2430.1" cy="1785.3" r="3.3"/>
<circle cx="2431.1" cy="1812.0" r="3.3"/>
<circle cx="2431.5" cy="1917.4" r="3.3"/>
<circle cx="2432.1" cy="1953.8" r="3.3"/>
<circle cx="2432.1" cy="1818.7" r="3.3"/>
<circle cx="2433.1" cy="1776.4" r="3.3"/>
<circle cx="2433.1" cy="1886.0" r="3.3"/>
<circle cx="2433.6" cy="1984.8" r="3.3"/>
<circle cx="2434.2" cy="1795.4" r="3.3"/>
<circle cx="2435.0" cy="1796.9" r="3.3"/>
<circle cx="2435.4" cy="1818.6" r="3.3"/>
<circle cx="2435.9" cy="1884.6" r="3.3"/>
<circle cx="2436.3" cy="1920.4" r="3.3"/>
<circle cx="2437.0" cy="1908.9" r="3.3"/>
<circle cx="2437.1" cy="1814.9" r="3.3"/>
<circle cx="2437.9" cy="1995.4" r="3.3"/>
<circle cx="2438.3" cy="1914.8" r="3.3"/>
<circle cx="2438.8" cy="1954.5" r="3.3"/>
<circle cx="2439.3" cy="1952.4" r="3.3"/>
<circle cx="2440.1" cy="1849.6" r="3.3"/>
<circle cx="2440.7" cy="1954.3" r="3.3"/>
<circle cx="2441.1" cy="1813.7" r="3.3"/>
<circle cx="2441.6" cy="1943.3" r="3.3"/>
<circle cx="2441.9" cy="1965.9" r="3.3"/>
<circle cx="2442.5" cy="1910.0" r="3.3"/>
<circle cx="2443.1" cy="1986.4" r="3.3"/>
<circle cx="2443.2" cy="1923.7" r="3.3"/>
<circle cx="2443.7" cy="1875.6" r="3.3"/>
<circle cx="2444.2" cy="1978.3" r="3.3"/>
<circle cx="2445.0" cy="1916.9" r="3.3"/>
<circle cx="2445.7" cy="1812.5" r="3.3"/>
<circle cx="2445.9" cy="2086.6" r="3.3"/>
<circle cx="2446.3" cy="1949.4" r="3.3"/>
<circle cx="2446.9" cy="1973.3" r="3.3"/>
<circle cx="2447.2" cy="1767.6" r="3.3"/>
<circle cx="2448.3" cy="1860.0" r="3.3"/>
<circle cx="2448.6" cy="1941.3" r="3.3"/>
<circle cx="2449.1" cy="1833.6" r="3.3"/>
<circle cx="2449.7" cy="1969.1" r="3.3"/>
<circle cx="2449.9" cy="1881.0" r="3.3"/>
<circle cx="2450.5" cy="1849.8" r="3.3"/>
<circle cx="2451.2" cy="1939.6" r="3.3"/>
<circle cx="2451.6" cy="2025.7" r="3.3"/>
<circle cx="2451.9" cy="1821.5" r="3.3"/>
<circle cx="2452.5" cy="1806.3" r="3.3"/>
<circle cx="2452.7" cy="1923.6" r="3.3"/>
<circle cx="2453.5" cy="1799.8" r="3.3"/>
<circle cx="2454.2" cy="1978.1" r="3.3"/>
<circle cx="2454.6" cy="1885.4" r="3.3"/>
<circle cx="2454.9" cy="1779.3" r="3.3"/>
<circle cx="2455.5" cy="1774.6" r="3.3"/>
<circle cx="2456.2" cy="1809.1" r="3.3"/>
<circle cx="2456.6" cy="1863.4" r="3.3"/>
<circle cx="2457.3" cy="1952.1" r="3.3"/>
<circle cx="2457.6" cy="1921.7" r="3.3"/>
<circle cx="2458.2" cy="2084.7" r="3.3"/>
<circle cx="2458.2" cy="1933.4" r="3.3"/>
<circle cx="2459.1" cy="1904.0" r="3.3"/>
<circle cx="2459.6" cy="1919.4" r="3.3"/>
<circle cx="2460.2" cy="1772.0" r="3.3"/>
<circle cx="2460.4" cy="2046.0" r="3.3"/>
<circle cx="2461.2" cy="1898.7" r="3.3"/>
<circle cx="2461.5" cy="1867.8" r="3.3"/>
<circle cx="2462.0" cy="1877.4" r="3.3"/>
<circle cx="2462.5" cy="2103.2" r="3.3"/>
<circle cx="2462.9" cy="1788.5" r="3.3"/>
<circle cx="2463.6" cy="1813.0" r="3.3"/>
<circle cx="2464.0" cy="1948.7" r="3.3"/>
<circle cx="2464.8" cy="1858.0" r="3.3"/>
<circle cx="2465.3" cy="1843.9" r="3.3"/>
<circle cx="2465.4" cy="1906.9" r="3.3"/>
<circle cx="2465.8" cy="1991.9" r="3.3"/>
<circle cx="2466.6" cy="1938.4" r="3.3"/>
<circle cx="2467.0" cy="1909.6" r="3.3"/>
<circle cx="2467.4" cy="1805.2" r="3.3"/>
<circle cx="2468.2" cy="1772.7" r="3.3"/>
<circle cx="2468.8" cy="1890.1" r="3.3"/>
<circle cx="2469.2" cy="1843.2" r="3.3"/>
<circle cx="2469.9" cy="1903.2" r="3.3"/>
<circle cx="2469.9" cy="1830.1" r="3.3"/>
<circle cx="2470.7" cy="1987.5" r="3.3"/>
<circle cx="2471.4" cy="1850.2" r="3.3"/>
<circle cx="2471.4" cy="1969.4" r="3.3"/>
<circle cx="2472.4" cy="1915.4" r="3.3"/>
<circle cx="2472.5" cy="1975.4" r="3.3"/>
<circle cx="2473.3" cy="1806.0" r="3.3"/>
<circle cx="2473.7" cy="1856.8" r="3.3"/>
<circle cx="2474.1" cy="1947.5" r="3.3"/>
<circle cx="2474.4" cy="1820.2" r="3.3"/>
<circle cx="2475.1" cy="1983.0" r="3.3"/>
<circle cx="2475.9" cy="1884.1" r="3.3"/>
<circle cx="2475.9" cy="1916.3" r="3.3"/>
<circle cx="2476.8" cy="1959.0" r="3.3"/>
<circle cx="2477.4" cy="1918.8" r="3.3"/>
<circle cx="2477.7" cy="2021.2" r="3.3"/>
<circle cx="2478.1" cy="1878.9" r="3.3"/>
<circle cx="2478.6" cy="1935.7" r="3.3"/>
<circle cx="2479.4" cy="1973.0" r="3.3"/>
<circle cx="2479.5" cy="1873.9" r="3.3"/>
<circle cx="2480.3" cy="1863.8" r="3.3"/>
<circle cx="2480.6" cy="2001.6" r="3.3"/>
<circle cx="2481.3" cy="1819.2" r="3.3"/>
<circle cx="2481.5" cy="2006.4" r="3.3"/>
<circle cx="2482.0" cy="1960.4" r="3.3"/>
<circle cx="2482.5" cy="1979.0" r="3.3"/>
<circle cx="2483.1" cy="1856.8" r="3.3"/>
<circle cx="2483.4" cy="1949.2" r="3.3"/>
<circle cx="2484.1" cy="1926.8" r="3.3"/>
<circle cx="2484.4" cy="1819.7" r="3.3"/>
<circle cx="2485.2" cy="1976.2" r="3.3"/>
<circle cx="2485.6" cy="1916.7" r="3.3"/>
<circle cx="2486.5" cy="1778.1" r="3.3"/>
<circle cx="2486.9" cy="1845.9" r="3.3"/>
<circle cx="2487.0" cy="1915.0" r="3.3"/>
<circle cx="2487.5" cy="1969.8" r="3.3"/>
<circle cx="2488.0" cy="1793.2" r="3.3"/>
<circle cx="2489.0" cy="2062.5" r="3.3"/>
<circle cx="2489.3" cy="2013.6" r="3.3"/>
<circle cx="2489.8" cy="1892.8" r="3.3"/>
<circle cx="2490.2" cy="1810.7" r="3.3"/>
<circle cx="2490.9" cy="1914.3" r="3.3"/>
<circle cx="2491.4" cy="1931.4" r="3.3"/>
<circle cx="2491.5" cy="1973.0" r="3.3"/>
<circle cx="2492.1" cy="1801.3" r="3.3"/>
<circle cx="2492.8" cy="1877.7" r="3.3"/>
<circle cx="2493.1" cy="1827.1" r="3.3"/>
<circle cx="2493.9" cy="1973.8" r="3.3"/>
<circle cx="2494.0" cy="1755.6" r="3.3"/>
<circle cx="2494.9" cy="1971.7" r="3.3"/>
<circle cx="2495.4" cy="1915.3" r="3.3"/>
<circle cx="2495.6" cy="1876.5" r="3.3"/>
<circle cx="2496.4" cy="1904.2" r="3.3"/>
<circle cx="2496.6" cy="1798.0" r="3.3"/>
<circle cx="2497.6" cy="1916.6" r="3.3"/>
<circle cx="2497.7" cy="1975.6" r="3.3"/>
<circle cx="2498.6" cy="1804.2" r="3.3"/>
<circle cx="2499.0" cy="1805.7" r="3.3"/>
<circle cx="2499.1" cy="2003.7" r="3.3"/>
<circle cx="2500.0" cy="1817.2" r="3.3"/>
<circle cx="2500.1" cy="1997.9" r="3.3"/>
<circle cx="2500.9" cy="1860.8" r="3.3"/>
<circle cx="2501.3" cy="1952.7" r="3.3"/>
<circle cx="2501.8" cy="1901.7" r="3.3"/>
<circle cx="2502.2" cy="1928.6" r="3.3"/>
<circle cx="2502.6" cy="1919.6" r="3.3"/>
<circle cx="2503.0" cy="1777.7" r="3.3"/>
<circle cx="2504.1" cy="1792.9" r="3.3"/>
<circle cx="2504.0" cy="1972.2" r="3.3"/>
<circle cx="2504.7" cy="1858.0" r="3.3"/>
<circle cx="2505.5" cy="1809.4" r="3.3"/>
<circle cx="2505.6" cy="1884.1" r="3.3"/>
<circle cx="2506.5" cy="1775.0" r="3.3"/>
<circle cx="2506.6" cy="1979.2" r="3.3"/>
<circle cx="2507.5" cy="1815.4" r="3.3"/>
<circle cx="2507.7" cy="1955.3" r="3.3"/>
<circle cx="2508.2" cy="1892.4" r="3.3"/>
<circle cx="2509.1" cy="1970.0" r="3.3"/>
<circle cx="2509.1" cy="1909.4" r="3.3"/>
<circle cx="2510.0" cy="2091.4" r="3.3"/>
<circle cx="2510.3" cy="1815.7" r="3.3"/>
<circle cx="2511.0" cy="1978.6" r="3.3"/>
<circle cx="2511.6" cy="1824.5" r="3.3"/>
<circle cx="2511.7" cy="1914.0" r="3.3"/>
<circle cx="2512.4" cy="1867.3" r="3.3"/>
<circle cx="2512.6" cy="1974.1" r="3.3"/>
<circle cx="2513.3" cy="1828.2" r="3.3"/>
<circle cx="2513.6" cy="1842.8" r="3.3"/>
<circle cx="2514.3" cy="1876.0" r="3.3"/>
<circle cx="2515.0" cy="1916.5" r="3.3"/>
<circle cx="2515.3" cy="1855.3" r="3.3"/>
<circle cx="2515.8" cy="1843.0" r="3.3"/>
<circle cx="2516.1" cy="1863.5" r="3.3"/>
<circle cx="2517.1" cy="1909.4" r="3.3"/>
<circle cx="2517.4" cy="1856.3" r="3.3"/>
<circle cx="2517.7" cy="1774.6" r="3.3"/>
<circle cx="2518.3" cy="1981.2" r="3.3"/>
<circle cx="2518.9" cy="1955.5" r="3.3"/>
<circle cx="2519.5" cy="1969.7" r="3.3"/>
<circle cx="2519.9" cy="1933.5" r="3.3"/>
<circle cx="2520.4" cy="1921.9" r="3.3"/>
<circle cx="2521.1" cy="1974.4" r="3.3"/>
<circle cx="2521.5" cy="1917.1" r="3.3"/>
<circle cx="2521.9" cy="2007.2" r="3.3"/>
<circle cx="2522.2" cy="1867.2" r="3.3"/>
<circle cx="2522.9" cy="1913.2" r="3.3"/>
<circle cx="2523.3" cy="1947.2" r="3.3"/>
<circle cx="2524.1" cy="1971.7" r="3.3"/>
<circle cx="2524.6" cy="1975.3" r="3.3"/>
<circle cx="2525.1" cy="1842.4" r="3.3"/>
<circle cx="2525.5" cy="1943.1" r="3.3"/>
<circle cx="2525.9" cy="1772.2" r="3.3"/>
<circle cx="2526.7" cy="1863.8" r="3.3"/>
<circle cx="2526.9" cy="2005.5" r="3.3"/>
<circle cx="2527.2" cy="1829.5" r="3.3"/>
<circle cx="2527.9" cy="1857.1" r="3.3"/>
<circle cx="2528.7" cy="1874.9" r="3.3"/>
<circle cx="2529.2" cy="1988.4" r="3.3"/>
<circle cx="2529.4" cy="1838.8" r="3.3"/>
<circle cx="2529.9" cy="1930.7" r="3.3"/>
<circle cx="2530.2" cy="2082.8" r="3.3"/>
<circle cx="2531.1" cy="1796.7" r="3.3"/>
<circle cx="2531.3" cy="1971.7" r="3.3"/>
<circle cx="2532.2" cy="1974.4" r="3.3"/>
<circle cx="2532.8" cy="1841.9" r="3.3"/>
<circle cx="2533.0" cy="2014.5" r="3.3"/>
<circle cx="2533.3" cy="1952.9" r="3.3"/>
<circle cx="2534.1" cy="1920.0" r="3.3"/>
<circle cx="2534.3" cy="1852.1" r="3.3"/>
<circle cx="2534.8" cy="2025.5" r="3.3"/>
<circle cx="2535.8" cy="2009.4" r="3.3"/>
<circle cx="2536.0" cy="1969.8" r="3.3"/>
<circle cx="2536.7" cy="1787.6" r="3.3"/>
<circle cx="2536.7" cy="1983.4" r="3.3"/>
<circle cx="2537.7" cy="1775.7" r="3.3"/>
<circle cx="2538.1" cy="2072.5" r="3.3"/>
<circle cx="2538.4" cy="1929.0" r="3.3"/>
<circle cx="2539.3" cy="1941.3" r="3.3"/>
<circle cx="2539.7" cy="1959.1" r="3.3"/>
<circle cx="2540.0" cy="1905.3" r="3.3"/>
<circle cx="2540.3" cy="1931.8" r="3.3"/>
<circle cx="2540.9" cy="1758.9" r="3.3"/>
<circle cx="2541.5" cy="1839.3" r="3.3"/>
<circle cx="2541.7" cy="1947.4" r="3.3"/>
<circle cx="2542.6" cy="1979.5" r="3.3"/>
<circle cx="2542.9" cy="1957.0" r="3.3"/>
<circle cx="2543.3" cy="1788.8" r="3.3"/>
<circle cx="2544.1" cy="1924.7" r="3.3"/>
<circle cx="2544.7" cy="1918.2" r="3.3"/>
<circle cx="2545.3" cy="2012.4" r="3.3"/>
<circle cx="2545.6" cy="1909.5" r="3.3"/>
<circle cx="2546.1" cy="1925.6" r="3.3"/>
<circle cx="2546.8" cy="1865.9" r="3.3"/>
<circle cx="2547.3" cy="1912.3" r="3.3"/>
<circle cx="2547.9" cy="1954.2" r="3.3"/>
<circle cx="2548.0" cy="1890.2" r="3.3"/>
<circle cx="2548.9" cy="1776.7" r="3.3"/>
<circle cx="2549.2" cy="1881.9" r="3.3"/>
<circle cx="2549.5" cy="1795.1" r="3.3"/>
<circle cx="2550.0" cy="1809.2" r="3.3"/>
<circle cx="2550.5" cy="1971.1" r="3.3"/>
<circle cx="2551.1" cy="2091.7" r="3.3"/>
<circle cx="2551.5" cy="1843.8" r="3.3"/>
<circle cx="2552.1" cy="2001.9" r="3.3"/>
<circle cx="2552.3" cy="1916.7" r="3.3"/>
<circle cx="2553.3" cy="1859.8" r="3.3"/>
<circle cx="2553.7" cy="1947.6" r="3.3"/>
<circle cx="2553.8" cy="1913.0" r="3.3"/>
<circle cx="2554.8" cy="1805.9" r="3.3"/>
<circle cx="2554.9" cy="2047.4" r="3.3"/>
<circle cx="2555.7" cy="1920.1" r="3.3"/>
<circle cx="2556.1" cy="1911.0" r="3.3"/>
<circle cx="2556.6" cy="1822.7" r="3.3"/>
<circle cx="2557.0" cy="1788.7" r="3.3"/>
<circle cx="2557.7" cy="1837.5" r="3.3"/>
<circle cx="2558.4" cy="1851.5" r="3.3"/>
<circle cx="2558.9" cy="2038.6" r="3.3"/>
<circle cx="2558.9" cy="1826.1" r="3.3"/>
<circle cx="2559.4" cy="1910.3" r="3.3"/>
<circle cx="2559.9" cy="1783.8" r="3.3"/>
<circle cx="2560.8" cy="1953.8" r="3.3"/>
<circle cx="2561.4" cy="1775.3" r="3.3"/>
<circle cx="2561.4" cy="1981.1" r="3.3"/>
<circle cx="2561.9" cy="1953.4" r="3.3"/>
<circle cx="2562.4" cy="1912.2" r="3.3"/>
<circle cx="2563.3" cy="1956.8" r="3.3"/>
<circle cx="2563.7" cy="1849.2" r="3.3"/>
<circle cx="2564.0" cy="1876.4" r="3.3"/>
<circle cx="2564.6" cy="1846.6" r="3.3"/>
<circle cx="2564.9" cy="1955.7" r="3.3"/>
<circle cx="2566.0" cy="2013.7" r="3.3"/>
<circle cx="2565.9" cy="1914.9" r="3.3"/>
<circle cx="2566.8" cy="1821.2" r="3.3"/>
<circle cx="2567.0" cy="1913.9" r="3.3"/>
<circle cx="2567.4" cy="1840.9" r="3.3"/>
<circle cx="2568.1" cy="1900.6" r="3.3"/>
<circle cx="2568.9" cy="2023.3" r="3.3"/>
<circle cx="2569.0" cy="1917.1" r="3.3"/>
<circle cx="2569.4" cy="1780.8" r="3.3"/>
<circle cx="2570.0" cy="1959.8" r="3.3"/>
<circle cx="2570.8" cy="1926.2" r="3.3"/>
<circle cx="2571.5" cy="1840.7" r="3.3"/>
<circle cx="2571.7" cy="1988.1" r="3.3"/>
<circle cx="2572.0" cy="1780.5" r="3.3"/>
<circle cx="2572.9" cy="1865.1" r="3.3"/>
<circle cx="2573.1" cy="1864.2" r="3.3"/>
<circle cx="2573.8" cy="1834.7" r="3.3"/>
<circle cx="2574.2" cy="1940.7" r="3.3"/>
<circle cx="2574.7" cy="1769.6" r="3.3"/>
<circle cx="2575.1" cy="1976.2" r="3.3"/>
<circle cx="2575.4" cy="1870.6" r="3.3"/>
<circle cx="2576.3" cy="1910.7" r="3.3"/>
<circle cx="2576.6" cy="1946.5" r="3.3"/>
<circle cx="2577.1" cy="1833.6" r="3.3"/>
<circle cx="2577.5" cy="1917.9" r="3.3"/>
<circle cx="2578.0" cy="1954.9" r="3.3"/>
<circle cx="2579.0" cy="1989.7" r="3.3"/>
<circle cx="2579.1" cy="1866.4" r="3.3"/>
<circle cx="2580.0" cy="1952.8" r="3.3"/>
<circle cx="2580.0" cy="1844.1" r="3.3"/>
<circle cx="2580.8" cy="1786.3" r="3.3"/>
<circle cx="2581.4" cy="1907.3" r="3.3"/>
<circle cx="2581.8" cy="1819.4" r="3.3"/>
<circle cx="2582.5" cy="1926.8" r="3.3"/>
<circle cx="2582.6" cy="1815.6" r="3.3"/>
<circle cx="2583.5" cy="1909.2" r="3.3"/>
<circle cx="2583.8" cy="1926.7" r="3.3"/>
<circle cx="2584.5" cy="1990.0" r="3.3"/>
<circle cx="2584.5" cy="1974.4" r="3.3"/>
<circle cx="2585.3" cy="1949.2" r="3.3"/>
<circle cx="2585.8" cy="2084.5" r="3.3"/>
<circle cx="2586.5" cy="1966.8" r="3.3"/>
<circle cx="2586.9" cy="2002.3" r="3.3"/>
<circle cx="2587.6" cy="1788.6" r="3.3"/>
<circle cx="2587.9" cy="1906.6" r="3.3"/>
<circle cx="2588.1" cy="1792.3" r="3.3"/>
<circle cx="2589.0" cy="1870.0" r="3.3"/>
<circle cx="2589.3" cy="1977.2" r="3.3"/>
<circle cx="2590.0" cy="1886.7" r="3.3"/>
<circle cx="2590.3" cy="1917.8" r="3.3"/>
<circle cx="2590.6" cy="1798.3" r="3.3"/>
<circle cx="2591.5" cy="1884.9" r="3.3"/>
<circle cx="2592.1" cy="1915.4" r="3.3"/>
<circle cx="2592.5" cy="1915.0" r="3.3"/>
<circle cx="2592.9" cy="1914.3" r="3.3"/>
<circle cx="2593.2" cy="1941.7" r="3.3"/>
<circle cx="2594.1" cy="1869.4" r="3.3"/>
<circle cx="2594.4" cy="1916.4" r="3.3"/>
<circle cx="2594.7" cy="1867.6" r="3.3"/>
<circle cx="2595.1" cy="1843.8" r="3.3"/>
<circle cx="2596.1" cy="1973.8" r="3.3"/>
<circle cx="2596.4" cy="1821.9" r="3.3"/>
<circle cx="2597.1" cy="1830.7" r="3.3"/>
<circle cx="2597.2" cy="1954.8" r="3.3"/>
<circle cx="2597.7" cy="1947.1" r="3.3"/>
<circle cx="2598.3" cy="1980.3" r="3.3"/>
<circle cx="2598.7" cy="2017.4" r="3.3"/>
<circle cx="2599.1" cy="1936.5" r="3.3"/>
<circle cx="2599.9" cy="1781.9" r="3.3"/>
<circle cx="2600.6" cy="1842.0" r="3.3"/>
</g>
<path d="M2278,1744 L2278,1727 L2342,1727" stroke="#d4538b" stroke-width="2" fill="none" stroke-dasharray="2 2.5"/>
<circle cx="2278.0" cy="1744.3" r="8.5" fill="#d4538b" stroke="#fff" stroke-width="1"/>
<rect x="2342.0" y="1711.0" width="210.0" height="34.0" rx="4" fill="#cf5f91"/>
<text x="2447.0" y="1738.0" font-size="27.3" text-anchor="middle" fill="#fff">Conv. = 95.31%</text>
<line x1="1985.0" y1="1985.0" x2="1985.0" y2="2097.0" stroke="#4a9cc4" stroke-width="2" stroke-dasharray="2 2.5"/>
<circle cx="1985.0" cy="1977.4" r="8.5" fill="#5aa7cc" stroke="#fff" stroke-width="1"/>
<rect x="1947.0" y="2097.0" width="210.0" height="32.5" rx="4" fill="#5aa7cc"/>
<text x="2052.0" y="2123.5" font-size="27.3" text-anchor="middle" fill="#fff">Conv. = 37.64%</text>
</g>
</svg></body></html>
